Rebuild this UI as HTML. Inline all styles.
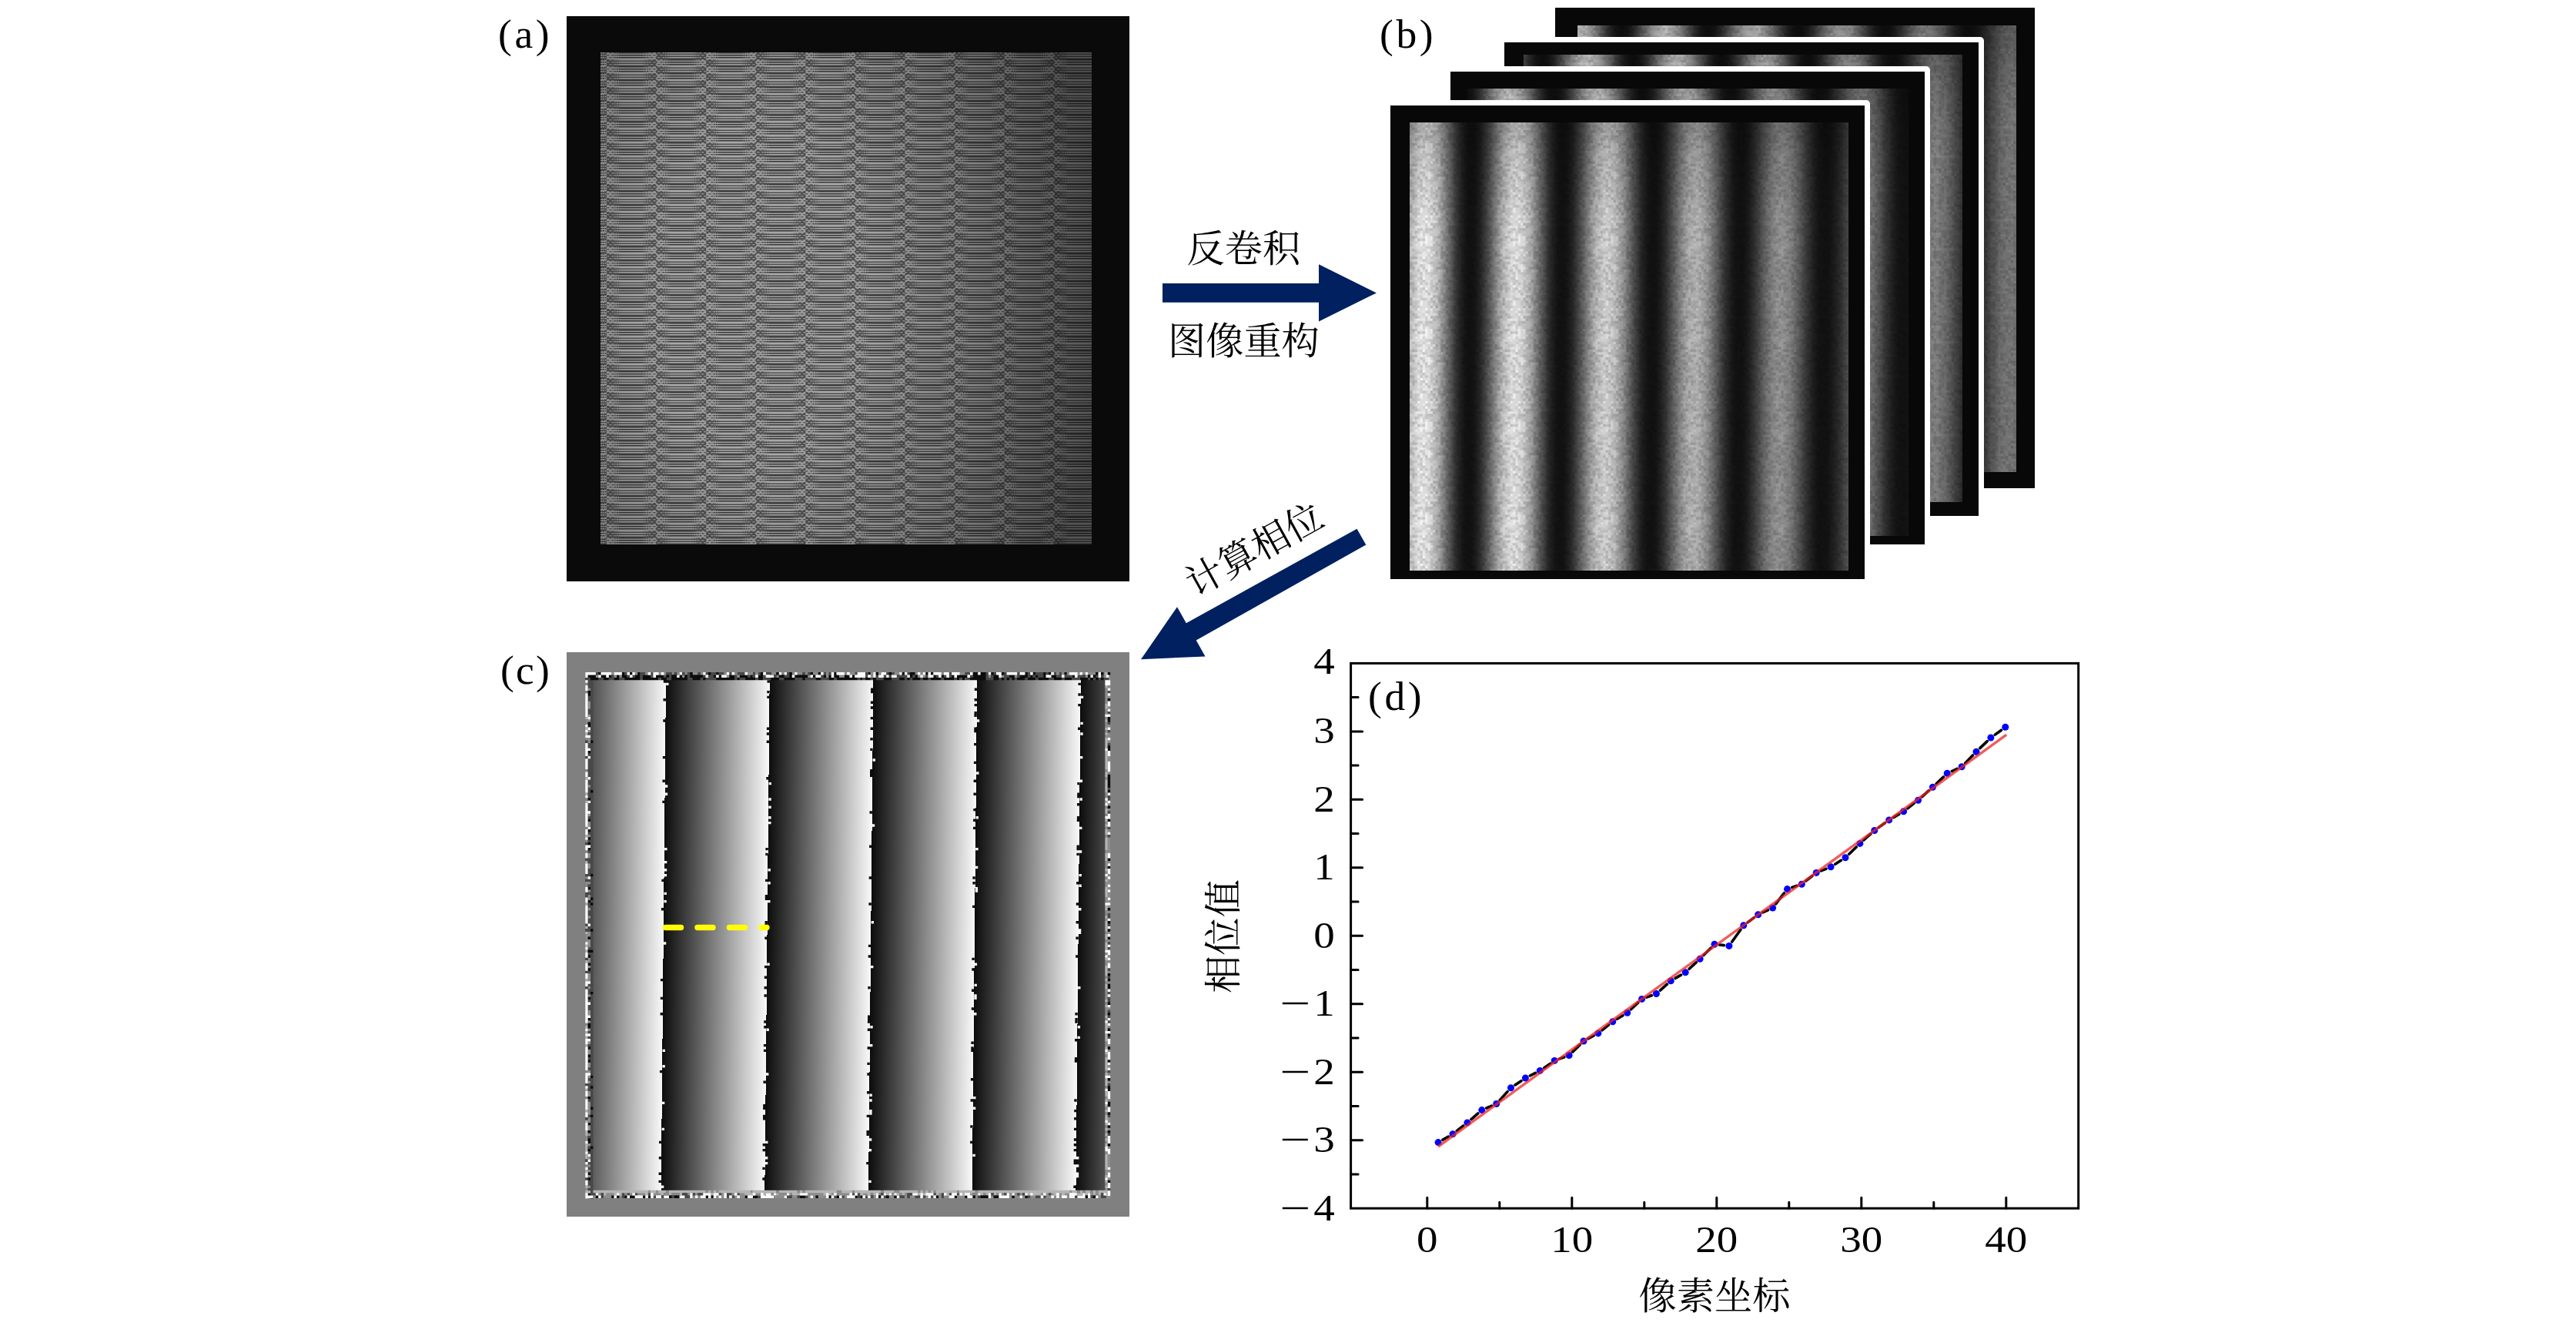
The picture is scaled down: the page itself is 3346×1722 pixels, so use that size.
<!DOCTYPE html>
<html lang="zh"><head><meta charset="utf-8"><title>figure</title>
<style>
html,body{margin:0;padding:0;background:#fff}
body{width:3346px;height:1722px;position:relative;overflow:hidden;font-family:"Liberation Serif","Noto Serif CJK SC",serif;color:#000}
.abs{position:absolute}
.fill{position:absolute;left:0;top:0;width:100%;height:100%}
.lab{position:absolute;font-size:53.5px;letter-spacing:3.6px;line-height:1;white-space:nowrap}
.frame{position:absolute;background:#080808}
.inner{position:absolute;overflow:hidden}
.fr{position:absolute;transform:rotate(.5deg);transform-origin:50% 50%}
.wb{position:absolute;background:#fff;border-top-right-radius:5px}
.nz{position:absolute;left:0;top:0;width:100%;height:100%;mix-blend-mode:multiply}

</style></head><body>
<svg width="0" height="0" style="position:absolute"><defs><pattern id="nz" width="120.60" height="120.60" patternUnits="userSpaceOnUse"><rect width="120.60" height="120.60" fill="#e6e6e6"/><path d="M10.05 0.00h3.35v3.35h-3.35zM20.10 0.00h3.35v3.35h-3.35zM26.80 0.00h3.35v3.35h-3.35zM33.50 0.00h3.35v3.35h-3.35zM36.85 0.00h3.35v3.35h-3.35zM70.35 0.00h3.35v3.35h-3.35zM83.75 0.00h3.35v3.35h-3.35zM110.55 0.00h3.35v3.35h-3.35zM113.90 0.00h3.35v3.35h-3.35zM50.25 3.35h3.35v3.35h-3.35zM67.00 3.35h3.35v3.35h-3.35zM113.90 3.35h3.35v3.35h-3.35zM20.10 6.70h3.35v3.35h-3.35zM30.15 6.70h3.35v3.35h-3.35zM33.50 6.70h3.35v3.35h-3.35zM53.60 6.70h3.35v3.35h-3.35zM113.90 6.70h3.35v3.35h-3.35zM23.45 10.05h3.35v3.35h-3.35zM46.90 10.05h3.35v3.35h-3.35zM53.60 10.05h3.35v3.35h-3.35zM56.95 10.05h3.35v3.35h-3.35zM70.35 10.05h3.35v3.35h-3.35zM73.70 10.05h3.35v3.35h-3.35zM80.40 10.05h3.35v3.35h-3.35zM87.10 10.05h3.35v3.35h-3.35zM6.70 13.40h3.35v3.35h-3.35zM10.05 13.40h3.35v3.35h-3.35zM26.80 13.40h3.35v3.35h-3.35zM43.55 13.40h3.35v3.35h-3.35zM117.25 13.40h3.35v3.35h-3.35zM0.00 16.75h3.35v3.35h-3.35zM67.00 16.75h3.35v3.35h-3.35zM36.85 20.10h3.35v3.35h-3.35zM3.35 23.45h3.35v3.35h-3.35zM13.40 23.45h3.35v3.35h-3.35zM46.90 23.45h3.35v3.35h-3.35zM20.10 26.80h3.35v3.35h-3.35zM26.80 26.80h3.35v3.35h-3.35zM103.85 26.80h3.35v3.35h-3.35zM113.90 26.80h3.35v3.35h-3.35zM6.70 30.15h3.35v3.35h-3.35zM20.10 30.15h3.35v3.35h-3.35zM26.80 30.15h3.35v3.35h-3.35zM67.00 30.15h3.35v3.35h-3.35zM70.35 30.15h3.35v3.35h-3.35zM80.40 30.15h3.35v3.35h-3.35zM93.80 30.15h3.35v3.35h-3.35zM100.50 30.15h3.35v3.35h-3.35zM13.40 33.50h3.35v3.35h-3.35zM20.10 33.50h3.35v3.35h-3.35zM50.25 33.50h3.35v3.35h-3.35zM56.95 33.50h3.35v3.35h-3.35zM77.05 33.50h3.35v3.35h-3.35zM6.70 36.85h3.35v3.35h-3.35zM13.40 36.85h3.35v3.35h-3.35zM26.80 36.85h3.35v3.35h-3.35zM87.10 36.85h3.35v3.35h-3.35zM107.20 36.85h3.35v3.35h-3.35zM113.90 36.85h3.35v3.35h-3.35zM0.00 40.20h3.35v3.35h-3.35zM3.35 40.20h3.35v3.35h-3.35zM53.60 40.20h3.35v3.35h-3.35zM110.55 40.20h3.35v3.35h-3.35zM0.00 43.55h3.35v3.35h-3.35zM23.45 43.55h3.35v3.35h-3.35zM43.55 43.55h3.35v3.35h-3.35zM53.60 43.55h3.35v3.35h-3.35zM97.15 43.55h3.35v3.35h-3.35zM117.25 43.55h3.35v3.35h-3.35zM0.00 46.90h3.35v3.35h-3.35zM30.15 46.90h3.35v3.35h-3.35zM46.90 46.90h3.35v3.35h-3.35zM117.25 46.90h3.35v3.35h-3.35zM0.00 50.25h3.35v3.35h-3.35zM26.80 50.25h3.35v3.35h-3.35zM77.05 50.25h3.35v3.35h-3.35zM80.40 50.25h3.35v3.35h-3.35zM16.75 53.60h3.35v3.35h-3.35zM36.85 53.60h3.35v3.35h-3.35zM117.25 53.60h3.35v3.35h-3.35zM3.35 56.95h3.35v3.35h-3.35zM40.20 56.95h3.35v3.35h-3.35zM90.45 56.95h3.35v3.35h-3.35zM93.80 56.95h3.35v3.35h-3.35zM110.55 56.95h3.35v3.35h-3.35zM13.40 60.30h3.35v3.35h-3.35zM46.90 60.30h3.35v3.35h-3.35zM80.40 60.30h3.35v3.35h-3.35zM83.75 60.30h3.35v3.35h-3.35zM103.85 60.30h3.35v3.35h-3.35zM23.45 63.65h3.35v3.35h-3.35zM50.25 63.65h3.35v3.35h-3.35zM23.45 67.00h3.35v3.35h-3.35zM26.80 67.00h3.35v3.35h-3.35zM63.65 67.00h3.35v3.35h-3.35zM83.75 67.00h3.35v3.35h-3.35zM0.00 70.35h3.35v3.35h-3.35zM23.45 70.35h3.35v3.35h-3.35zM36.85 70.35h3.35v3.35h-3.35zM40.20 70.35h3.35v3.35h-3.35zM43.55 70.35h3.35v3.35h-3.35zM87.10 70.35h3.35v3.35h-3.35zM103.85 70.35h3.35v3.35h-3.35zM50.25 73.70h3.35v3.35h-3.35zM63.65 73.70h3.35v3.35h-3.35zM67.00 73.70h3.35v3.35h-3.35zM90.45 73.70h3.35v3.35h-3.35zM93.80 73.70h3.35v3.35h-3.35zM77.05 77.05h3.35v3.35h-3.35zM93.80 77.05h3.35v3.35h-3.35zM100.50 77.05h3.35v3.35h-3.35zM16.75 80.40h3.35v3.35h-3.35zM53.60 80.40h3.35v3.35h-3.35zM80.40 80.40h3.35v3.35h-3.35zM83.75 80.40h3.35v3.35h-3.35zM97.15 80.40h3.35v3.35h-3.35zM33.50 83.75h3.35v3.35h-3.35zM60.30 83.75h3.35v3.35h-3.35zM73.70 83.75h3.35v3.35h-3.35zM100.50 83.75h3.35v3.35h-3.35zM10.05 87.10h3.35v3.35h-3.35zM80.40 87.10h3.35v3.35h-3.35zM90.45 87.10h3.35v3.35h-3.35zM97.15 87.10h3.35v3.35h-3.35zM13.40 90.45h3.35v3.35h-3.35zM43.55 90.45h3.35v3.35h-3.35zM53.60 90.45h3.35v3.35h-3.35zM63.65 90.45h3.35v3.35h-3.35zM70.35 90.45h3.35v3.35h-3.35zM83.75 90.45h3.35v3.35h-3.35zM20.10 93.80h3.35v3.35h-3.35zM67.00 93.80h3.35v3.35h-3.35zM93.80 93.80h3.35v3.35h-3.35zM0.00 97.15h3.35v3.35h-3.35zM43.55 97.15h3.35v3.35h-3.35zM70.35 97.15h3.35v3.35h-3.35zM73.70 97.15h3.35v3.35h-3.35zM103.85 97.15h3.35v3.35h-3.35zM107.20 97.15h3.35v3.35h-3.35zM113.90 97.15h3.35v3.35h-3.35zM33.50 100.50h3.35v3.35h-3.35zM53.60 100.50h3.35v3.35h-3.35zM87.10 100.50h3.35v3.35h-3.35zM100.50 100.50h3.35v3.35h-3.35zM107.20 100.50h3.35v3.35h-3.35zM26.80 103.85h3.35v3.35h-3.35zM40.20 103.85h3.35v3.35h-3.35zM63.65 103.85h3.35v3.35h-3.35zM70.35 103.85h3.35v3.35h-3.35zM3.35 107.20h3.35v3.35h-3.35zM87.10 107.20h3.35v3.35h-3.35zM97.15 107.20h3.35v3.35h-3.35zM100.50 107.20h3.35v3.35h-3.35zM113.90 107.20h3.35v3.35h-3.35zM117.25 107.20h3.35v3.35h-3.35zM13.40 110.55h3.35v3.35h-3.35zM33.50 110.55h3.35v3.35h-3.35zM46.90 110.55h3.35v3.35h-3.35zM53.60 110.55h3.35v3.35h-3.35zM56.95 110.55h3.35v3.35h-3.35zM80.40 110.55h3.35v3.35h-3.35zM83.75 110.55h3.35v3.35h-3.35zM100.50 110.55h3.35v3.35h-3.35zM13.40 113.90h3.35v3.35h-3.35zM43.55 113.90h3.35v3.35h-3.35zM53.60 113.90h3.35v3.35h-3.35zM67.00 113.90h3.35v3.35h-3.35zM113.90 113.90h3.35v3.35h-3.35zM0.00 117.25h3.35v3.35h-3.35zM30.15 117.25h3.35v3.35h-3.35zM36.85 117.25h3.35v3.35h-3.35z" fill="#ffffff"/><path d="M0.00 0.00h3.35v3.35h-3.35zM3.35 0.00h3.35v3.35h-3.35zM46.90 0.00h3.35v3.35h-3.35zM50.25 0.00h3.35v3.35h-3.35zM77.05 0.00h3.35v3.35h-3.35zM80.40 0.00h3.35v3.35h-3.35zM87.10 0.00h3.35v3.35h-3.35zM93.80 0.00h3.35v3.35h-3.35zM117.25 0.00h3.35v3.35h-3.35zM6.70 3.35h3.35v3.35h-3.35zM16.75 3.35h3.35v3.35h-3.35zM26.80 3.35h3.35v3.35h-3.35zM43.55 3.35h3.35v3.35h-3.35zM60.30 3.35h3.35v3.35h-3.35zM83.75 3.35h3.35v3.35h-3.35zM10.05 6.70h3.35v3.35h-3.35zM26.80 6.70h3.35v3.35h-3.35zM40.20 6.70h3.35v3.35h-3.35zM43.55 6.70h3.35v3.35h-3.35zM73.70 6.70h3.35v3.35h-3.35zM90.45 6.70h3.35v3.35h-3.35zM93.80 6.70h3.35v3.35h-3.35zM97.15 6.70h3.35v3.35h-3.35zM100.50 6.70h3.35v3.35h-3.35zM110.55 6.70h3.35v3.35h-3.35zM60.30 10.05h3.35v3.35h-3.35zM63.65 10.05h3.35v3.35h-3.35zM67.00 10.05h3.35v3.35h-3.35zM77.05 10.05h3.35v3.35h-3.35zM97.15 10.05h3.35v3.35h-3.35zM100.50 10.05h3.35v3.35h-3.35zM103.85 10.05h3.35v3.35h-3.35zM110.55 10.05h3.35v3.35h-3.35zM13.40 13.40h3.35v3.35h-3.35zM16.75 13.40h3.35v3.35h-3.35zM23.45 13.40h3.35v3.35h-3.35zM36.85 13.40h3.35v3.35h-3.35zM60.30 13.40h3.35v3.35h-3.35zM67.00 13.40h3.35v3.35h-3.35zM80.40 13.40h3.35v3.35h-3.35zM83.75 13.40h3.35v3.35h-3.35zM107.20 13.40h3.35v3.35h-3.35zM3.35 16.75h3.35v3.35h-3.35zM6.70 16.75h3.35v3.35h-3.35zM33.50 16.75h3.35v3.35h-3.35zM36.85 16.75h3.35v3.35h-3.35zM40.20 16.75h3.35v3.35h-3.35zM43.55 16.75h3.35v3.35h-3.35zM87.10 16.75h3.35v3.35h-3.35zM93.80 16.75h3.35v3.35h-3.35zM117.25 16.75h3.35v3.35h-3.35zM0.00 20.10h3.35v3.35h-3.35zM3.35 20.10h3.35v3.35h-3.35zM13.40 20.10h3.35v3.35h-3.35zM33.50 20.10h3.35v3.35h-3.35zM63.65 20.10h3.35v3.35h-3.35zM67.00 20.10h3.35v3.35h-3.35zM70.35 20.10h3.35v3.35h-3.35zM73.70 20.10h3.35v3.35h-3.35zM80.40 20.10h3.35v3.35h-3.35zM87.10 20.10h3.35v3.35h-3.35zM10.05 23.45h3.35v3.35h-3.35zM20.10 23.45h3.35v3.35h-3.35zM33.50 23.45h3.35v3.35h-3.35zM53.60 23.45h3.35v3.35h-3.35zM56.95 23.45h3.35v3.35h-3.35zM117.25 23.45h3.35v3.35h-3.35zM10.05 26.80h3.35v3.35h-3.35zM13.40 26.80h3.35v3.35h-3.35zM23.45 26.80h3.35v3.35h-3.35zM40.20 26.80h3.35v3.35h-3.35zM50.25 26.80h3.35v3.35h-3.35zM60.30 26.80h3.35v3.35h-3.35zM80.40 26.80h3.35v3.35h-3.35zM90.45 26.80h3.35v3.35h-3.35zM93.80 26.80h3.35v3.35h-3.35zM97.15 26.80h3.35v3.35h-3.35zM117.25 26.80h3.35v3.35h-3.35zM23.45 30.15h3.35v3.35h-3.35zM33.50 30.15h3.35v3.35h-3.35zM36.85 30.15h3.35v3.35h-3.35zM50.25 30.15h3.35v3.35h-3.35zM53.60 30.15h3.35v3.35h-3.35zM110.55 30.15h3.35v3.35h-3.35zM0.00 33.50h3.35v3.35h-3.35zM3.35 33.50h3.35v3.35h-3.35zM10.05 33.50h3.35v3.35h-3.35zM16.75 33.50h3.35v3.35h-3.35zM23.45 33.50h3.35v3.35h-3.35zM26.80 33.50h3.35v3.35h-3.35zM30.15 33.50h3.35v3.35h-3.35zM36.85 33.50h3.35v3.35h-3.35zM43.55 33.50h3.35v3.35h-3.35zM46.90 33.50h3.35v3.35h-3.35zM53.60 33.50h3.35v3.35h-3.35zM67.00 33.50h3.35v3.35h-3.35zM107.20 33.50h3.35v3.35h-3.35zM3.35 36.85h3.35v3.35h-3.35zM10.05 36.85h3.35v3.35h-3.35zM20.10 36.85h3.35v3.35h-3.35zM23.45 36.85h3.35v3.35h-3.35zM40.20 36.85h3.35v3.35h-3.35zM43.55 36.85h3.35v3.35h-3.35zM46.90 36.85h3.35v3.35h-3.35zM53.60 36.85h3.35v3.35h-3.35zM60.30 36.85h3.35v3.35h-3.35zM73.70 36.85h3.35v3.35h-3.35zM80.40 36.85h3.35v3.35h-3.35zM100.50 36.85h3.35v3.35h-3.35zM110.55 36.85h3.35v3.35h-3.35zM6.70 40.20h3.35v3.35h-3.35zM10.05 40.20h3.35v3.35h-3.35zM36.85 40.20h3.35v3.35h-3.35zM43.55 40.20h3.35v3.35h-3.35zM73.70 40.20h3.35v3.35h-3.35zM107.20 40.20h3.35v3.35h-3.35zM113.90 40.20h3.35v3.35h-3.35zM50.25 43.55h3.35v3.35h-3.35zM56.95 43.55h3.35v3.35h-3.35zM63.65 43.55h3.35v3.35h-3.35zM100.50 43.55h3.35v3.35h-3.35zM103.85 43.55h3.35v3.35h-3.35zM110.55 43.55h3.35v3.35h-3.35zM3.35 46.90h3.35v3.35h-3.35zM16.75 46.90h3.35v3.35h-3.35zM36.85 46.90h3.35v3.35h-3.35zM63.65 46.90h3.35v3.35h-3.35zM67.00 46.90h3.35v3.35h-3.35zM73.70 46.90h3.35v3.35h-3.35zM80.40 46.90h3.35v3.35h-3.35zM90.45 46.90h3.35v3.35h-3.35zM107.20 46.90h3.35v3.35h-3.35zM10.05 50.25h3.35v3.35h-3.35zM13.40 50.25h3.35v3.35h-3.35zM16.75 50.25h3.35v3.35h-3.35zM20.10 50.25h3.35v3.35h-3.35zM36.85 50.25h3.35v3.35h-3.35zM50.25 50.25h3.35v3.35h-3.35zM73.70 50.25h3.35v3.35h-3.35zM87.10 50.25h3.35v3.35h-3.35zM93.80 50.25h3.35v3.35h-3.35zM97.15 50.25h3.35v3.35h-3.35zM103.85 50.25h3.35v3.35h-3.35zM33.50 53.60h3.35v3.35h-3.35zM43.55 53.60h3.35v3.35h-3.35zM50.25 53.60h3.35v3.35h-3.35zM53.60 53.60h3.35v3.35h-3.35zM63.65 53.60h3.35v3.35h-3.35zM70.35 53.60h3.35v3.35h-3.35zM80.40 53.60h3.35v3.35h-3.35zM83.75 53.60h3.35v3.35h-3.35zM87.10 53.60h3.35v3.35h-3.35zM97.15 53.60h3.35v3.35h-3.35zM110.55 53.60h3.35v3.35h-3.35zM113.90 53.60h3.35v3.35h-3.35zM0.00 56.95h3.35v3.35h-3.35zM6.70 56.95h3.35v3.35h-3.35zM10.05 56.95h3.35v3.35h-3.35zM36.85 56.95h3.35v3.35h-3.35zM43.55 56.95h3.35v3.35h-3.35zM50.25 56.95h3.35v3.35h-3.35zM63.65 56.95h3.35v3.35h-3.35zM67.00 56.95h3.35v3.35h-3.35zM70.35 56.95h3.35v3.35h-3.35zM10.05 60.30h3.35v3.35h-3.35zM16.75 60.30h3.35v3.35h-3.35zM53.60 60.30h3.35v3.35h-3.35zM63.65 60.30h3.35v3.35h-3.35zM67.00 60.30h3.35v3.35h-3.35zM70.35 60.30h3.35v3.35h-3.35zM97.15 60.30h3.35v3.35h-3.35zM107.20 60.30h3.35v3.35h-3.35zM6.70 63.65h3.35v3.35h-3.35zM10.05 63.65h3.35v3.35h-3.35zM20.10 63.65h3.35v3.35h-3.35zM36.85 63.65h3.35v3.35h-3.35zM46.90 63.65h3.35v3.35h-3.35zM53.60 63.65h3.35v3.35h-3.35zM63.65 63.65h3.35v3.35h-3.35zM77.05 63.65h3.35v3.35h-3.35zM83.75 63.65h3.35v3.35h-3.35zM90.45 63.65h3.35v3.35h-3.35zM93.80 63.65h3.35v3.35h-3.35zM100.50 63.65h3.35v3.35h-3.35zM110.55 63.65h3.35v3.35h-3.35zM113.90 63.65h3.35v3.35h-3.35zM6.70 67.00h3.35v3.35h-3.35zM13.40 67.00h3.35v3.35h-3.35zM20.10 67.00h3.35v3.35h-3.35zM50.25 67.00h3.35v3.35h-3.35zM53.60 67.00h3.35v3.35h-3.35zM77.05 67.00h3.35v3.35h-3.35zM80.40 67.00h3.35v3.35h-3.35zM87.10 67.00h3.35v3.35h-3.35zM97.15 67.00h3.35v3.35h-3.35zM103.85 67.00h3.35v3.35h-3.35zM13.40 70.35h3.35v3.35h-3.35zM50.25 70.35h3.35v3.35h-3.35zM60.30 70.35h3.35v3.35h-3.35zM63.65 70.35h3.35v3.35h-3.35zM73.70 70.35h3.35v3.35h-3.35zM80.40 70.35h3.35v3.35h-3.35zM83.75 70.35h3.35v3.35h-3.35zM107.20 70.35h3.35v3.35h-3.35zM3.35 73.70h3.35v3.35h-3.35zM16.75 73.70h3.35v3.35h-3.35zM36.85 73.70h3.35v3.35h-3.35zM40.20 73.70h3.35v3.35h-3.35zM53.60 73.70h3.35v3.35h-3.35zM60.30 73.70h3.35v3.35h-3.35zM73.70 73.70h3.35v3.35h-3.35zM87.10 73.70h3.35v3.35h-3.35zM107.20 73.70h3.35v3.35h-3.35zM10.05 77.05h3.35v3.35h-3.35zM16.75 77.05h3.35v3.35h-3.35zM30.15 77.05h3.35v3.35h-3.35zM33.50 77.05h3.35v3.35h-3.35zM36.85 77.05h3.35v3.35h-3.35zM40.20 77.05h3.35v3.35h-3.35zM50.25 77.05h3.35v3.35h-3.35zM63.65 77.05h3.35v3.35h-3.35zM97.15 77.05h3.35v3.35h-3.35zM103.85 77.05h3.35v3.35h-3.35zM6.70 80.40h3.35v3.35h-3.35zM26.80 80.40h3.35v3.35h-3.35zM33.50 80.40h3.35v3.35h-3.35zM36.85 80.40h3.35v3.35h-3.35zM40.20 80.40h3.35v3.35h-3.35zM50.25 80.40h3.35v3.35h-3.35zM56.95 80.40h3.35v3.35h-3.35zM63.65 80.40h3.35v3.35h-3.35zM67.00 80.40h3.35v3.35h-3.35zM70.35 80.40h3.35v3.35h-3.35zM100.50 80.40h3.35v3.35h-3.35zM110.55 80.40h3.35v3.35h-3.35zM113.90 80.40h3.35v3.35h-3.35zM0.00 83.75h3.35v3.35h-3.35zM23.45 83.75h3.35v3.35h-3.35zM30.15 83.75h3.35v3.35h-3.35zM56.95 83.75h3.35v3.35h-3.35zM87.10 83.75h3.35v3.35h-3.35zM90.45 83.75h3.35v3.35h-3.35zM113.90 83.75h3.35v3.35h-3.35zM117.25 83.75h3.35v3.35h-3.35zM30.15 87.10h3.35v3.35h-3.35zM36.85 87.10h3.35v3.35h-3.35zM50.25 87.10h3.35v3.35h-3.35zM53.60 87.10h3.35v3.35h-3.35zM67.00 87.10h3.35v3.35h-3.35zM70.35 87.10h3.35v3.35h-3.35zM110.55 87.10h3.35v3.35h-3.35zM23.45 90.45h3.35v3.35h-3.35zM36.85 90.45h3.35v3.35h-3.35zM46.90 90.45h3.35v3.35h-3.35zM97.15 90.45h3.35v3.35h-3.35zM113.90 90.45h3.35v3.35h-3.35zM10.05 93.80h3.35v3.35h-3.35zM30.15 93.80h3.35v3.35h-3.35zM36.85 93.80h3.35v3.35h-3.35zM43.55 93.80h3.35v3.35h-3.35zM53.60 93.80h3.35v3.35h-3.35zM56.95 93.80h3.35v3.35h-3.35zM63.65 93.80h3.35v3.35h-3.35zM70.35 93.80h3.35v3.35h-3.35zM73.70 93.80h3.35v3.35h-3.35zM87.10 93.80h3.35v3.35h-3.35zM16.75 97.15h3.35v3.35h-3.35zM36.85 97.15h3.35v3.35h-3.35zM50.25 97.15h3.35v3.35h-3.35zM67.00 97.15h3.35v3.35h-3.35zM77.05 97.15h3.35v3.35h-3.35zM93.80 97.15h3.35v3.35h-3.35zM97.15 97.15h3.35v3.35h-3.35zM0.00 100.50h3.35v3.35h-3.35zM10.05 100.50h3.35v3.35h-3.35zM20.10 100.50h3.35v3.35h-3.35zM26.80 100.50h3.35v3.35h-3.35zM30.15 100.50h3.35v3.35h-3.35zM50.25 100.50h3.35v3.35h-3.35zM80.40 100.50h3.35v3.35h-3.35zM97.15 100.50h3.35v3.35h-3.35zM117.25 100.50h3.35v3.35h-3.35zM0.00 103.85h3.35v3.35h-3.35zM16.75 103.85h3.35v3.35h-3.35zM20.10 103.85h3.35v3.35h-3.35zM23.45 103.85h3.35v3.35h-3.35zM60.30 103.85h3.35v3.35h-3.35zM67.00 103.85h3.35v3.35h-3.35zM73.70 103.85h3.35v3.35h-3.35zM90.45 103.85h3.35v3.35h-3.35zM107.20 103.85h3.35v3.35h-3.35zM117.25 103.85h3.35v3.35h-3.35zM6.70 107.20h3.35v3.35h-3.35zM10.05 107.20h3.35v3.35h-3.35zM23.45 107.20h3.35v3.35h-3.35zM30.15 107.20h3.35v3.35h-3.35zM33.50 107.20h3.35v3.35h-3.35zM77.05 107.20h3.35v3.35h-3.35zM80.40 107.20h3.35v3.35h-3.35zM93.80 107.20h3.35v3.35h-3.35zM107.20 107.20h3.35v3.35h-3.35zM110.55 107.20h3.35v3.35h-3.35zM50.25 110.55h3.35v3.35h-3.35zM77.05 110.55h3.35v3.35h-3.35zM90.45 110.55h3.35v3.35h-3.35zM93.80 110.55h3.35v3.35h-3.35zM103.85 110.55h3.35v3.35h-3.35zM107.20 110.55h3.35v3.35h-3.35zM117.25 110.55h3.35v3.35h-3.35zM26.80 113.90h3.35v3.35h-3.35zM36.85 113.90h3.35v3.35h-3.35zM50.25 113.90h3.35v3.35h-3.35zM56.95 113.90h3.35v3.35h-3.35zM80.40 113.90h3.35v3.35h-3.35zM87.10 113.90h3.35v3.35h-3.35zM93.80 113.90h3.35v3.35h-3.35zM100.50 113.90h3.35v3.35h-3.35zM103.85 113.90h3.35v3.35h-3.35zM40.20 117.25h3.35v3.35h-3.35zM43.55 117.25h3.35v3.35h-3.35zM60.30 117.25h3.35v3.35h-3.35zM80.40 117.25h3.35v3.35h-3.35zM83.75 117.25h3.35v3.35h-3.35zM87.10 117.25h3.35v3.35h-3.35zM100.50 117.25h3.35v3.35h-3.35zM113.90 117.25h3.35v3.35h-3.35z" fill="#f2f2f2"/><path d="M6.70 0.00h3.35v3.35h-3.35zM43.55 0.00h3.35v3.35h-3.35zM73.70 0.00h3.35v3.35h-3.35zM90.45 0.00h3.35v3.35h-3.35zM0.00 3.35h3.35v3.35h-3.35zM20.10 3.35h3.35v3.35h-3.35zM23.45 3.35h3.35v3.35h-3.35zM36.85 3.35h3.35v3.35h-3.35zM40.20 3.35h3.35v3.35h-3.35zM56.95 3.35h3.35v3.35h-3.35zM70.35 3.35h3.35v3.35h-3.35zM73.70 3.35h3.35v3.35h-3.35zM80.40 3.35h3.35v3.35h-3.35zM87.10 3.35h3.35v3.35h-3.35zM100.50 3.35h3.35v3.35h-3.35zM110.55 3.35h3.35v3.35h-3.35zM117.25 3.35h3.35v3.35h-3.35zM6.70 6.70h3.35v3.35h-3.35zM16.75 6.70h3.35v3.35h-3.35zM36.85 6.70h3.35v3.35h-3.35zM50.25 6.70h3.35v3.35h-3.35zM67.00 6.70h3.35v3.35h-3.35zM70.35 6.70h3.35v3.35h-3.35zM10.05 10.05h3.35v3.35h-3.35zM20.10 10.05h3.35v3.35h-3.35zM30.15 10.05h3.35v3.35h-3.35zM33.50 10.05h3.35v3.35h-3.35zM36.85 10.05h3.35v3.35h-3.35zM90.45 10.05h3.35v3.35h-3.35zM113.90 10.05h3.35v3.35h-3.35zM20.10 13.40h3.35v3.35h-3.35zM53.60 13.40h3.35v3.35h-3.35zM56.95 13.40h3.35v3.35h-3.35zM70.35 13.40h3.35v3.35h-3.35zM77.05 13.40h3.35v3.35h-3.35zM87.10 13.40h3.35v3.35h-3.35zM93.80 13.40h3.35v3.35h-3.35zM97.15 13.40h3.35v3.35h-3.35zM100.50 13.40h3.35v3.35h-3.35zM103.85 13.40h3.35v3.35h-3.35zM10.05 16.75h3.35v3.35h-3.35zM53.60 16.75h3.35v3.35h-3.35zM60.30 16.75h3.35v3.35h-3.35zM63.65 16.75h3.35v3.35h-3.35zM70.35 16.75h3.35v3.35h-3.35zM77.05 16.75h3.35v3.35h-3.35zM80.40 16.75h3.35v3.35h-3.35zM90.45 16.75h3.35v3.35h-3.35zM97.15 16.75h3.35v3.35h-3.35zM113.90 16.75h3.35v3.35h-3.35zM10.05 20.10h3.35v3.35h-3.35zM16.75 20.10h3.35v3.35h-3.35zM23.45 20.10h3.35v3.35h-3.35zM56.95 20.10h3.35v3.35h-3.35zM60.30 20.10h3.35v3.35h-3.35zM16.75 23.45h3.35v3.35h-3.35zM26.80 23.45h3.35v3.35h-3.35zM43.55 23.45h3.35v3.35h-3.35zM60.30 23.45h3.35v3.35h-3.35zM70.35 23.45h3.35v3.35h-3.35zM90.45 23.45h3.35v3.35h-3.35zM107.20 23.45h3.35v3.35h-3.35zM110.55 23.45h3.35v3.35h-3.35zM6.70 26.80h3.35v3.35h-3.35zM30.15 26.80h3.35v3.35h-3.35zM33.50 26.80h3.35v3.35h-3.35zM43.55 26.80h3.35v3.35h-3.35zM46.90 26.80h3.35v3.35h-3.35zM77.05 26.80h3.35v3.35h-3.35zM100.50 26.80h3.35v3.35h-3.35zM13.40 30.15h3.35v3.35h-3.35zM30.15 30.15h3.35v3.35h-3.35zM46.90 30.15h3.35v3.35h-3.35zM63.65 30.15h3.35v3.35h-3.35zM73.70 30.15h3.35v3.35h-3.35zM90.45 30.15h3.35v3.35h-3.35zM97.15 30.15h3.35v3.35h-3.35zM103.85 30.15h3.35v3.35h-3.35zM33.50 33.50h3.35v3.35h-3.35zM60.30 33.50h3.35v3.35h-3.35zM80.40 33.50h3.35v3.35h-3.35zM90.45 33.50h3.35v3.35h-3.35zM100.50 33.50h3.35v3.35h-3.35zM110.55 33.50h3.35v3.35h-3.35zM113.90 33.50h3.35v3.35h-3.35zM16.75 36.85h3.35v3.35h-3.35zM30.15 36.85h3.35v3.35h-3.35zM33.50 36.85h3.35v3.35h-3.35zM36.85 36.85h3.35v3.35h-3.35zM20.10 40.20h3.35v3.35h-3.35zM23.45 40.20h3.35v3.35h-3.35zM26.80 40.20h3.35v3.35h-3.35zM30.15 40.20h3.35v3.35h-3.35zM46.90 40.20h3.35v3.35h-3.35zM56.95 40.20h3.35v3.35h-3.35zM67.00 40.20h3.35v3.35h-3.35zM70.35 40.20h3.35v3.35h-3.35zM83.75 40.20h3.35v3.35h-3.35zM87.10 40.20h3.35v3.35h-3.35zM90.45 40.20h3.35v3.35h-3.35zM100.50 40.20h3.35v3.35h-3.35zM103.85 40.20h3.35v3.35h-3.35zM3.35 43.55h3.35v3.35h-3.35zM16.75 43.55h3.35v3.35h-3.35zM26.80 43.55h3.35v3.35h-3.35zM30.15 43.55h3.35v3.35h-3.35zM40.20 43.55h3.35v3.35h-3.35zM46.90 43.55h3.35v3.35h-3.35zM60.30 43.55h3.35v3.35h-3.35zM67.00 43.55h3.35v3.35h-3.35zM83.75 43.55h3.35v3.35h-3.35zM87.10 43.55h3.35v3.35h-3.35zM107.20 43.55h3.35v3.35h-3.35zM6.70 46.90h3.35v3.35h-3.35zM10.05 46.90h3.35v3.35h-3.35zM13.40 46.90h3.35v3.35h-3.35zM53.60 46.90h3.35v3.35h-3.35zM93.80 46.90h3.35v3.35h-3.35zM103.85 46.90h3.35v3.35h-3.35zM23.45 50.25h3.35v3.35h-3.35zM30.15 50.25h3.35v3.35h-3.35zM33.50 50.25h3.35v3.35h-3.35zM43.55 50.25h3.35v3.35h-3.35zM83.75 50.25h3.35v3.35h-3.35zM117.25 50.25h3.35v3.35h-3.35zM13.40 53.60h3.35v3.35h-3.35zM20.10 53.60h3.35v3.35h-3.35zM26.80 53.60h3.35v3.35h-3.35zM56.95 53.60h3.35v3.35h-3.35zM67.00 53.60h3.35v3.35h-3.35zM20.10 56.95h3.35v3.35h-3.35zM60.30 56.95h3.35v3.35h-3.35zM83.75 56.95h3.35v3.35h-3.35zM87.10 56.95h3.35v3.35h-3.35zM97.15 56.95h3.35v3.35h-3.35zM0.00 60.30h3.35v3.35h-3.35zM3.35 60.30h3.35v3.35h-3.35zM23.45 60.30h3.35v3.35h-3.35zM30.15 60.30h3.35v3.35h-3.35zM36.85 60.30h3.35v3.35h-3.35zM50.25 60.30h3.35v3.35h-3.35zM77.05 60.30h3.35v3.35h-3.35zM16.75 63.65h3.35v3.35h-3.35zM30.15 63.65h3.35v3.35h-3.35zM40.20 63.65h3.35v3.35h-3.35zM60.30 63.65h3.35v3.35h-3.35zM67.00 63.65h3.35v3.35h-3.35zM70.35 63.65h3.35v3.35h-3.35zM87.10 63.65h3.35v3.35h-3.35zM97.15 63.65h3.35v3.35h-3.35zM0.00 67.00h3.35v3.35h-3.35zM40.20 67.00h3.35v3.35h-3.35zM60.30 67.00h3.35v3.35h-3.35zM67.00 67.00h3.35v3.35h-3.35zM110.55 67.00h3.35v3.35h-3.35zM113.90 67.00h3.35v3.35h-3.35zM30.15 70.35h3.35v3.35h-3.35zM33.50 70.35h3.35v3.35h-3.35zM53.60 70.35h3.35v3.35h-3.35zM77.05 70.35h3.35v3.35h-3.35zM90.45 70.35h3.35v3.35h-3.35zM20.10 73.70h3.35v3.35h-3.35zM23.45 73.70h3.35v3.35h-3.35zM26.80 73.70h3.35v3.35h-3.35zM30.15 73.70h3.35v3.35h-3.35zM46.90 73.70h3.35v3.35h-3.35zM56.95 73.70h3.35v3.35h-3.35zM100.50 73.70h3.35v3.35h-3.35zM117.25 73.70h3.35v3.35h-3.35zM0.00 77.05h3.35v3.35h-3.35zM3.35 77.05h3.35v3.35h-3.35zM6.70 77.05h3.35v3.35h-3.35zM13.40 77.05h3.35v3.35h-3.35zM26.80 77.05h3.35v3.35h-3.35zM67.00 77.05h3.35v3.35h-3.35zM70.35 77.05h3.35v3.35h-3.35zM83.75 77.05h3.35v3.35h-3.35zM87.10 77.05h3.35v3.35h-3.35zM0.00 80.40h3.35v3.35h-3.35zM10.05 80.40h3.35v3.35h-3.35zM46.90 80.40h3.35v3.35h-3.35zM60.30 80.40h3.35v3.35h-3.35zM73.70 80.40h3.35v3.35h-3.35zM103.85 80.40h3.35v3.35h-3.35zM13.40 83.75h3.35v3.35h-3.35zM26.80 83.75h3.35v3.35h-3.35zM43.55 83.75h3.35v3.35h-3.35zM107.20 83.75h3.35v3.35h-3.35zM26.80 87.10h3.35v3.35h-3.35zM33.50 87.10h3.35v3.35h-3.35zM43.55 87.10h3.35v3.35h-3.35zM46.90 87.10h3.35v3.35h-3.35zM73.70 87.10h3.35v3.35h-3.35zM87.10 87.10h3.35v3.35h-3.35zM93.80 87.10h3.35v3.35h-3.35zM3.35 90.45h3.35v3.35h-3.35zM26.80 90.45h3.35v3.35h-3.35zM30.15 90.45h3.35v3.35h-3.35zM73.70 90.45h3.35v3.35h-3.35zM77.05 90.45h3.35v3.35h-3.35zM100.50 90.45h3.35v3.35h-3.35zM107.20 90.45h3.35v3.35h-3.35zM110.55 90.45h3.35v3.35h-3.35zM13.40 93.80h3.35v3.35h-3.35zM26.80 93.80h3.35v3.35h-3.35zM40.20 93.80h3.35v3.35h-3.35zM80.40 93.80h3.35v3.35h-3.35zM90.45 93.80h3.35v3.35h-3.35zM107.20 93.80h3.35v3.35h-3.35zM13.40 97.15h3.35v3.35h-3.35zM30.15 97.15h3.35v3.35h-3.35zM40.20 97.15h3.35v3.35h-3.35zM46.90 97.15h3.35v3.35h-3.35zM63.65 97.15h3.35v3.35h-3.35zM100.50 97.15h3.35v3.35h-3.35zM40.20 100.50h3.35v3.35h-3.35zM43.55 100.50h3.35v3.35h-3.35zM77.05 100.50h3.35v3.35h-3.35zM103.85 100.50h3.35v3.35h-3.35zM13.40 103.85h3.35v3.35h-3.35zM33.50 103.85h3.35v3.35h-3.35zM36.85 103.85h3.35v3.35h-3.35zM43.55 103.85h3.35v3.35h-3.35zM46.90 103.85h3.35v3.35h-3.35zM53.60 103.85h3.35v3.35h-3.35zM77.05 103.85h3.35v3.35h-3.35zM80.40 103.85h3.35v3.35h-3.35zM83.75 103.85h3.35v3.35h-3.35zM87.10 103.85h3.35v3.35h-3.35zM100.50 103.85h3.35v3.35h-3.35zM13.40 107.20h3.35v3.35h-3.35zM20.10 107.20h3.35v3.35h-3.35zM43.55 107.20h3.35v3.35h-3.35zM46.90 107.20h3.35v3.35h-3.35zM56.95 107.20h3.35v3.35h-3.35zM60.30 107.20h3.35v3.35h-3.35zM63.65 107.20h3.35v3.35h-3.35zM70.35 107.20h3.35v3.35h-3.35zM0.00 110.55h3.35v3.35h-3.35zM6.70 110.55h3.35v3.35h-3.35zM10.05 110.55h3.35v3.35h-3.35zM23.45 110.55h3.35v3.35h-3.35zM26.80 110.55h3.35v3.35h-3.35zM36.85 110.55h3.35v3.35h-3.35zM60.30 110.55h3.35v3.35h-3.35zM63.65 110.55h3.35v3.35h-3.35zM70.35 110.55h3.35v3.35h-3.35zM87.10 110.55h3.35v3.35h-3.35zM110.55 110.55h3.35v3.35h-3.35zM6.70 113.90h3.35v3.35h-3.35zM23.45 113.90h3.35v3.35h-3.35zM30.15 113.90h3.35v3.35h-3.35zM40.20 113.90h3.35v3.35h-3.35zM46.90 113.90h3.35v3.35h-3.35zM60.30 113.90h3.35v3.35h-3.35zM77.05 113.90h3.35v3.35h-3.35zM90.45 113.90h3.35v3.35h-3.35zM107.20 113.90h3.35v3.35h-3.35zM3.35 117.25h3.35v3.35h-3.35zM6.70 117.25h3.35v3.35h-3.35zM10.05 117.25h3.35v3.35h-3.35zM70.35 117.25h3.35v3.35h-3.35zM73.70 117.25h3.35v3.35h-3.35zM90.45 117.25h3.35v3.35h-3.35zM93.80 117.25h3.35v3.35h-3.35zM97.15 117.25h3.35v3.35h-3.35zM107.20 117.25h3.35v3.35h-3.35z" fill="#d9d9d9"/><path d="M56.95 0.00h3.35v3.35h-3.35zM67.00 0.00h3.35v3.35h-3.35zM46.90 3.35h3.35v3.35h-3.35zM103.85 3.35h3.35v3.35h-3.35zM3.35 6.70h3.35v3.35h-3.35zM63.65 6.70h3.35v3.35h-3.35zM83.75 6.70h3.35v3.35h-3.35zM87.10 6.70h3.35v3.35h-3.35zM6.70 10.05h3.35v3.35h-3.35zM26.80 10.05h3.35v3.35h-3.35zM117.25 10.05h3.35v3.35h-3.35zM30.15 13.40h3.35v3.35h-3.35zM50.25 13.40h3.35v3.35h-3.35zM90.45 13.40h3.35v3.35h-3.35zM13.40 16.75h3.35v3.35h-3.35zM20.10 16.75h3.35v3.35h-3.35zM23.45 16.75h3.35v3.35h-3.35zM26.80 16.75h3.35v3.35h-3.35zM50.25 16.75h3.35v3.35h-3.35zM73.70 16.75h3.35v3.35h-3.35zM100.50 16.75h3.35v3.35h-3.35zM110.55 16.75h3.35v3.35h-3.35zM6.70 20.10h3.35v3.35h-3.35zM20.10 20.10h3.35v3.35h-3.35zM40.20 20.10h3.35v3.35h-3.35zM50.25 20.10h3.35v3.35h-3.35zM90.45 20.10h3.35v3.35h-3.35zM103.85 20.10h3.35v3.35h-3.35zM110.55 20.10h3.35v3.35h-3.35zM73.70 23.45h3.35v3.35h-3.35zM103.85 23.45h3.35v3.35h-3.35zM113.90 23.45h3.35v3.35h-3.35zM3.35 26.80h3.35v3.35h-3.35zM36.85 26.80h3.35v3.35h-3.35zM53.60 26.80h3.35v3.35h-3.35zM56.95 26.80h3.35v3.35h-3.35zM63.65 26.80h3.35v3.35h-3.35zM73.70 26.80h3.35v3.35h-3.35zM10.05 30.15h3.35v3.35h-3.35zM16.75 30.15h3.35v3.35h-3.35zM43.55 30.15h3.35v3.35h-3.35zM56.95 30.15h3.35v3.35h-3.35zM83.75 30.15h3.35v3.35h-3.35zM117.25 30.15h3.35v3.35h-3.35zM73.70 33.50h3.35v3.35h-3.35zM103.85 33.50h3.35v3.35h-3.35zM63.65 36.85h3.35v3.35h-3.35zM67.00 36.85h3.35v3.35h-3.35zM77.05 36.85h3.35v3.35h-3.35zM40.20 40.20h3.35v3.35h-3.35zM60.30 40.20h3.35v3.35h-3.35zM97.15 40.20h3.35v3.35h-3.35zM70.35 43.55h3.35v3.35h-3.35zM33.50 46.90h3.35v3.35h-3.35zM40.20 46.90h3.35v3.35h-3.35zM43.55 46.90h3.35v3.35h-3.35zM56.95 46.90h3.35v3.35h-3.35zM70.35 46.90h3.35v3.35h-3.35zM87.10 46.90h3.35v3.35h-3.35zM100.50 46.90h3.35v3.35h-3.35zM110.55 46.90h3.35v3.35h-3.35zM40.20 50.25h3.35v3.35h-3.35zM46.90 50.25h3.35v3.35h-3.35zM60.30 50.25h3.35v3.35h-3.35zM90.45 50.25h3.35v3.35h-3.35zM110.55 50.25h3.35v3.35h-3.35zM113.90 50.25h3.35v3.35h-3.35zM3.35 53.60h3.35v3.35h-3.35zM6.70 53.60h3.35v3.35h-3.35zM40.20 53.60h3.35v3.35h-3.35zM60.30 53.60h3.35v3.35h-3.35zM90.45 53.60h3.35v3.35h-3.35zM100.50 53.60h3.35v3.35h-3.35zM103.85 53.60h3.35v3.35h-3.35zM16.75 56.95h3.35v3.35h-3.35zM46.90 56.95h3.35v3.35h-3.35zM80.40 56.95h3.35v3.35h-3.35zM100.50 56.95h3.35v3.35h-3.35zM117.25 56.95h3.35v3.35h-3.35zM6.70 60.30h3.35v3.35h-3.35zM26.80 60.30h3.35v3.35h-3.35zM56.95 60.30h3.35v3.35h-3.35zM113.90 60.30h3.35v3.35h-3.35zM0.00 63.65h3.35v3.35h-3.35zM13.40 63.65h3.35v3.35h-3.35zM43.55 63.65h3.35v3.35h-3.35zM80.40 63.65h3.35v3.35h-3.35zM103.85 63.65h3.35v3.35h-3.35zM3.35 67.00h3.35v3.35h-3.35zM16.75 67.00h3.35v3.35h-3.35zM33.50 67.00h3.35v3.35h-3.35zM36.85 67.00h3.35v3.35h-3.35zM43.55 67.00h3.35v3.35h-3.35zM46.90 67.00h3.35v3.35h-3.35zM56.95 67.00h3.35v3.35h-3.35zM93.80 67.00h3.35v3.35h-3.35zM100.50 67.00h3.35v3.35h-3.35zM10.05 70.35h3.35v3.35h-3.35zM20.10 70.35h3.35v3.35h-3.35zM46.90 70.35h3.35v3.35h-3.35zM56.95 70.35h3.35v3.35h-3.35zM67.00 70.35h3.35v3.35h-3.35zM93.80 70.35h3.35v3.35h-3.35zM100.50 70.35h3.35v3.35h-3.35zM113.90 70.35h3.35v3.35h-3.35zM117.25 70.35h3.35v3.35h-3.35zM13.40 73.70h3.35v3.35h-3.35zM77.05 73.70h3.35v3.35h-3.35zM80.40 73.70h3.35v3.35h-3.35zM83.75 73.70h3.35v3.35h-3.35zM43.55 77.05h3.35v3.35h-3.35zM56.95 77.05h3.35v3.35h-3.35zM73.70 77.05h3.35v3.35h-3.35zM90.45 77.05h3.35v3.35h-3.35zM107.20 77.05h3.35v3.35h-3.35zM113.90 77.05h3.35v3.35h-3.35zM13.40 80.40h3.35v3.35h-3.35zM117.25 80.40h3.35v3.35h-3.35zM16.75 83.75h3.35v3.35h-3.35zM36.85 83.75h3.35v3.35h-3.35zM50.25 83.75h3.35v3.35h-3.35zM70.35 83.75h3.35v3.35h-3.35zM97.15 83.75h3.35v3.35h-3.35zM110.55 83.75h3.35v3.35h-3.35zM0.00 87.10h3.35v3.35h-3.35zM3.35 87.10h3.35v3.35h-3.35zM13.40 87.10h3.35v3.35h-3.35zM20.10 87.10h3.35v3.35h-3.35zM77.05 87.10h3.35v3.35h-3.35zM93.80 90.45h3.35v3.35h-3.35zM103.85 90.45h3.35v3.35h-3.35zM117.25 90.45h3.35v3.35h-3.35zM3.35 93.80h3.35v3.35h-3.35zM6.70 93.80h3.35v3.35h-3.35zM16.75 93.80h3.35v3.35h-3.35zM33.50 93.80h3.35v3.35h-3.35zM50.25 93.80h3.35v3.35h-3.35zM77.05 93.80h3.35v3.35h-3.35zM83.75 93.80h3.35v3.35h-3.35zM117.25 93.80h3.35v3.35h-3.35zM3.35 97.15h3.35v3.35h-3.35zM20.10 97.15h3.35v3.35h-3.35zM56.95 97.15h3.35v3.35h-3.35zM90.45 97.15h3.35v3.35h-3.35zM23.45 100.50h3.35v3.35h-3.35zM73.70 100.50h3.35v3.35h-3.35zM83.75 100.50h3.35v3.35h-3.35zM113.90 100.50h3.35v3.35h-3.35zM30.15 103.85h3.35v3.35h-3.35zM113.90 103.85h3.35v3.35h-3.35zM0.00 107.20h3.35v3.35h-3.35zM16.75 107.20h3.35v3.35h-3.35zM26.80 107.20h3.35v3.35h-3.35zM36.85 107.20h3.35v3.35h-3.35zM50.25 107.20h3.35v3.35h-3.35zM90.45 107.20h3.35v3.35h-3.35zM103.85 107.20h3.35v3.35h-3.35zM30.15 110.55h3.35v3.35h-3.35zM40.20 110.55h3.35v3.35h-3.35zM43.55 110.55h3.35v3.35h-3.35zM0.00 113.90h3.35v3.35h-3.35zM63.65 113.90h3.35v3.35h-3.35zM97.15 113.90h3.35v3.35h-3.35zM26.80 117.25h3.35v3.35h-3.35zM33.50 117.25h3.35v3.35h-3.35zM46.90 117.25h3.35v3.35h-3.35zM56.95 117.25h3.35v3.35h-3.35z" fill="#cccccc"/></pattern></defs></svg>
<div class="frame" style="left:735.8px;top:21.2px;width:731.2px;height:733.6px;background:#0a0a0a"></div>
<div class="inner" style="left:780px;top:67.8px;width:638.2px;height:639.3px;background:#707070">
<div class="fill" style="background:repeating-conic-gradient(#acacac 0 25%,#383838 0 50%) 8px 0/129.2px 18px"></div>
<div class="fill" style="background:repeating-conic-gradient(#9c9c9c 0 25%,#464646 0 50%) 0 0/6px 6px;-webkit-mask:repeating-linear-gradient(90deg,#000 0,#000 5px,transparent 13px,transparent 51.599999999999994px,#000 59.599999999999994px,#000 64.6px) 8px 0;mask:repeating-linear-gradient(90deg,#000 0,#000 5px,transparent 13px,transparent 51.599999999999994px,#000 59.599999999999994px,#000 64.6px) 8px 0"></div>
<div class="fill" style="background:linear-gradient(90deg,transparent 0 1px,rgba(118,118,118,.4) 1px 2px,#767676 2px 3px) 0 0/3px 3px;-webkit-mask:repeating-linear-gradient(90deg,#000 0,#000 13px,transparent 19px,transparent 45.599999999999994px,#000 51.599999999999994px,#000 64.6px) 8px 0;mask:repeating-linear-gradient(90deg,#000 0,#000 13px,transparent 19px,transparent 45.599999999999994px,#000 51.599999999999994px,#000 64.6px) 8px 0"></div>
<div class="fill" style="background:repeating-conic-gradient(#4c4c4c 0 25%,#a4a4a4 0 50%) 8px 0/129.2px 18px;-webkit-mask:linear-gradient(180deg,transparent 0 1px,rgba(0,0,0,.5) 1px 2px,#000 2px 3px) 0 0/3px 3px;mask:linear-gradient(180deg,transparent 0 1px,rgba(0,0,0,.5) 1px 2px,#000 2px 3px) 0 0/3px 3px"></div>
<div class="fill" style="background:radial-gradient(ellipse 70% 115% at 32% 50%,rgba(0,0,0,0) 30%,rgba(0,0,0,.18) 60%,rgba(0,0,0,.5) 100%)"></div>
</div>
<div class="frame" style="left:2020px;top:10px;width:623.2px;height:623.7px"></div>
<div class="inner" style="left:2049px;top:33px;width:570.1px;height:579.8px;background:#333">
<div class="fr" style="left:-40px;top:-20px;width:650.1px;height:619.8px;background:linear-gradient(90deg,#3b3b3b 0px,#4b4b4b 3px,#5d5d5d 6px,#6f6f6f 9px,#838383 12px,#979797 15px,#aaaaaa 18px,#bcbcbc 21px,#cdcdcd 24px,#dbdbdb 27px,#e7e7e7 30px,#f0f0f0 33px,#f5f5f5 36px,#f7f7f7 39px,#f5f5f5 42px,#f0f0f0 45px,#e7e7e7 48px,#dbdbdb 51px,#cdcdcd 54px,#bcbcbc 57px,#aaaaaa 60px,#979797 63px,#838383 66px,#6f6f6f 69px,#5c5c5c 72px,#4b4b4b 75px,#3b3b3b 78px,#2d2d2d 81px,#222222 84px,#1a1a1a 87px,#151515 90px,#121212 93px,#121212 96px,#141414 99px,#181818 102px,#1f1f1f 105px,#292929 108px,#363636 111px,#454545 114px,#565656 117px,#686868 120px,#7b7b7b 123px,#8e8e8e 126px,#a1a1a1 129px,#b4b4b4 132px,#c4c4c4 135px,#d3d3d3 138px,#dfdfdf 141px,#e9e9e9 144px,#efefef 147px,#f1f1f1 150px,#f1f1f1 153px,#ececec 156px,#e5e5e5 159px,#dadada 162px,#cdcdcd 165px,#bebebe 168px,#acacac 171px,#9a9a9a 174px,#868686 177px,#737373 180px,#606060 183px,#4e4e4e 186px,#3e3e3e 189px,#303030 192px,#252525 195px,#1c1c1c 198px,#161616 201px,#131313 204px,#121212 207px,#131313 210px,#161616 213px,#1b1b1b 216px,#232323 219px,#2d2d2d 222px,#393939 225px,#474747 228px,#565656 231px,#676767 234px,#787878 237px,#898989 240px,#9a9a9a 243px,#aaaaaa 246px,#b9b9b9 249px,#c6c6c6 252px,#d1d1d1 255px,#dadada 258px,#dfdfdf 261px,#e2e2e2 264px,#e2e2e2 267px,#dfdfdf 270px,#dadada 273px,#d1d1d1 276px,#c7c7c7 279px,#bababa 282px,#ababab 285px,#9b9b9b 288px,#8b8b8b 291px,#7a7a7a 294px,#696969 297px,#585858 300px,#494949 303px,#3b3b3b 306px,#2e2e2e 309px,#242424 312px,#1c1c1c 315px,#171717 318px,#131313 321px,#121212 324px,#121212 327px,#141414 330px,#191919 333px,#202020 336px,#292929 339px,#343434 342px,#414141 345px,#505050 348px,#5f5f5f 351px,#6f6f6f 354px,#7f7f7f 357px,#8e8e8e 360px,#9c9c9c 363px,#a9a9a9 366px,#b4b4b4 369px,#bdbdbd 372px,#c3c3c3 375px,#c6c6c6 378px,#c7c7c7 381px,#c5c5c5 384px,#c0c0c0 387px,#b8b8b8 390px,#aeaeae 393px,#a2a2a2 396px,#959595 399px,#878787 402px,#777777 405px,#686868 408px,#585858 411px,#4a4a4a 414px,#3c3c3c 417px,#303030 420px,#262626 423px,#1e1e1e 426px,#181818 429px,#141414 432px,#121212 435px,#121212 438px,#131313 441px,#161616 444px,#1c1c1c 447px,#232323 450px,#2d2d2d 453px,#373737 456px,#434343 459px,#505050 462px,#5d5d5d 465px,#6b6b6b 468px,#777777 471px,#838383 474px,#8d8d8d 477px,#969696 480px,#9d9d9d 483px,#a2a2a2 486px,#a4a4a4 489px,#a4a4a4 492px,#a1a1a1 495px,#9c9c9c 498px,#959595 501px,#8c8c8c 504px,#828282 507px,#767676 510px,#6a6a6a 513px,#5d5d5d 516px,#515151 519px,#444444 522px,#393939 525px,#2e2e2e 528px,#252525 531px,#1e1e1e 534px,#181818 537px,#141414 540px,#121212 543px,#121212 549px,#141414 552px,#171717 555px,#1c1c1c 558px,#222222 561px,#292929 564px,#303030 567px,#393939 570px,#424242 573px,#4b4b4b 576px,#555555 579px,#5d5d5d 582px,#656565 585px,#6d6d6d 588px,#737373 591px,#777777 594px,#7b7b7b 597px,#7c7c7c 600px,#7d7d7d 603px,#7b7b7b 606px,#787878 609px,#757575 612px,#707070 615px,#6b6b6b 618px,#646464 621px,#5c5c5c 624px,#545454 627px,#4b4b4b 630px,#434343 633px,#3a3a3a 636px,#323232 639px,#2a2a2a 642px,#232323 645px,#1e1e1e 648px)"></div>
<div class="fill" style="background:linear-gradient(180deg,rgba(0,0,0,.24) 0,rgba(0,0,0,.1) 55px,rgba(0,0,0,0) 130px)"></div>
<svg class="nz" width="570.1" height="579.8"><rect x="0" y="0" width="100%" height="100%" fill="url(#nz)"/></svg>
</div>
<div class="wb" style="left:1946.8px;top:47.8px;width:630.4px;height:629.3px"></div>
<div class="frame" style="left:1954px;top:55px;width:616.0px;height:614.9px"></div>
<div class="inner" style="left:1979px;top:71px;width:570.0px;height:580.9px;background:#333">
<div class="fr" style="left:-40px;top:-20px;width:650.0px;height:620.9px;background:linear-gradient(90deg,#f5f5f5 0px,#f7f7f7 3px,#f5f5f5 6px,#f0f0f0 9px,#e9e9e9 12px,#dedede 15px,#d1d1d1 18px,#c2c2c2 21px,#b1b1b1 24px,#9f9f9f 27px,#8c8c8c 30px,#797979 33px,#676767 36px,#555555 39px,#454545 42px,#373737 45px,#2b2b2b 48px,#212121 51px,#191919 54px,#141414 57px,#121212 60px,#121212 63px,#131313 66px,#171717 69px,#1e1e1e 72px,#272727 75px,#323232 78px,#404040 81px,#505050 84px,#606060 87px,#727272 90px,#858585 93px,#989898 96px,#aaaaaa 99px,#bbbbbb 102px,#cacaca 105px,#d7d7d7 108px,#e3e3e3 111px,#ebebeb 114px,#f1f1f1 117px,#f3f3f3 120px,#f2f2f2 123px,#efefef 126px,#e8e8e8 129px,#dedede 132px,#d2d2d2 135px,#c4c4c4 138px,#b3b3b3 141px,#a2a2a2 144px,#909090 147px,#7d7d7d 150px,#6b6b6b 153px,#595959 156px,#494949 159px,#3a3a3a 162px,#2e2e2e 165px,#232323 168px,#1b1b1b 171px,#161616 174px,#131313 177px,#121212 180px,#131313 183px,#161616 186px,#1c1c1c 189px,#242424 192px,#2f2f2f 195px,#3c3c3c 198px,#4b4b4b 201px,#5b5b5b 204px,#6d6d6d 207px,#7f7f7f 210px,#919191 213px,#a2a2a2 216px,#b3b3b3 219px,#c2c2c2 222px,#cecece 225px,#d9d9d9 228px,#e1e1e1 231px,#e5e5e5 234px,#e7e7e7 237px,#e5e5e5 240px,#e1e1e1 243px,#d9d9d9 246px,#cfcfcf 249px,#c2c2c2 252px,#b4b4b4 255px,#a4a4a4 258px,#929292 261px,#818181 264px,#6f6f6f 267px,#5d5d5d 270px,#4d4d4d 273px,#3e3e3e 276px,#313131 279px,#262626 282px,#1d1d1d 285px,#171717 288px,#131313 291px,#121212 294px,#121212 297px,#141414 300px,#191919 303px,#202020 306px,#2a2a2a 309px,#363636 312px,#434343 315px,#535353 318px,#636363 321px,#737373 324px,#848484 327px,#949494 330px,#a3a3a3 333px,#b0b0b0 336px,#bbbbbb 339px,#c4c4c4 342px,#cbcbcb 345px,#cecece 348px,#cfcfcf 351px,#cdcdcd 354px,#c8c8c8 357px,#c0c0c0 360px,#b5b5b5 363px,#a9a9a9 366px,#9b9b9b 369px,#8c8c8c 372px,#7c7c7c 375px,#6c6c6c 378px,#5c5c5c 381px,#4d4d4d 384px,#3f3f3f 387px,#323232 390px,#272727 393px,#1f1f1f 396px,#181818 399px,#141414 402px,#121212 405px,#121212 408px,#131313 411px,#171717 414px,#1d1d1d 417px,#242424 420px,#2e2e2e 423px,#3a3a3a 426px,#464646 429px,#545454 432px,#626262 435px,#707070 438px,#7e7e7e 441px,#8a8a8a 444px,#969696 447px,#9f9f9f 450px,#a6a6a6 453px,#ababab 456px,#aeaeae 459px,#aeaeae 462px,#ababab 465px,#a6a6a6 468px,#9e9e9e 471px,#959595 474px,#8a8a8a 477px,#7e7e7e 480px,#707070 483px,#636363 486px,#555555 489px,#484848 492px,#3c3c3c 495px,#313131 498px,#272727 501px,#1f1f1f 504px,#191919 507px,#151515 510px,#121212 513px,#121212 519px,#141414 522px,#181818 525px,#1c1c1c 528px,#232323 531px,#2a2a2a 534px,#333333 537px,#3c3c3c 540px,#464646 543px,#505050 546px,#5a5a5a 549px,#636363 552px,#6c6c6c 555px,#747474 558px,#7b7b7b 561px,#808080 564px,#848484 567px,#878787 570px,#878787 573px,#868686 576px,#838383 579px,#7f7f7f 582px,#7a7a7a 585px,#737373 588px,#6b6b6b 591px,#626262 594px,#595959 597px,#4f4f4f 600px,#464646 603px,#3d3d3d 606px,#343434 609px,#2c2c2c 612px,#252525 615px,#1f1f1f 618px,#1a1a1a 621px,#161616 624px,#141414 627px,#121212 630px,#121212 636px,#141414 639px,#161616 642px,#1a1a1a 645px,#1f1f1f 648px)"></div>
<div class="fill" style="background:linear-gradient(180deg,rgba(0,0,0,.24) 0,rgba(0,0,0,.1) 55px,rgba(0,0,0,0) 130px)"></div>
<svg class="nz" width="570.0" height="580.9"><rect x="0" y="0" width="100%" height="100%" fill="url(#nz)"/></svg>
</div>
<div class="wb" style="left:1876.9px;top:85.8px;width:630.3px;height:628.1px"></div>
<div class="frame" style="left:1884.1px;top:93px;width:615.9px;height:613.7px"></div>
<div class="inner" style="left:1906px;top:115px;width:573.0px;height:580.9px;background:#333">
<div class="fr" style="left:-40px;top:-20px;width:653.0px;height:620.9px;background:linear-gradient(90deg,#a4a4a4 0px,#919191 3px,#7e7e7e 6px,#6b6b6b 9px,#595959 12px,#484848 15px,#393939 18px,#2c2c2c 21px,#212121 24px,#1a1a1a 27px,#151515 30px,#121212 33px,#121212 36px,#141414 39px,#181818 42px,#1f1f1f 45px,#282828 48px,#343434 51px,#434343 54px,#535353 57px,#656565 60px,#787878 63px,#8b8b8b 66px,#9e9e9e 69px,#b0b0b0 72px,#c1c1c1 75px,#d1d1d1 78px,#dedede 81px,#e8e8e8 84px,#f0f0f0 87px,#f4f4f4 90px,#f5f5f5 93px,#f2f2f2 96px,#ededed 99px,#e4e4e4 102px,#d8d8d8 105px,#cacaca 108px,#bababa 111px,#a9a9a9 114px,#969696 117px,#838383 120px,#707070 123px,#5e5e5e 126px,#4c4c4c 129px,#3d3d3d 132px,#2f2f2f 135px,#242424 138px,#1c1c1c 141px,#161616 144px,#131313 147px,#121212 150px,#131313 153px,#161616 156px,#1c1c1c 159px,#242424 162px,#2f2f2f 165px,#3d3d3d 168px,#4c4c4c 171px,#5d5d5d 174px,#6f6f6f 177px,#818181 180px,#949494 183px,#a5a5a5 186px,#b6b6b6 189px,#c5c5c5 192px,#d2d2d2 195px,#dddddd 198px,#e5e5e5 201px,#eaeaea 204px,#ececec 207px,#eaeaea 210px,#e5e5e5 213px,#dedede 216px,#d3d3d3 219px,#c6c6c6 222px,#b7b7b7 225px,#a7a7a7 228px,#959595 231px,#838383 234px,#717171 237px,#5f5f5f 240px,#4e4e4e 243px,#3f3f3f 246px,#323232 249px,#262626 252px,#1e1e1e 255px,#171717 258px,#131313 261px,#121212 264px,#121212 267px,#141414 270px,#191919 273px,#202020 276px,#292929 279px,#353535 282px,#434343 285px,#525252 288px,#626262 291px,#737373 294px,#848484 297px,#949494 300px,#a3a3a3 303px,#b2b2b2 306px,#bebebe 309px,#c8c8c8 312px,#d0d0d0 315px,#d5d5d5 318px,#d7d7d7 321px,#d6d6d6 324px,#d2d2d2 327px,#cccccc 330px,#c3c3c3 333px,#b8b8b8 336px,#aaaaaa 339px,#9c9c9c 342px,#8c8c8c 345px,#7c7c7c 348px,#6b6b6b 351px,#5b5b5b 354px,#4c4c4c 357px,#3e3e3e 360px,#323232 363px,#272727 366px,#1e1e1e 369px,#181818 372px,#141414 375px,#121212 378px,#121212 381px,#131313 384px,#161616 387px,#1c1c1c 390px,#232323 393px,#2c2c2c 396px,#373737 399px,#444444 402px,#515151 405px,#5f5f5f 408px,#6d6d6d 411px,#7b7b7b 414px,#888888 417px,#949494 420px,#9f9f9f 423px,#a8a8a8 426px,#afafaf 429px,#b3b3b3 432px,#b6b6b6 435px,#b5b5b5 438px,#b3b3b3 441px,#aeaeae 444px,#a7a7a7 447px,#9e9e9e 450px,#939393 453px,#878787 456px,#7a7a7a 459px,#6d6d6d 462px,#5f5f5f 465px,#525252 468px,#454545 471px,#393939 474px,#2f2f2f 477px,#262626 480px,#1e1e1e 483px,#181818 486px,#141414 489px,#121212 492px,#121212 498px,#151515 501px,#181818 504px,#1e1e1e 507px,#252525 510px,#2e2e2e 513px,#383838 516px,#424242 519px,#4d4d4d 522px,#585858 525px,#636363 528px,#6e6e6e 531px,#777777 534px,#7f7f7f 537px,#868686 540px,#8b8b8b 543px,#8e8e8e 546px,#909090 549px,#8f8f8f 552px,#8c8c8c 555px,#888888 558px,#828282 561px,#7a7a7a 564px,#717171 567px,#676767 570px,#5d5d5d 573px,#525252 576px,#484848 579px,#3d3d3d 582px,#343434 585px,#2b2b2b 588px,#232323 591px,#1d1d1d 594px,#181818 597px,#151515 600px,#131313 603px,#121212 606px,#121212 609px,#131313 612px,#161616 615px,#191919 618px,#1e1e1e 621px,#252525 624px,#2c2c2c 627px,#343434 630px,#3d3d3d 633px,#464646 636px,#4f4f4f 639px,#575757 642px,#606060 645px,#676767 648px,#6e6e6e 651px)"></div>
<div class="fill" style="background:linear-gradient(180deg,rgba(0,0,0,.24) 0,rgba(0,0,0,.1) 55px,rgba(0,0,0,0) 130px)"></div>
<svg class="nz" width="573.0" height="580.9"><rect x="0" y="0" width="100%" height="100%" fill="url(#nz)"/></svg>
</div>
<div class="wb" style="left:1799.0px;top:130.0px;width:630.0px;height:628.9px"></div>
<div class="frame" style="left:1806.2px;top:137.2px;width:615.6px;height:614.5px"></div>
<div class="inner" style="left:1831px;top:158.9px;width:569.9px;height:582.1px;background:#333">
<div class="fr" style="left:-40px;top:-20px;width:649.9px;height:622.1px;background:linear-gradient(90deg,#121212 0px,#131313 3px,#171717 6px,#1e1e1e 9px,#272727 12px,#323232 15px,#3f3f3f 18px,#4f4f4f 21px,#606060 24px,#727272 27px,#848484 30px,#979797 33px,#a9a9a9 36px,#bababa 39px,#cacaca 42px,#d8d8d8 45px,#e4e4e4 48px,#ededed 51px,#f3f3f3 54px,#f6f6f6 57px,#f6f6f6 60px,#f3f3f3 63px,#ededed 66px,#e3e3e3 69px,#d8d8d8 72px,#cacaca 75px,#bababa 78px,#a8a8a8 81px,#969696 84px,#848484 87px,#717171 90px,#5f5f5f 93px,#4e4e4e 96px,#3f3f3f 99px,#323232 102px,#262626 105px,#1e1e1e 108px,#171717 111px,#131313 114px,#121212 117px,#121212 120px,#141414 123px,#191919 126px,#202020 129px,#2a2a2a 132px,#363636 135px,#434343 138px,#535353 141px,#646464 144px,#767676 147px,#888888 150px,#9a9a9a 153px,#ababab 156px,#bcbcbc 159px,#cacaca 162px,#d7d7d7 165px,#e2e2e2 168px,#e9e9e9 171px,#eeeeee 174px,#f0f0f0 177px,#efefef 180px,#eaeaea 183px,#e3e3e3 186px,#d9d9d9 189px,#cccccc 192px,#bebebe 195px,#aeaeae 198px,#9d9d9d 201px,#8b8b8b 204px,#797979 207px,#676767 210px,#565656 213px,#474747 216px,#383838 219px,#2c2c2c 222px,#222222 225px,#1b1b1b 228px,#151515 231px,#131313 234px,#121212 237px,#131313 240px,#151515 243px,#1b1b1b 246px,#222222 249px,#2c2c2c 252px,#383838 255px,#464646 258px,#555555 261px,#656565 264px,#767676 267px,#878787 270px,#979797 273px,#a7a7a7 276px,#b6b6b6 279px,#c2c2c2 282px,#cdcdcd 285px,#d5d5d5 288px,#dbdbdb 291px,#dedede 294px,#dedede 297px,#dadada 300px,#d4d4d4 303px,#cccccc 306px,#c1c1c1 309px,#b4b4b4 312px,#a6a6a6 315px,#969696 318px,#868686 321px,#767676 324px,#656565 327px,#555555 330px,#464646 333px,#393939 336px,#2d2d2d 339px,#242424 342px,#1c1c1c 345px,#161616 348px,#131313 351px,#121212 354px,#121212 357px,#141414 360px,#181818 363px,#1f1f1f 366px,#282828 369px,#323232 372px,#3f3f3f 375px,#4c4c4c 378px,#5b5b5b 381px,#6a6a6a 384px,#797979 387px,#878787 390px,#959595 393px,#a1a1a1 396px,#acacac 399px,#b4b4b4 402px,#bababa 405px,#bebebe 408px,#bebebe 411px,#bdbdbd 414px,#b8b8b8 417px,#b1b1b1 420px,#a8a8a8 423px,#9d9d9d 426px,#919191 429px,#838383 432px,#757575 435px,#666666 438px,#585858 441px,#4a4a4a 444px,#3d3d3d 447px,#323232 450px,#282828 453px,#1f1f1f 456px,#191919 459px,#151515 462px,#121212 465px,#121212 471px,#151515 474px,#191919 477px,#1f1f1f 480px,#272727 483px,#313131 486px,#3b3b3b 489px,#474747 492px,#535353 495px,#5f5f5f 498px,#6b6b6b 501px,#777777 504px,#818181 507px,#8a8a8a 510px,#919191 513px,#969696 516px,#999999 519px,#9a9a9a 522px,#989898 525px,#959595 528px,#8f8f8f 531px,#888888 534px,#7f7f7f 537px,#757575 540px,#6a6a6a 543px,#5e5e5e 546px,#525252 549px,#474747 552px,#3c3c3c 555px,#323232 558px,#292929 561px,#212121 564px,#1b1b1b 567px,#161616 570px,#131313 573px,#121212 576px,#121212 579px,#131313 582px,#151515 585px,#191919 588px,#1e1e1e 591px,#242424 594px,#2b2b2b 597px,#333333 600px,#3c3c3c 603px,#454545 606px,#4d4d4d 609px,#565656 612px,#5f5f5f 615px,#676767 618px,#6d6d6d 621px,#737373 624px,#777777 627px,#797979 630px,#7a7a7a 633px,#797979 636px,#777777 639px,#737373 642px,#6d6d6d 645px,#676767 648px)"></div>
<div class="fill" style="background:linear-gradient(180deg,rgba(0,0,0,.24) 0,rgba(0,0,0,.1) 55px,rgba(0,0,0,0) 130px)"></div>
<svg class="nz" width="569.9" height="582.1"><rect x="0" y="0" width="100%" height="100%" fill="url(#nz)"/></svg>
</div>
<div class="frame" style="left:735.9px;top:847.2px;width:731px;height:732.6px;background:#808080"></div>
<div class="inner" style="left:760.2px;top:873.1px;width:682.0px;height:682.9px;background:#777">
<div class="fr" style="transform:rotate(.55deg);left:-40px;top:-20px;width:762.0px;height:722.9px;background:linear-gradient(90deg,#0c0c0c -127.6px,#f8f8f8 7.1px,#0c0c0c 7.1px,#f8f8f8 141.8px,#0c0c0c 141.8px,#f8f8f8 276.5px,#0c0c0c 276.5px,#f8f8f8 411.2px,#0c0c0c 411.2px,#f8f8f8 545.9px,#0c0c0c 545.9px,#f8f8f8 680.6px,#0c0c0c 680.6px,#f8f8f8 815.3px,#0c0c0c 815.3px,#f8f8f8 950.0px)"></div>
</div>
<svg class="abs" style="left:0;top:0" width="3346" height="1722" viewBox="0 0 3346 1722">
<path d="M794.2 873.1h3.4v3.4h-3.4zM824.8 873.1h3.4v3.4h-3.4zM838.4 873.1h3.4v3.4h-3.4zM855.4 873.1h3.4v3.4h-3.4zM862.2 873.1h3.4v3.4h-3.4zM872.4 873.1h3.4v3.4h-3.4zM879.2 873.1h3.4v3.4h-3.4zM889.4 873.1h3.4v3.4h-3.4zM899.6 873.1h3.4v3.4h-3.4zM903.0 873.1h3.4v3.4h-3.4zM909.8 873.1h3.4v3.4h-3.4zM940.4 873.1h3.4v3.4h-3.4zM954.0 873.1h3.4v3.4h-3.4zM971.0 873.1h3.4v3.4h-3.4zM974.4 873.1h3.4v3.4h-3.4zM981.2 873.1h3.4v3.4h-3.4zM1001.6 873.1h3.4v3.4h-3.4zM1005.0 873.1h3.4v3.4h-3.4zM1015.2 873.1h3.4v3.4h-3.4zM1028.8 873.1h3.4v3.4h-3.4zM1035.6 873.1h3.4v3.4h-3.4zM1039.0 873.1h3.4v3.4h-3.4zM1045.8 873.1h3.4v3.4h-3.4zM1056.0 873.1h3.4v3.4h-3.4zM1059.4 873.1h3.4v3.4h-3.4zM1073.0 873.1h3.4v3.4h-3.4zM1096.8 873.1h3.4v3.4h-3.4zM1103.6 873.1h3.4v3.4h-3.4zM1107.0 873.1h3.4v3.4h-3.4zM1130.8 873.1h3.4v3.4h-3.4zM1141.0 873.1h3.4v3.4h-3.4zM1161.4 873.1h3.4v3.4h-3.4zM1164.8 873.1h3.4v3.4h-3.4zM1188.6 873.1h3.4v3.4h-3.4zM1195.4 873.1h3.4v3.4h-3.4zM1222.6 873.1h3.4v3.4h-3.4zM1246.4 873.1h3.4v3.4h-3.4zM1249.8 873.1h3.4v3.4h-3.4zM1372.2 873.1h3.4v3.4h-3.4zM1379.0 873.1h3.4v3.4h-3.4zM1385.8 873.1h3.4v3.4h-3.4zM1399.4 873.1h3.4v3.4h-3.4zM1406.2 873.1h3.4v3.4h-3.4zM1413.0 873.1h3.4v3.4h-3.4zM1416.4 873.1h3.4v3.4h-3.4zM1419.8 873.1h3.4v3.4h-3.4zM1433.4 873.1h3.4v3.4h-3.4zM1436.8 873.1h3.4v3.4h-3.4zM773.8 876.5h3.4v3.4h-3.4zM797.6 876.5h3.4v3.4h-3.4zM804.4 876.5h3.4v3.4h-3.4zM886.0 876.5h3.4v3.4h-3.4zM943.8 876.5h3.4v3.4h-3.4zM957.4 876.5h3.4v3.4h-3.4zM1008.4 876.5h3.4v3.4h-3.4zM1049.2 876.5h3.4v3.4h-3.4zM1073.0 876.5h3.4v3.4h-3.4zM1090.0 876.5h3.4v3.4h-3.4zM1093.4 876.5h3.4v3.4h-3.4zM1130.8 876.5h3.4v3.4h-3.4zM1192.0 876.5h3.4v3.4h-3.4zM1198.8 876.5h3.4v3.4h-3.4zM1283.8 876.5h3.4v3.4h-3.4zM1300.8 876.5h3.4v3.4h-3.4zM1317.8 876.5h3.4v3.4h-3.4zM1409.6 876.5h3.4v3.4h-3.4zM1433.4 876.5h3.4v3.4h-3.4zM760.2 886.7h3.4v3.4h-3.4zM760.2 896.9h3.4v3.4h-3.4zM760.2 934.3h3.4v3.4h-3.4zM760.2 937.7h3.4v3.4h-3.4zM760.2 958.1h3.4v3.4h-3.4zM760.2 998.9h3.4v3.4h-3.4zM760.2 1036.3h3.4v3.4h-3.4zM760.2 1073.7h3.4v3.4h-3.4zM760.2 1090.7h3.4v3.4h-3.4zM760.2 1104.3h3.4v3.4h-3.4zM760.2 1138.3h3.4v3.4h-3.4zM760.2 1145.1h3.4v3.4h-3.4zM760.2 1148.5h3.4v3.4h-3.4zM760.2 1213.1h3.4v3.4h-3.4zM760.2 1216.5h3.4v3.4h-3.4zM760.2 1219.9h3.4v3.4h-3.4zM760.2 1328.7h3.4v3.4h-3.4zM760.2 1389.9h3.4v3.4h-3.4zM760.2 1423.9h3.4v3.4h-3.4zM760.2 1474.9h3.4v3.4h-3.4zM760.2 1478.3h3.4v3.4h-3.4zM760.2 1512.3h3.4v3.4h-3.4zM760.2 1542.9h3.4v3.4h-3.4zM763.6 879.9h3.4v3.4h-3.4zM763.6 893.5h3.4v3.4h-3.4zM763.6 910.5h3.4v3.4h-3.4zM763.6 913.9h3.4v3.4h-3.4zM763.6 917.3h3.4v3.4h-3.4zM763.6 927.5h3.4v3.4h-3.4zM763.6 934.3h3.4v3.4h-3.4zM763.6 947.9h3.4v3.4h-3.4zM763.6 958.1h3.4v3.4h-3.4zM763.6 961.5h3.4v3.4h-3.4zM763.6 1019.3h3.4v3.4h-3.4zM763.6 1056.7h3.4v3.4h-3.4zM763.6 1066.9h3.4v3.4h-3.4zM763.6 1070.3h3.4v3.4h-3.4zM763.6 1083.9h3.4v3.4h-3.4zM763.6 1107.7h3.4v3.4h-3.4zM763.6 1111.1h3.4v3.4h-3.4zM763.6 1121.3h3.4v3.4h-3.4zM763.6 1124.7h3.4v3.4h-3.4zM763.6 1145.1h3.4v3.4h-3.4zM763.6 1155.3h3.4v3.4h-3.4zM763.6 1162.1h3.4v3.4h-3.4zM763.6 1165.5h3.4v3.4h-3.4zM763.6 1179.1h3.4v3.4h-3.4zM763.6 1189.3h3.4v3.4h-3.4zM763.6 1209.7h3.4v3.4h-3.4zM763.6 1213.1h3.4v3.4h-3.4zM763.6 1219.9h3.4v3.4h-3.4zM763.6 1223.3h3.4v3.4h-3.4zM763.6 1226.7h3.4v3.4h-3.4zM763.6 1243.7h3.4v3.4h-3.4zM763.6 1247.1h3.4v3.4h-3.4zM763.6 1253.9h3.4v3.4h-3.4zM763.6 1264.1h3.4v3.4h-3.4zM763.6 1267.5h3.4v3.4h-3.4zM763.6 1270.9h3.4v3.4h-3.4zM763.6 1281.1h3.4v3.4h-3.4zM763.6 1291.3h3.4v3.4h-3.4zM763.6 1311.7h3.4v3.4h-3.4zM763.6 1315.1h3.4v3.4h-3.4zM763.6 1325.3h3.4v3.4h-3.4zM763.6 1335.5h3.4v3.4h-3.4zM763.6 1352.5h3.4v3.4h-3.4zM763.6 1362.7h3.4v3.4h-3.4zM763.6 1366.1h3.4v3.4h-3.4zM763.6 1379.7h3.4v3.4h-3.4zM763.6 1383.1h3.4v3.4h-3.4zM763.6 1389.9h3.4v3.4h-3.4zM763.6 1396.7h3.4v3.4h-3.4zM763.6 1403.5h3.4v3.4h-3.4zM763.6 1417.1h3.4v3.4h-3.4zM763.6 1420.5h3.4v3.4h-3.4zM763.6 1430.7h3.4v3.4h-3.4zM763.6 1434.1h3.4v3.4h-3.4zM763.6 1437.5h3.4v3.4h-3.4zM763.6 1440.9h3.4v3.4h-3.4zM763.6 1444.3h3.4v3.4h-3.4zM763.6 1451.1h3.4v3.4h-3.4zM763.6 1454.5h3.4v3.4h-3.4zM763.6 1461.3h3.4v3.4h-3.4zM763.6 1464.7h3.4v3.4h-3.4zM763.6 1471.5h3.4v3.4h-3.4zM763.6 1485.1h3.4v3.4h-3.4zM763.6 1502.1h3.4v3.4h-3.4zM763.6 1512.3h3.4v3.4h-3.4zM763.6 1519.1h3.4v3.4h-3.4zM763.6 1525.9h3.4v3.4h-3.4zM763.6 1539.5h3.4v3.4h-3.4zM763.6 1546.3h3.4v3.4h-3.4zM763.6 1553.1h3.4v3.4h-3.4zM1438.8 876.5h3.4v3.4h-3.4zM1438.8 879.9h3.4v3.4h-3.4zM1438.8 890.1h3.4v3.4h-3.4zM1438.8 903.7h3.4v3.4h-3.4zM1438.8 917.3h3.4v3.4h-3.4zM1438.8 941.1h3.4v3.4h-3.4zM1438.8 951.3h3.4v3.4h-3.4zM1438.8 954.7h3.4v3.4h-3.4zM1438.8 961.5h3.4v3.4h-3.4zM1438.8 981.9h3.4v3.4h-3.4zM1438.8 985.3h3.4v3.4h-3.4zM1438.8 1002.3h3.4v3.4h-3.4zM1438.8 1043.1h3.4v3.4h-3.4zM1438.8 1049.9h3.4v3.4h-3.4zM1438.8 1077.1h3.4v3.4h-3.4zM1438.8 1087.3h3.4v3.4h-3.4zM1438.8 1090.7h3.4v3.4h-3.4zM1438.8 1094.1h3.4v3.4h-3.4zM1438.8 1097.5h3.4v3.4h-3.4zM1438.8 1100.9h3.4v3.4h-3.4zM1438.8 1104.3h3.4v3.4h-3.4zM1438.8 1117.9h3.4v3.4h-3.4zM1438.8 1134.9h3.4v3.4h-3.4zM1438.8 1141.7h3.4v3.4h-3.4zM1438.8 1145.1h3.4v3.4h-3.4zM1438.8 1151.9h3.4v3.4h-3.4zM1438.8 1158.7h3.4v3.4h-3.4zM1438.8 1162.1h3.4v3.4h-3.4zM1438.8 1168.9h3.4v3.4h-3.4zM1438.8 1175.7h3.4v3.4h-3.4zM1438.8 1182.5h3.4v3.4h-3.4zM1438.8 1209.7h3.4v3.4h-3.4zM1438.8 1219.9h3.4v3.4h-3.4zM1438.8 1240.3h3.4v3.4h-3.4zM1438.8 1247.1h3.4v3.4h-3.4zM1438.8 1260.7h3.4v3.4h-3.4zM1438.8 1274.3h3.4v3.4h-3.4zM1438.8 1308.3h3.4v3.4h-3.4zM1438.8 1332.1h3.4v3.4h-3.4zM1438.8 1355.9h3.4v3.4h-3.4zM1438.8 1362.7h3.4v3.4h-3.4zM1438.8 1383.1h3.4v3.4h-3.4zM1438.8 1393.3h3.4v3.4h-3.4zM1438.8 1403.5h3.4v3.4h-3.4zM1438.8 1427.3h3.4v3.4h-3.4zM1438.8 1451.1h3.4v3.4h-3.4zM1438.8 1454.5h3.4v3.4h-3.4zM1438.8 1464.7h3.4v3.4h-3.4zM1438.8 1488.5h3.4v3.4h-3.4zM1438.8 1498.7h3.4v3.4h-3.4zM1438.8 1502.1h3.4v3.4h-3.4zM1438.8 1505.5h3.4v3.4h-3.4zM1438.8 1508.9h3.4v3.4h-3.4zM1438.8 1512.3h3.4v3.4h-3.4zM1438.8 1519.1h3.4v3.4h-3.4zM1438.8 1529.3h3.4v3.4h-3.4zM1438.8 1553.1h3.4v3.4h-3.4zM1435.4 876.5h3.4v3.4h-3.4zM1435.4 893.5h3.4v3.4h-3.4zM1435.4 896.9h3.4v3.4h-3.4zM1435.4 900.3h3.4v3.4h-3.4zM1435.4 903.7h3.4v3.4h-3.4zM1435.4 907.1h3.4v3.4h-3.4zM1435.4 910.5h3.4v3.4h-3.4zM1435.4 920.7h3.4v3.4h-3.4zM1435.4 924.1h3.4v3.4h-3.4zM1435.4 930.9h3.4v3.4h-3.4zM1435.4 937.7h3.4v3.4h-3.4zM1435.4 941.1h3.4v3.4h-3.4zM1435.4 947.9h3.4v3.4h-3.4zM1435.4 954.7h3.4v3.4h-3.4zM1435.4 998.9h3.4v3.4h-3.4zM1435.4 1009.1h3.4v3.4h-3.4zM1435.4 1029.5h3.4v3.4h-3.4zM1435.4 1032.9h3.4v3.4h-3.4zM1435.4 1046.5h3.4v3.4h-3.4zM1435.4 1056.7h3.4v3.4h-3.4zM1435.4 1066.9h3.4v3.4h-3.4zM1435.4 1073.7h3.4v3.4h-3.4zM1435.4 1083.9h3.4v3.4h-3.4zM1435.4 1104.3h3.4v3.4h-3.4zM1435.4 1117.9h3.4v3.4h-3.4zM1435.4 1121.3h3.4v3.4h-3.4zM1435.4 1124.7h3.4v3.4h-3.4zM1435.4 1131.5h3.4v3.4h-3.4zM1435.4 1138.3h3.4v3.4h-3.4zM1435.4 1145.1h3.4v3.4h-3.4zM1435.4 1148.5h3.4v3.4h-3.4zM1435.4 1165.5h3.4v3.4h-3.4zM1435.4 1168.9h3.4v3.4h-3.4zM1435.4 1182.5h3.4v3.4h-3.4zM1435.4 1185.9h3.4v3.4h-3.4zM1435.4 1192.7h3.4v3.4h-3.4zM1435.4 1209.7h3.4v3.4h-3.4zM1435.4 1219.9h3.4v3.4h-3.4zM1435.4 1236.9h3.4v3.4h-3.4zM1435.4 1247.1h3.4v3.4h-3.4zM1435.4 1250.5h3.4v3.4h-3.4zM1435.4 1267.5h3.4v3.4h-3.4zM1435.4 1274.3h3.4v3.4h-3.4zM1435.4 1284.5h3.4v3.4h-3.4zM1435.4 1287.9h3.4v3.4h-3.4zM1435.4 1291.3h3.4v3.4h-3.4zM1435.4 1294.7h3.4v3.4h-3.4zM1435.4 1301.5h3.4v3.4h-3.4zM1435.4 1308.3h3.4v3.4h-3.4zM1435.4 1311.7h3.4v3.4h-3.4zM1435.4 1315.1h3.4v3.4h-3.4zM1435.4 1321.9h3.4v3.4h-3.4zM1435.4 1352.5h3.4v3.4h-3.4zM1435.4 1355.9h3.4v3.4h-3.4zM1435.4 1369.5h3.4v3.4h-3.4zM1435.4 1389.9h3.4v3.4h-3.4zM1435.4 1410.3h3.4v3.4h-3.4zM1435.4 1423.9h3.4v3.4h-3.4zM1435.4 1437.5h3.4v3.4h-3.4zM1435.4 1444.3h3.4v3.4h-3.4zM1435.4 1461.3h3.4v3.4h-3.4zM1435.4 1468.1h3.4v3.4h-3.4zM1435.4 1474.9h3.4v3.4h-3.4zM1435.4 1481.7h3.4v3.4h-3.4zM1435.4 1495.3h3.4v3.4h-3.4zM1435.4 1519.1h3.4v3.4h-3.4zM1435.4 1522.5h3.4v3.4h-3.4zM1435.4 1536.1h3.4v3.4h-3.4zM1435.4 1542.9h3.4v3.4h-3.4zM1435.4 1546.3h3.4v3.4h-3.4zM1435.4 1553.1h3.4v3.4h-3.4zM770.4 1552.6h3.4v3.4h-3.4zM784.0 1552.6h3.4v3.4h-3.4zM787.4 1552.6h3.4v3.4h-3.4zM790.8 1552.6h3.4v3.4h-3.4zM804.4 1552.6h3.4v3.4h-3.4zM899.6 1552.6h3.4v3.4h-3.4zM906.4 1552.6h3.4v3.4h-3.4zM930.2 1552.6h3.4v3.4h-3.4zM937.0 1552.6h3.4v3.4h-3.4zM954.0 1552.6h3.4v3.4h-3.4zM960.8 1552.6h3.4v3.4h-3.4zM964.2 1552.6h3.4v3.4h-3.4zM1005.0 1552.6h3.4v3.4h-3.4zM1008.4 1552.6h3.4v3.4h-3.4zM1011.8 1552.6h3.4v3.4h-3.4zM1015.2 1552.6h3.4v3.4h-3.4zM1028.8 1552.6h3.4v3.4h-3.4zM1032.2 1552.6h3.4v3.4h-3.4zM1049.2 1552.6h3.4v3.4h-3.4zM1056.0 1552.6h3.4v3.4h-3.4zM1062.8 1552.6h3.4v3.4h-3.4zM1066.2 1552.6h3.4v3.4h-3.4zM1069.6 1552.6h3.4v3.4h-3.4zM1096.8 1552.6h3.4v3.4h-3.4zM1134.2 1552.6h3.4v3.4h-3.4zM1154.6 1552.6h3.4v3.4h-3.4zM1158.0 1552.6h3.4v3.4h-3.4zM1175.0 1552.6h3.4v3.4h-3.4zM1181.8 1552.6h3.4v3.4h-3.4zM1185.2 1552.6h3.4v3.4h-3.4zM1202.2 1552.6h3.4v3.4h-3.4zM1219.2 1552.6h3.4v3.4h-3.4zM1226.0 1552.6h3.4v3.4h-3.4zM1229.4 1552.6h3.4v3.4h-3.4zM1243.0 1552.6h3.4v3.4h-3.4zM1246.4 1552.6h3.4v3.4h-3.4zM1249.8 1552.6h3.4v3.4h-3.4zM1266.8 1552.6h3.4v3.4h-3.4zM1287.2 1552.6h3.4v3.4h-3.4zM1311.0 1552.6h3.4v3.4h-3.4zM1317.8 1552.6h3.4v3.4h-3.4zM1321.2 1552.6h3.4v3.4h-3.4zM1328.0 1552.6h3.4v3.4h-3.4zM1338.2 1552.6h3.4v3.4h-3.4zM1341.6 1552.6h3.4v3.4h-3.4zM1358.6 1552.6h3.4v3.4h-3.4zM1362.0 1552.6h3.4v3.4h-3.4zM1368.8 1552.6h3.4v3.4h-3.4zM1375.6 1552.6h3.4v3.4h-3.4zM1385.8 1552.6h3.4v3.4h-3.4zM1426.6 1552.6h3.4v3.4h-3.4zM1436.8 1552.6h3.4v3.4h-3.4zM763.6 1549.2h3.4v3.4h-3.4zM767.0 1549.2h3.4v3.4h-3.4zM777.2 1549.2h3.4v3.4h-3.4zM787.4 1549.2h3.4v3.4h-3.4zM790.8 1549.2h3.4v3.4h-3.4zM794.2 1549.2h3.4v3.4h-3.4zM811.2 1549.2h3.4v3.4h-3.4zM818.0 1549.2h3.4v3.4h-3.4zM828.2 1549.2h3.4v3.4h-3.4zM831.6 1549.2h3.4v3.4h-3.4zM835.0 1549.2h3.4v3.4h-3.4zM848.6 1549.2h3.4v3.4h-3.4zM852.0 1549.2h3.4v3.4h-3.4zM855.4 1549.2h3.4v3.4h-3.4zM862.2 1549.2h3.4v3.4h-3.4zM865.6 1549.2h3.4v3.4h-3.4zM872.4 1549.2h3.4v3.4h-3.4zM875.8 1549.2h3.4v3.4h-3.4zM879.2 1549.2h3.4v3.4h-3.4zM892.8 1549.2h3.4v3.4h-3.4zM903.0 1549.2h3.4v3.4h-3.4zM937.0 1549.2h3.4v3.4h-3.4zM950.6 1549.2h3.4v3.4h-3.4zM960.8 1549.2h3.4v3.4h-3.4zM964.2 1549.2h3.4v3.4h-3.4zM981.2 1549.2h3.4v3.4h-3.4zM984.6 1549.2h3.4v3.4h-3.4zM1001.6 1549.2h3.4v3.4h-3.4zM1011.8 1549.2h3.4v3.4h-3.4zM1015.2 1549.2h3.4v3.4h-3.4zM1018.6 1549.2h3.4v3.4h-3.4zM1025.4 1549.2h3.4v3.4h-3.4zM1049.2 1549.2h3.4v3.4h-3.4zM1052.6 1549.2h3.4v3.4h-3.4zM1056.0 1549.2h3.4v3.4h-3.4zM1059.4 1549.2h3.4v3.4h-3.4zM1062.8 1549.2h3.4v3.4h-3.4zM1066.2 1549.2h3.4v3.4h-3.4zM1079.8 1549.2h3.4v3.4h-3.4zM1086.6 1549.2h3.4v3.4h-3.4zM1090.0 1549.2h3.4v3.4h-3.4zM1093.4 1549.2h3.4v3.4h-3.4zM1096.8 1549.2h3.4v3.4h-3.4zM1100.2 1549.2h3.4v3.4h-3.4zM1120.6 1549.2h3.4v3.4h-3.4zM1124.0 1549.2h3.4v3.4h-3.4zM1130.8 1549.2h3.4v3.4h-3.4zM1141.0 1549.2h3.4v3.4h-3.4zM1158.0 1549.2h3.4v3.4h-3.4zM1168.2 1549.2h3.4v3.4h-3.4zM1175.0 1549.2h3.4v3.4h-3.4zM1219.2 1549.2h3.4v3.4h-3.4zM1260.0 1549.2h3.4v3.4h-3.4zM1263.4 1549.2h3.4v3.4h-3.4zM1266.8 1549.2h3.4v3.4h-3.4zM1277.0 1549.2h3.4v3.4h-3.4zM1294.0 1549.2h3.4v3.4h-3.4zM1300.8 1549.2h3.4v3.4h-3.4zM1311.0 1549.2h3.4v3.4h-3.4zM1317.8 1549.2h3.4v3.4h-3.4zM1324.6 1549.2h3.4v3.4h-3.4zM1351.8 1549.2h3.4v3.4h-3.4zM1358.6 1549.2h3.4v3.4h-3.4zM1365.4 1549.2h3.4v3.4h-3.4zM1375.6 1549.2h3.4v3.4h-3.4zM1382.4 1549.2h3.4v3.4h-3.4zM1385.8 1549.2h3.4v3.4h-3.4zM1416.4 1549.2h3.4v3.4h-3.4zM1423.2 1549.2h3.4v3.4h-3.4zM1436.8 1549.2h3.4v3.4h-3.4zM841.8 1545.8h3.4v3.4h-3.4zM852.0 1545.8h3.4v3.4h-3.4zM865.6 1545.8h3.4v3.4h-3.4zM916.6 1545.8h3.4v3.4h-3.4zM923.4 1545.8h3.4v3.4h-3.4zM930.2 1545.8h3.4v3.4h-3.4zM974.4 1545.8h3.4v3.4h-3.4zM1008.4 1545.8h3.4v3.4h-3.4zM1035.6 1545.8h3.4v3.4h-3.4zM1042.4 1545.8h3.4v3.4h-3.4zM1086.6 1545.8h3.4v3.4h-3.4zM1090.0 1545.8h3.4v3.4h-3.4zM1107.0 1545.8h3.4v3.4h-3.4zM1144.4 1545.8h3.4v3.4h-3.4zM1161.4 1545.8h3.4v3.4h-3.4zM1164.8 1545.8h3.4v3.4h-3.4zM1192.0 1545.8h3.4v3.4h-3.4zM1198.8 1545.8h3.4v3.4h-3.4zM1205.6 1545.8h3.4v3.4h-3.4zM1212.4 1545.8h3.4v3.4h-3.4zM1243.0 1545.8h3.4v3.4h-3.4zM1266.8 1545.8h3.4v3.4h-3.4zM1389.2 1545.8h3.4v3.4h-3.4zM1399.4 1545.8h3.4v3.4h-3.4zM1406.2 1545.8h3.4v3.4h-3.4zM1416.4 1545.8h3.4v3.4h-3.4zM1423.2 1545.8h3.4v3.4h-3.4z" fill="#8c8c8c"/>
<path d="M760.2 930.9h3.4v3.4h-3.4zM760.2 944.5h3.4v3.4h-3.4zM760.2 951.3h3.4v3.4h-3.4zM760.2 1009.1h3.4v3.4h-3.4zM760.2 1029.5h3.4v3.4h-3.4zM760.2 1039.7h3.4v3.4h-3.4zM760.2 1083.9h3.4v3.4h-3.4zM760.2 1117.9h3.4v3.4h-3.4zM760.2 1172.3h3.4v3.4h-3.4zM760.2 1202.9h3.4v3.4h-3.4zM760.2 1209.7h3.4v3.4h-3.4zM760.2 1226.7h3.4v3.4h-3.4zM760.2 1233.5h3.4v3.4h-3.4zM760.2 1247.1h3.4v3.4h-3.4zM760.2 1270.9h3.4v3.4h-3.4zM760.2 1332.1h3.4v3.4h-3.4zM760.2 1338.9h3.4v3.4h-3.4zM760.2 1345.7h3.4v3.4h-3.4zM760.2 1355.9h3.4v3.4h-3.4zM760.2 1413.7h3.4v3.4h-3.4zM760.2 1440.9h3.4v3.4h-3.4zM760.2 1454.5h3.4v3.4h-3.4zM760.2 1468.1h3.4v3.4h-3.4zM760.2 1471.5h3.4v3.4h-3.4zM760.2 1485.1h3.4v3.4h-3.4zM760.2 1488.5h3.4v3.4h-3.4zM760.2 1491.9h3.4v3.4h-3.4zM760.2 1498.7h3.4v3.4h-3.4zM760.2 1502.1h3.4v3.4h-3.4zM760.2 1519.1h3.4v3.4h-3.4zM760.2 1539.5h3.4v3.4h-3.4zM760.2 1546.3h3.4v3.4h-3.4zM1435.4 873.1h3.4v3.4h-3.4zM1435.4 879.9h3.4v3.4h-3.4zM1435.4 890.1h3.4v3.4h-3.4zM1435.4 913.9h3.4v3.4h-3.4zM1435.4 917.3h3.4v3.4h-3.4zM1435.4 934.3h3.4v3.4h-3.4zM1435.4 944.5h3.4v3.4h-3.4zM1435.4 951.3h3.4v3.4h-3.4zM1435.4 958.1h3.4v3.4h-3.4zM1435.4 961.5h3.4v3.4h-3.4zM1435.4 964.9h3.4v3.4h-3.4zM1435.4 968.3h3.4v3.4h-3.4zM1435.4 975.1h3.4v3.4h-3.4zM1435.4 978.5h3.4v3.4h-3.4zM1435.4 981.9h3.4v3.4h-3.4zM1435.4 985.3h3.4v3.4h-3.4zM1435.4 988.7h3.4v3.4h-3.4zM1435.4 992.1h3.4v3.4h-3.4zM1435.4 995.5h3.4v3.4h-3.4zM1435.4 1002.3h3.4v3.4h-3.4zM1435.4 1005.7h3.4v3.4h-3.4zM1435.4 1012.5h3.4v3.4h-3.4zM1435.4 1015.9h3.4v3.4h-3.4zM1435.4 1019.3h3.4v3.4h-3.4zM1435.4 1022.7h3.4v3.4h-3.4zM1435.4 1026.1h3.4v3.4h-3.4zM1435.4 1039.7h3.4v3.4h-3.4zM1435.4 1049.9h3.4v3.4h-3.4zM1435.4 1053.3h3.4v3.4h-3.4zM1435.4 1063.5h3.4v3.4h-3.4zM1435.4 1070.3h3.4v3.4h-3.4zM1435.4 1077.1h3.4v3.4h-3.4zM1435.4 1080.5h3.4v3.4h-3.4zM1435.4 1087.3h3.4v3.4h-3.4zM1435.4 1090.7h3.4v3.4h-3.4zM1435.4 1094.1h3.4v3.4h-3.4zM1435.4 1097.5h3.4v3.4h-3.4zM1435.4 1100.9h3.4v3.4h-3.4zM1435.4 1107.7h3.4v3.4h-3.4zM1435.4 1111.1h3.4v3.4h-3.4zM1435.4 1114.5h3.4v3.4h-3.4zM1435.4 1128.1h3.4v3.4h-3.4zM1435.4 1141.7h3.4v3.4h-3.4zM1435.4 1151.9h3.4v3.4h-3.4zM1435.4 1155.3h3.4v3.4h-3.4zM1435.4 1158.7h3.4v3.4h-3.4zM1435.4 1162.1h3.4v3.4h-3.4zM1435.4 1175.7h3.4v3.4h-3.4zM1435.4 1179.1h3.4v3.4h-3.4zM1435.4 1189.3h3.4v3.4h-3.4zM1435.4 1196.1h3.4v3.4h-3.4zM1435.4 1199.5h3.4v3.4h-3.4zM1435.4 1202.9h3.4v3.4h-3.4zM1435.4 1206.3h3.4v3.4h-3.4zM1435.4 1213.1h3.4v3.4h-3.4zM1435.4 1216.5h3.4v3.4h-3.4zM1435.4 1223.3h3.4v3.4h-3.4zM1435.4 1226.7h3.4v3.4h-3.4zM1435.4 1230.1h3.4v3.4h-3.4zM1435.4 1243.7h3.4v3.4h-3.4zM1435.4 1253.9h3.4v3.4h-3.4zM1435.4 1257.3h3.4v3.4h-3.4zM1435.4 1260.7h3.4v3.4h-3.4zM1435.4 1264.1h3.4v3.4h-3.4zM1435.4 1270.9h3.4v3.4h-3.4zM1435.4 1277.7h3.4v3.4h-3.4zM1435.4 1281.1h3.4v3.4h-3.4zM1435.4 1298.1h3.4v3.4h-3.4zM1435.4 1304.9h3.4v3.4h-3.4zM1435.4 1318.5h3.4v3.4h-3.4zM1435.4 1328.7h3.4v3.4h-3.4zM1435.4 1332.1h3.4v3.4h-3.4zM1435.4 1335.5h3.4v3.4h-3.4zM1435.4 1342.3h3.4v3.4h-3.4zM1435.4 1345.7h3.4v3.4h-3.4zM1435.4 1349.1h3.4v3.4h-3.4zM1435.4 1359.3h3.4v3.4h-3.4zM1435.4 1366.1h3.4v3.4h-3.4zM1435.4 1372.9h3.4v3.4h-3.4zM1435.4 1376.3h3.4v3.4h-3.4zM1435.4 1379.7h3.4v3.4h-3.4zM1435.4 1383.1h3.4v3.4h-3.4zM1435.4 1386.5h3.4v3.4h-3.4zM1435.4 1393.3h3.4v3.4h-3.4zM1435.4 1400.1h3.4v3.4h-3.4zM1435.4 1403.5h3.4v3.4h-3.4zM1435.4 1406.9h3.4v3.4h-3.4zM1435.4 1417.1h3.4v3.4h-3.4zM1435.4 1420.5h3.4v3.4h-3.4zM1435.4 1427.3h3.4v3.4h-3.4zM1435.4 1434.1h3.4v3.4h-3.4zM1435.4 1440.9h3.4v3.4h-3.4zM1435.4 1447.7h3.4v3.4h-3.4zM1435.4 1451.1h3.4v3.4h-3.4zM1435.4 1457.9h3.4v3.4h-3.4zM1435.4 1464.7h3.4v3.4h-3.4zM1435.4 1471.5h3.4v3.4h-3.4zM1435.4 1478.3h3.4v3.4h-3.4zM1435.4 1485.1h3.4v3.4h-3.4zM1435.4 1498.7h3.4v3.4h-3.4zM1435.4 1502.1h3.4v3.4h-3.4zM1435.4 1505.5h3.4v3.4h-3.4zM1435.4 1508.9h3.4v3.4h-3.4zM1435.4 1512.3h3.4v3.4h-3.4zM1435.4 1515.7h3.4v3.4h-3.4zM1435.4 1525.9h3.4v3.4h-3.4zM1435.4 1532.7h3.4v3.4h-3.4zM1435.4 1539.5h3.4v3.4h-3.4zM1435.4 1549.7h3.4v3.4h-3.4zM784.0 1549.2h3.4v3.4h-3.4zM797.6 1549.2h3.4v3.4h-3.4zM804.4 1549.2h3.4v3.4h-3.4zM838.4 1549.2h3.4v3.4h-3.4zM858.8 1549.2h3.4v3.4h-3.4zM869.0 1549.2h3.4v3.4h-3.4zM882.6 1549.2h3.4v3.4h-3.4zM923.4 1549.2h3.4v3.4h-3.4zM967.6 1549.2h3.4v3.4h-3.4zM971.0 1549.2h3.4v3.4h-3.4zM974.4 1549.2h3.4v3.4h-3.4zM991.4 1549.2h3.4v3.4h-3.4zM1008.4 1549.2h3.4v3.4h-3.4zM1028.8 1549.2h3.4v3.4h-3.4zM1032.2 1549.2h3.4v3.4h-3.4zM1035.6 1549.2h3.4v3.4h-3.4zM1069.6 1549.2h3.4v3.4h-3.4zM1076.4 1549.2h3.4v3.4h-3.4zM1117.2 1549.2h3.4v3.4h-3.4zM1127.4 1549.2h3.4v3.4h-3.4zM1134.2 1549.2h3.4v3.4h-3.4zM1151.2 1549.2h3.4v3.4h-3.4zM1164.8 1549.2h3.4v3.4h-3.4zM1171.6 1549.2h3.4v3.4h-3.4zM1192.0 1549.2h3.4v3.4h-3.4zM1198.8 1549.2h3.4v3.4h-3.4zM1215.8 1549.2h3.4v3.4h-3.4zM1229.4 1549.2h3.4v3.4h-3.4zM1249.8 1549.2h3.4v3.4h-3.4zM1273.6 1549.2h3.4v3.4h-3.4zM1280.4 1549.2h3.4v3.4h-3.4zM1290.6 1549.2h3.4v3.4h-3.4zM1334.8 1549.2h3.4v3.4h-3.4zM1341.6 1549.2h3.4v3.4h-3.4zM1345.0 1549.2h3.4v3.4h-3.4zM1348.4 1549.2h3.4v3.4h-3.4zM1368.8 1549.2h3.4v3.4h-3.4zM1379.0 1549.2h3.4v3.4h-3.4zM1399.4 1549.2h3.4v3.4h-3.4zM1402.8 1549.2h3.4v3.4h-3.4zM1409.6 1549.2h3.4v3.4h-3.4zM1419.8 1549.2h3.4v3.4h-3.4zM1426.6 1549.2h3.4v3.4h-3.4zM760.2 1545.8h3.4v3.4h-3.4zM763.6 1545.8h3.4v3.4h-3.4zM767.0 1545.8h3.4v3.4h-3.4zM770.4 1545.8h3.4v3.4h-3.4zM773.8 1545.8h3.4v3.4h-3.4zM777.2 1545.8h3.4v3.4h-3.4zM780.6 1545.8h3.4v3.4h-3.4zM784.0 1545.8h3.4v3.4h-3.4zM787.4 1545.8h3.4v3.4h-3.4zM790.8 1545.8h3.4v3.4h-3.4zM794.2 1545.8h3.4v3.4h-3.4zM797.6 1545.8h3.4v3.4h-3.4zM801.0 1545.8h3.4v3.4h-3.4zM804.4 1545.8h3.4v3.4h-3.4zM807.8 1545.8h3.4v3.4h-3.4zM811.2 1545.8h3.4v3.4h-3.4zM814.6 1545.8h3.4v3.4h-3.4zM818.0 1545.8h3.4v3.4h-3.4zM821.4 1545.8h3.4v3.4h-3.4zM824.8 1545.8h3.4v3.4h-3.4zM828.2 1545.8h3.4v3.4h-3.4zM831.6 1545.8h3.4v3.4h-3.4zM835.0 1545.8h3.4v3.4h-3.4zM838.4 1545.8h3.4v3.4h-3.4zM845.2 1545.8h3.4v3.4h-3.4zM848.6 1545.8h3.4v3.4h-3.4zM855.4 1545.8h3.4v3.4h-3.4zM858.8 1545.8h3.4v3.4h-3.4zM862.2 1545.8h3.4v3.4h-3.4zM869.0 1545.8h3.4v3.4h-3.4zM872.4 1545.8h3.4v3.4h-3.4zM875.8 1545.8h3.4v3.4h-3.4zM879.2 1545.8h3.4v3.4h-3.4zM882.6 1545.8h3.4v3.4h-3.4zM886.0 1545.8h3.4v3.4h-3.4zM889.4 1545.8h3.4v3.4h-3.4zM892.8 1545.8h3.4v3.4h-3.4zM896.2 1545.8h3.4v3.4h-3.4zM899.6 1545.8h3.4v3.4h-3.4zM903.0 1545.8h3.4v3.4h-3.4zM906.4 1545.8h3.4v3.4h-3.4zM909.8 1545.8h3.4v3.4h-3.4zM913.2 1545.8h3.4v3.4h-3.4zM920.0 1545.8h3.4v3.4h-3.4zM926.8 1545.8h3.4v3.4h-3.4zM933.6 1545.8h3.4v3.4h-3.4zM937.0 1545.8h3.4v3.4h-3.4zM940.4 1545.8h3.4v3.4h-3.4zM943.8 1545.8h3.4v3.4h-3.4zM947.2 1545.8h3.4v3.4h-3.4zM950.6 1545.8h3.4v3.4h-3.4zM954.0 1545.8h3.4v3.4h-3.4zM957.4 1545.8h3.4v3.4h-3.4zM960.8 1545.8h3.4v3.4h-3.4zM964.2 1545.8h3.4v3.4h-3.4zM967.6 1545.8h3.4v3.4h-3.4zM971.0 1545.8h3.4v3.4h-3.4zM977.8 1545.8h3.4v3.4h-3.4zM981.2 1545.8h3.4v3.4h-3.4zM984.6 1545.8h3.4v3.4h-3.4zM988.0 1545.8h3.4v3.4h-3.4zM991.4 1545.8h3.4v3.4h-3.4zM994.8 1545.8h3.4v3.4h-3.4zM998.2 1545.8h3.4v3.4h-3.4zM1001.6 1545.8h3.4v3.4h-3.4zM1005.0 1545.8h3.4v3.4h-3.4zM1011.8 1545.8h3.4v3.4h-3.4zM1015.2 1545.8h3.4v3.4h-3.4zM1018.6 1545.8h3.4v3.4h-3.4zM1022.0 1545.8h3.4v3.4h-3.4zM1025.4 1545.8h3.4v3.4h-3.4zM1028.8 1545.8h3.4v3.4h-3.4zM1032.2 1545.8h3.4v3.4h-3.4zM1039.0 1545.8h3.4v3.4h-3.4zM1045.8 1545.8h3.4v3.4h-3.4zM1049.2 1545.8h3.4v3.4h-3.4zM1052.6 1545.8h3.4v3.4h-3.4zM1056.0 1545.8h3.4v3.4h-3.4zM1059.4 1545.8h3.4v3.4h-3.4zM1062.8 1545.8h3.4v3.4h-3.4zM1066.2 1545.8h3.4v3.4h-3.4zM1069.6 1545.8h3.4v3.4h-3.4zM1073.0 1545.8h3.4v3.4h-3.4zM1076.4 1545.8h3.4v3.4h-3.4zM1079.8 1545.8h3.4v3.4h-3.4zM1083.2 1545.8h3.4v3.4h-3.4zM1093.4 1545.8h3.4v3.4h-3.4zM1096.8 1545.8h3.4v3.4h-3.4zM1100.2 1545.8h3.4v3.4h-3.4zM1103.6 1545.8h3.4v3.4h-3.4zM1110.4 1545.8h3.4v3.4h-3.4zM1113.8 1545.8h3.4v3.4h-3.4zM1117.2 1545.8h3.4v3.4h-3.4zM1120.6 1545.8h3.4v3.4h-3.4zM1124.0 1545.8h3.4v3.4h-3.4zM1127.4 1545.8h3.4v3.4h-3.4zM1130.8 1545.8h3.4v3.4h-3.4zM1134.2 1545.8h3.4v3.4h-3.4zM1137.6 1545.8h3.4v3.4h-3.4zM1141.0 1545.8h3.4v3.4h-3.4zM1147.8 1545.8h3.4v3.4h-3.4zM1151.2 1545.8h3.4v3.4h-3.4zM1154.6 1545.8h3.4v3.4h-3.4zM1158.0 1545.8h3.4v3.4h-3.4zM1168.2 1545.8h3.4v3.4h-3.4zM1171.6 1545.8h3.4v3.4h-3.4zM1175.0 1545.8h3.4v3.4h-3.4zM1178.4 1545.8h3.4v3.4h-3.4zM1181.8 1545.8h3.4v3.4h-3.4zM1185.2 1545.8h3.4v3.4h-3.4zM1188.6 1545.8h3.4v3.4h-3.4zM1195.4 1545.8h3.4v3.4h-3.4zM1202.2 1545.8h3.4v3.4h-3.4zM1209.0 1545.8h3.4v3.4h-3.4zM1215.8 1545.8h3.4v3.4h-3.4zM1219.2 1545.8h3.4v3.4h-3.4zM1222.6 1545.8h3.4v3.4h-3.4zM1226.0 1545.8h3.4v3.4h-3.4zM1229.4 1545.8h3.4v3.4h-3.4zM1232.8 1545.8h3.4v3.4h-3.4zM1236.2 1545.8h3.4v3.4h-3.4zM1239.6 1545.8h3.4v3.4h-3.4zM1246.4 1545.8h3.4v3.4h-3.4zM1249.8 1545.8h3.4v3.4h-3.4zM1253.2 1545.8h3.4v3.4h-3.4zM1256.6 1545.8h3.4v3.4h-3.4zM1260.0 1545.8h3.4v3.4h-3.4zM1263.4 1545.8h3.4v3.4h-3.4zM1270.2 1545.8h3.4v3.4h-3.4zM1273.6 1545.8h3.4v3.4h-3.4zM1277.0 1545.8h3.4v3.4h-3.4zM1280.4 1545.8h3.4v3.4h-3.4zM1283.8 1545.8h3.4v3.4h-3.4zM1287.2 1545.8h3.4v3.4h-3.4zM1290.6 1545.8h3.4v3.4h-3.4zM1294.0 1545.8h3.4v3.4h-3.4zM1297.4 1545.8h3.4v3.4h-3.4zM1300.8 1545.8h3.4v3.4h-3.4zM1304.2 1545.8h3.4v3.4h-3.4zM1307.6 1545.8h3.4v3.4h-3.4zM1311.0 1545.8h3.4v3.4h-3.4zM1314.4 1545.8h3.4v3.4h-3.4zM1317.8 1545.8h3.4v3.4h-3.4zM1321.2 1545.8h3.4v3.4h-3.4zM1324.6 1545.8h3.4v3.4h-3.4zM1328.0 1545.8h3.4v3.4h-3.4zM1331.4 1545.8h3.4v3.4h-3.4zM1334.8 1545.8h3.4v3.4h-3.4zM1338.2 1545.8h3.4v3.4h-3.4zM1341.6 1545.8h3.4v3.4h-3.4zM1345.0 1545.8h3.4v3.4h-3.4zM1348.4 1545.8h3.4v3.4h-3.4zM1351.8 1545.8h3.4v3.4h-3.4zM1355.2 1545.8h3.4v3.4h-3.4zM1358.6 1545.8h3.4v3.4h-3.4zM1362.0 1545.8h3.4v3.4h-3.4zM1365.4 1545.8h3.4v3.4h-3.4zM1368.8 1545.8h3.4v3.4h-3.4zM1372.2 1545.8h3.4v3.4h-3.4zM1375.6 1545.8h3.4v3.4h-3.4zM1379.0 1545.8h3.4v3.4h-3.4zM1382.4 1545.8h3.4v3.4h-3.4zM1385.8 1545.8h3.4v3.4h-3.4zM1392.6 1545.8h3.4v3.4h-3.4zM1396.0 1545.8h3.4v3.4h-3.4zM1402.8 1545.8h3.4v3.4h-3.4zM1409.6 1545.8h3.4v3.4h-3.4zM1413.0 1545.8h3.4v3.4h-3.4zM1419.8 1545.8h3.4v3.4h-3.4zM1426.6 1545.8h3.4v3.4h-3.4zM1430.0 1545.8h3.4v3.4h-3.4zM1433.4 1545.8h3.4v3.4h-3.4zM1436.8 1545.8h3.4v3.4h-3.4z" fill="#b4b4b4"/>
<path d="M773.8 873.1h3.4v3.4h-3.4zM811.2 873.1h3.4v3.4h-3.4zM831.6 873.1h3.4v3.4h-3.4zM835.0 873.1h3.4v3.4h-3.4zM845.2 873.1h3.4v3.4h-3.4zM865.6 873.1h3.4v3.4h-3.4zM869.0 873.1h3.4v3.4h-3.4zM875.8 873.1h3.4v3.4h-3.4zM886.0 873.1h3.4v3.4h-3.4zM892.8 873.1h3.4v3.4h-3.4zM906.4 873.1h3.4v3.4h-3.4zM916.6 873.1h3.4v3.4h-3.4zM923.4 873.1h3.4v3.4h-3.4zM926.8 873.1h3.4v3.4h-3.4zM933.6 873.1h3.4v3.4h-3.4zM937.0 873.1h3.4v3.4h-3.4zM947.2 873.1h3.4v3.4h-3.4zM957.4 873.1h3.4v3.4h-3.4zM960.8 873.1h3.4v3.4h-3.4zM964.2 873.1h3.4v3.4h-3.4zM977.8 873.1h3.4v3.4h-3.4zM984.6 873.1h3.4v3.4h-3.4zM994.8 873.1h3.4v3.4h-3.4zM998.2 873.1h3.4v3.4h-3.4zM1022.0 873.1h3.4v3.4h-3.4zM1042.4 873.1h3.4v3.4h-3.4zM1049.2 873.1h3.4v3.4h-3.4zM1069.6 873.1h3.4v3.4h-3.4zM1076.4 873.1h3.4v3.4h-3.4zM1110.4 873.1h3.4v3.4h-3.4zM1124.0 873.1h3.4v3.4h-3.4zM1151.2 873.1h3.4v3.4h-3.4zM1158.0 873.1h3.4v3.4h-3.4zM1178.4 873.1h3.4v3.4h-3.4zM1232.8 873.1h3.4v3.4h-3.4zM1253.2 873.1h3.4v3.4h-3.4zM1256.6 873.1h3.4v3.4h-3.4zM1280.4 873.1h3.4v3.4h-3.4zM1290.6 873.1h3.4v3.4h-3.4zM1304.2 873.1h3.4v3.4h-3.4zM1321.2 873.1h3.4v3.4h-3.4zM1334.8 873.1h3.4v3.4h-3.4zM1345.0 873.1h3.4v3.4h-3.4zM1348.4 873.1h3.4v3.4h-3.4zM1351.8 873.1h3.4v3.4h-3.4zM1358.6 873.1h3.4v3.4h-3.4zM1368.8 873.1h3.4v3.4h-3.4zM1375.6 873.1h3.4v3.4h-3.4zM763.6 876.5h3.4v3.4h-3.4zM794.2 876.5h3.4v3.4h-3.4zM814.6 876.5h3.4v3.4h-3.4zM821.4 876.5h3.4v3.4h-3.4zM831.6 876.5h3.4v3.4h-3.4zM845.2 876.5h3.4v3.4h-3.4zM862.2 876.5h3.4v3.4h-3.4zM869.0 876.5h3.4v3.4h-3.4zM892.8 876.5h3.4v3.4h-3.4zM913.2 876.5h3.4v3.4h-3.4zM920.0 876.5h3.4v3.4h-3.4zM923.4 876.5h3.4v3.4h-3.4zM954.0 876.5h3.4v3.4h-3.4zM971.0 876.5h3.4v3.4h-3.4zM977.8 876.5h3.4v3.4h-3.4zM991.4 876.5h3.4v3.4h-3.4zM1005.0 876.5h3.4v3.4h-3.4zM1018.6 876.5h3.4v3.4h-3.4zM1022.0 876.5h3.4v3.4h-3.4zM1066.2 876.5h3.4v3.4h-3.4zM1124.0 876.5h3.4v3.4h-3.4zM1137.6 876.5h3.4v3.4h-3.4zM1147.8 876.5h3.4v3.4h-3.4zM1154.6 876.5h3.4v3.4h-3.4zM1164.8 876.5h3.4v3.4h-3.4zM1168.2 876.5h3.4v3.4h-3.4zM1171.6 876.5h3.4v3.4h-3.4zM1175.0 876.5h3.4v3.4h-3.4zM1185.2 876.5h3.4v3.4h-3.4zM1202.2 876.5h3.4v3.4h-3.4zM1215.8 876.5h3.4v3.4h-3.4zM1226.0 876.5h3.4v3.4h-3.4zM1232.8 876.5h3.4v3.4h-3.4zM1260.0 876.5h3.4v3.4h-3.4zM1280.4 876.5h3.4v3.4h-3.4zM1287.2 876.5h3.4v3.4h-3.4zM1304.2 876.5h3.4v3.4h-3.4zM1307.6 876.5h3.4v3.4h-3.4zM1321.2 876.5h3.4v3.4h-3.4zM1334.8 876.5h3.4v3.4h-3.4zM1341.6 876.5h3.4v3.4h-3.4zM1348.4 876.5h3.4v3.4h-3.4zM1351.8 876.5h3.4v3.4h-3.4zM1372.2 876.5h3.4v3.4h-3.4zM1375.6 876.5h3.4v3.4h-3.4zM1382.4 876.5h3.4v3.4h-3.4zM1385.8 876.5h3.4v3.4h-3.4zM1389.2 876.5h3.4v3.4h-3.4zM1399.4 876.5h3.4v3.4h-3.4zM1402.8 876.5h3.4v3.4h-3.4zM1406.2 876.5h3.4v3.4h-3.4zM1423.2 876.5h3.4v3.4h-3.4zM1430.0 876.5h3.4v3.4h-3.4zM760.2 879.9h3.4v3.4h-3.4zM763.6 879.9h3.4v3.4h-3.4zM777.2 879.9h3.4v3.4h-3.4zM780.6 879.9h3.4v3.4h-3.4zM790.8 879.9h3.4v3.4h-3.4zM794.2 879.9h3.4v3.4h-3.4zM804.4 879.9h3.4v3.4h-3.4zM807.8 879.9h3.4v3.4h-3.4zM831.6 879.9h3.4v3.4h-3.4zM855.4 879.9h3.4v3.4h-3.4zM865.6 879.9h3.4v3.4h-3.4zM869.0 879.9h3.4v3.4h-3.4zM892.8 879.9h3.4v3.4h-3.4zM896.2 879.9h3.4v3.4h-3.4zM909.8 879.9h3.4v3.4h-3.4zM916.6 879.9h3.4v3.4h-3.4zM920.0 879.9h3.4v3.4h-3.4zM923.4 879.9h3.4v3.4h-3.4zM926.8 879.9h3.4v3.4h-3.4zM954.0 879.9h3.4v3.4h-3.4zM960.8 879.9h3.4v3.4h-3.4zM964.2 879.9h3.4v3.4h-3.4zM981.2 879.9h3.4v3.4h-3.4zM991.4 879.9h3.4v3.4h-3.4zM994.8 879.9h3.4v3.4h-3.4zM998.2 879.9h3.4v3.4h-3.4zM1011.8 879.9h3.4v3.4h-3.4zM1015.2 879.9h3.4v3.4h-3.4zM1032.2 879.9h3.4v3.4h-3.4zM1035.6 879.9h3.4v3.4h-3.4zM1039.0 879.9h3.4v3.4h-3.4zM1045.8 879.9h3.4v3.4h-3.4zM1049.2 879.9h3.4v3.4h-3.4zM1052.6 879.9h3.4v3.4h-3.4zM1056.0 879.9h3.4v3.4h-3.4zM1066.2 879.9h3.4v3.4h-3.4zM1069.6 879.9h3.4v3.4h-3.4zM1073.0 879.9h3.4v3.4h-3.4zM1083.2 879.9h3.4v3.4h-3.4zM1113.8 879.9h3.4v3.4h-3.4zM1120.6 879.9h3.4v3.4h-3.4zM1130.8 879.9h3.4v3.4h-3.4zM1137.6 879.9h3.4v3.4h-3.4zM1141.0 879.9h3.4v3.4h-3.4zM1144.4 879.9h3.4v3.4h-3.4zM1158.0 879.9h3.4v3.4h-3.4zM1161.4 879.9h3.4v3.4h-3.4zM1164.8 879.9h3.4v3.4h-3.4zM1175.0 879.9h3.4v3.4h-3.4zM1181.8 879.9h3.4v3.4h-3.4zM1195.4 879.9h3.4v3.4h-3.4zM1205.6 879.9h3.4v3.4h-3.4zM1222.6 879.9h3.4v3.4h-3.4zM1239.6 879.9h3.4v3.4h-3.4zM1246.4 879.9h3.4v3.4h-3.4zM1253.2 879.9h3.4v3.4h-3.4zM1256.6 879.9h3.4v3.4h-3.4zM1280.4 879.9h3.4v3.4h-3.4zM1283.8 879.9h3.4v3.4h-3.4zM1287.2 879.9h3.4v3.4h-3.4zM1297.4 879.9h3.4v3.4h-3.4zM1304.2 879.9h3.4v3.4h-3.4zM1311.0 879.9h3.4v3.4h-3.4zM1317.8 879.9h3.4v3.4h-3.4zM1331.4 879.9h3.4v3.4h-3.4zM1345.0 879.9h3.4v3.4h-3.4zM1362.0 879.9h3.4v3.4h-3.4zM1365.4 879.9h3.4v3.4h-3.4zM1379.0 879.9h3.4v3.4h-3.4zM1392.6 879.9h3.4v3.4h-3.4zM1396.0 879.9h3.4v3.4h-3.4zM1399.4 879.9h3.4v3.4h-3.4zM1413.0 879.9h3.4v3.4h-3.4zM1419.8 879.9h3.4v3.4h-3.4zM1426.6 879.9h3.4v3.4h-3.4zM1433.4 879.9h3.4v3.4h-3.4zM1436.8 879.9h3.4v3.4h-3.4zM760.2 879.9h3.4v3.4h-3.4zM760.2 961.5h3.4v3.4h-3.4zM760.2 981.9h3.4v3.4h-3.4zM760.2 1094.1h3.4v3.4h-3.4zM760.2 1114.5h3.4v3.4h-3.4zM760.2 1134.9h3.4v3.4h-3.4zM760.2 1141.7h3.4v3.4h-3.4zM760.2 1158.7h3.4v3.4h-3.4zM760.2 1162.1h3.4v3.4h-3.4zM760.2 1199.5h3.4v3.4h-3.4zM760.2 1206.3h3.4v3.4h-3.4zM760.2 1243.7h3.4v3.4h-3.4zM760.2 1260.7h3.4v3.4h-3.4zM760.2 1281.1h3.4v3.4h-3.4zM760.2 1406.9h3.4v3.4h-3.4zM760.2 1451.1h3.4v3.4h-3.4zM760.2 1505.5h3.4v3.4h-3.4zM760.2 1529.3h3.4v3.4h-3.4zM763.6 873.1h3.4v3.4h-3.4zM763.6 883.3h3.4v3.4h-3.4zM763.6 886.7h3.4v3.4h-3.4zM763.6 890.1h3.4v3.4h-3.4zM763.6 903.7h3.4v3.4h-3.4zM763.6 907.1h3.4v3.4h-3.4zM763.6 920.7h3.4v3.4h-3.4zM763.6 924.1h3.4v3.4h-3.4zM763.6 951.3h3.4v3.4h-3.4zM763.6 964.9h3.4v3.4h-3.4zM763.6 968.3h3.4v3.4h-3.4zM763.6 978.5h3.4v3.4h-3.4zM763.6 985.3h3.4v3.4h-3.4zM763.6 988.7h3.4v3.4h-3.4zM763.6 992.1h3.4v3.4h-3.4zM763.6 995.5h3.4v3.4h-3.4zM763.6 998.9h3.4v3.4h-3.4zM763.6 1002.3h3.4v3.4h-3.4zM763.6 1005.7h3.4v3.4h-3.4zM763.6 1012.5h3.4v3.4h-3.4zM763.6 1015.9h3.4v3.4h-3.4zM763.6 1022.7h3.4v3.4h-3.4zM763.6 1026.1h3.4v3.4h-3.4zM763.6 1029.5h3.4v3.4h-3.4zM763.6 1032.9h3.4v3.4h-3.4zM763.6 1043.1h3.4v3.4h-3.4zM763.6 1046.5h3.4v3.4h-3.4zM763.6 1049.9h3.4v3.4h-3.4zM763.6 1060.1h3.4v3.4h-3.4zM763.6 1080.5h3.4v3.4h-3.4zM763.6 1090.7h3.4v3.4h-3.4zM763.6 1104.3h3.4v3.4h-3.4zM763.6 1114.5h3.4v3.4h-3.4zM763.6 1117.9h3.4v3.4h-3.4zM763.6 1128.1h3.4v3.4h-3.4zM763.6 1131.5h3.4v3.4h-3.4zM763.6 1134.9h3.4v3.4h-3.4zM763.6 1141.7h3.4v3.4h-3.4zM763.6 1148.5h3.4v3.4h-3.4zM763.6 1158.7h3.4v3.4h-3.4zM763.6 1172.3h3.4v3.4h-3.4zM763.6 1175.7h3.4v3.4h-3.4zM763.6 1182.5h3.4v3.4h-3.4zM763.6 1185.9h3.4v3.4h-3.4zM763.6 1192.7h3.4v3.4h-3.4zM763.6 1196.1h3.4v3.4h-3.4zM763.6 1202.9h3.4v3.4h-3.4zM763.6 1206.3h3.4v3.4h-3.4zM763.6 1230.1h3.4v3.4h-3.4zM763.6 1236.9h3.4v3.4h-3.4zM763.6 1260.7h3.4v3.4h-3.4zM763.6 1277.7h3.4v3.4h-3.4zM763.6 1284.5h3.4v3.4h-3.4zM763.6 1287.9h3.4v3.4h-3.4zM763.6 1298.1h3.4v3.4h-3.4zM763.6 1304.9h3.4v3.4h-3.4zM763.6 1308.3h3.4v3.4h-3.4zM763.6 1338.9h3.4v3.4h-3.4zM763.6 1345.7h3.4v3.4h-3.4zM763.6 1355.9h3.4v3.4h-3.4zM763.6 1372.9h3.4v3.4h-3.4zM763.6 1386.5h3.4v3.4h-3.4zM763.6 1400.1h3.4v3.4h-3.4zM763.6 1406.9h3.4v3.4h-3.4zM763.6 1410.3h3.4v3.4h-3.4zM763.6 1413.7h3.4v3.4h-3.4zM763.6 1427.3h3.4v3.4h-3.4zM763.6 1447.7h3.4v3.4h-3.4zM763.6 1474.9h3.4v3.4h-3.4zM763.6 1488.5h3.4v3.4h-3.4zM763.6 1495.3h3.4v3.4h-3.4zM763.6 1508.9h3.4v3.4h-3.4zM763.6 1515.7h3.4v3.4h-3.4zM763.6 1532.7h3.4v3.4h-3.4zM763.6 1536.1h3.4v3.4h-3.4zM763.6 1542.9h3.4v3.4h-3.4zM767.0 873.1h3.4v3.4h-3.4zM767.0 876.5h3.4v3.4h-3.4zM767.0 879.9h3.4v3.4h-3.4zM767.0 883.3h3.4v3.4h-3.4zM767.0 886.7h3.4v3.4h-3.4zM767.0 890.1h3.4v3.4h-3.4zM767.0 893.5h3.4v3.4h-3.4zM767.0 896.9h3.4v3.4h-3.4zM767.0 900.3h3.4v3.4h-3.4zM767.0 903.7h3.4v3.4h-3.4zM767.0 907.1h3.4v3.4h-3.4zM767.0 910.5h3.4v3.4h-3.4zM767.0 913.9h3.4v3.4h-3.4zM767.0 917.3h3.4v3.4h-3.4zM767.0 920.7h3.4v3.4h-3.4zM767.0 924.1h3.4v3.4h-3.4zM767.0 927.5h3.4v3.4h-3.4zM767.0 930.9h3.4v3.4h-3.4zM767.0 934.3h3.4v3.4h-3.4zM767.0 937.7h3.4v3.4h-3.4zM767.0 941.1h3.4v3.4h-3.4zM767.0 944.5h3.4v3.4h-3.4zM767.0 947.9h3.4v3.4h-3.4zM767.0 951.3h3.4v3.4h-3.4zM767.0 954.7h3.4v3.4h-3.4zM767.0 958.1h3.4v3.4h-3.4zM767.0 964.9h3.4v3.4h-3.4zM767.0 968.3h3.4v3.4h-3.4zM767.0 971.7h3.4v3.4h-3.4zM767.0 975.1h3.4v3.4h-3.4zM767.0 978.5h3.4v3.4h-3.4zM767.0 981.9h3.4v3.4h-3.4zM767.0 985.3h3.4v3.4h-3.4zM767.0 988.7h3.4v3.4h-3.4zM767.0 992.1h3.4v3.4h-3.4zM767.0 995.5h3.4v3.4h-3.4zM767.0 998.9h3.4v3.4h-3.4zM767.0 1002.3h3.4v3.4h-3.4zM767.0 1005.7h3.4v3.4h-3.4zM767.0 1009.1h3.4v3.4h-3.4zM767.0 1012.5h3.4v3.4h-3.4zM767.0 1015.9h3.4v3.4h-3.4zM767.0 1019.3h3.4v3.4h-3.4zM767.0 1022.7h3.4v3.4h-3.4zM767.0 1029.5h3.4v3.4h-3.4zM767.0 1032.9h3.4v3.4h-3.4zM767.0 1036.3h3.4v3.4h-3.4zM767.0 1039.7h3.4v3.4h-3.4zM767.0 1043.1h3.4v3.4h-3.4zM767.0 1046.5h3.4v3.4h-3.4zM767.0 1049.9h3.4v3.4h-3.4zM767.0 1053.3h3.4v3.4h-3.4zM767.0 1056.7h3.4v3.4h-3.4zM767.0 1060.1h3.4v3.4h-3.4zM767.0 1063.5h3.4v3.4h-3.4zM767.0 1066.9h3.4v3.4h-3.4zM767.0 1070.3h3.4v3.4h-3.4zM767.0 1073.7h3.4v3.4h-3.4zM767.0 1077.1h3.4v3.4h-3.4zM767.0 1080.5h3.4v3.4h-3.4zM767.0 1083.9h3.4v3.4h-3.4zM767.0 1087.3h3.4v3.4h-3.4zM767.0 1090.7h3.4v3.4h-3.4zM767.0 1094.1h3.4v3.4h-3.4zM767.0 1097.5h3.4v3.4h-3.4zM767.0 1100.9h3.4v3.4h-3.4zM767.0 1104.3h3.4v3.4h-3.4zM767.0 1107.7h3.4v3.4h-3.4zM767.0 1111.1h3.4v3.4h-3.4zM767.0 1114.5h3.4v3.4h-3.4zM767.0 1117.9h3.4v3.4h-3.4zM767.0 1121.3h3.4v3.4h-3.4zM767.0 1124.7h3.4v3.4h-3.4zM767.0 1128.1h3.4v3.4h-3.4zM767.0 1131.5h3.4v3.4h-3.4zM767.0 1138.3h3.4v3.4h-3.4zM767.0 1141.7h3.4v3.4h-3.4zM767.0 1145.1h3.4v3.4h-3.4zM767.0 1148.5h3.4v3.4h-3.4zM767.0 1151.9h3.4v3.4h-3.4zM767.0 1155.3h3.4v3.4h-3.4zM767.0 1158.7h3.4v3.4h-3.4zM767.0 1162.1h3.4v3.4h-3.4zM767.0 1168.9h3.4v3.4h-3.4zM767.0 1175.7h3.4v3.4h-3.4zM767.0 1179.1h3.4v3.4h-3.4zM767.0 1182.5h3.4v3.4h-3.4zM767.0 1185.9h3.4v3.4h-3.4zM767.0 1189.3h3.4v3.4h-3.4zM767.0 1192.7h3.4v3.4h-3.4zM767.0 1196.1h3.4v3.4h-3.4zM767.0 1199.5h3.4v3.4h-3.4zM767.0 1202.9h3.4v3.4h-3.4zM767.0 1209.7h3.4v3.4h-3.4zM767.0 1213.1h3.4v3.4h-3.4zM767.0 1216.5h3.4v3.4h-3.4zM767.0 1219.9h3.4v3.4h-3.4zM767.0 1223.3h3.4v3.4h-3.4zM767.0 1226.7h3.4v3.4h-3.4zM767.0 1230.1h3.4v3.4h-3.4zM767.0 1236.9h3.4v3.4h-3.4zM767.0 1240.3h3.4v3.4h-3.4zM767.0 1243.7h3.4v3.4h-3.4zM767.0 1247.1h3.4v3.4h-3.4zM767.0 1250.5h3.4v3.4h-3.4zM767.0 1253.9h3.4v3.4h-3.4zM767.0 1257.3h3.4v3.4h-3.4zM767.0 1260.7h3.4v3.4h-3.4zM767.0 1264.1h3.4v3.4h-3.4zM767.0 1267.5h3.4v3.4h-3.4zM767.0 1270.9h3.4v3.4h-3.4zM767.0 1274.3h3.4v3.4h-3.4zM767.0 1277.7h3.4v3.4h-3.4zM767.0 1281.1h3.4v3.4h-3.4zM767.0 1284.5h3.4v3.4h-3.4zM767.0 1291.3h3.4v3.4h-3.4zM767.0 1294.7h3.4v3.4h-3.4zM767.0 1298.1h3.4v3.4h-3.4zM767.0 1301.5h3.4v3.4h-3.4zM767.0 1304.9h3.4v3.4h-3.4zM767.0 1308.3h3.4v3.4h-3.4zM767.0 1311.7h3.4v3.4h-3.4zM767.0 1315.1h3.4v3.4h-3.4zM767.0 1318.5h3.4v3.4h-3.4zM767.0 1321.9h3.4v3.4h-3.4zM767.0 1325.3h3.4v3.4h-3.4zM767.0 1328.7h3.4v3.4h-3.4zM767.0 1332.1h3.4v3.4h-3.4zM767.0 1335.5h3.4v3.4h-3.4zM767.0 1338.9h3.4v3.4h-3.4zM767.0 1342.3h3.4v3.4h-3.4zM767.0 1345.7h3.4v3.4h-3.4zM767.0 1349.1h3.4v3.4h-3.4zM767.0 1352.5h3.4v3.4h-3.4zM767.0 1355.9h3.4v3.4h-3.4zM767.0 1359.3h3.4v3.4h-3.4zM767.0 1362.7h3.4v3.4h-3.4zM767.0 1366.1h3.4v3.4h-3.4zM767.0 1369.5h3.4v3.4h-3.4zM767.0 1372.9h3.4v3.4h-3.4zM767.0 1376.3h3.4v3.4h-3.4zM767.0 1379.7h3.4v3.4h-3.4zM767.0 1383.1h3.4v3.4h-3.4zM767.0 1386.5h3.4v3.4h-3.4zM767.0 1389.9h3.4v3.4h-3.4zM767.0 1393.3h3.4v3.4h-3.4zM767.0 1400.1h3.4v3.4h-3.4zM767.0 1403.5h3.4v3.4h-3.4zM767.0 1406.9h3.4v3.4h-3.4zM767.0 1413.7h3.4v3.4h-3.4zM767.0 1417.1h3.4v3.4h-3.4zM767.0 1420.5h3.4v3.4h-3.4zM767.0 1423.9h3.4v3.4h-3.4zM767.0 1427.3h3.4v3.4h-3.4zM767.0 1430.7h3.4v3.4h-3.4zM767.0 1434.1h3.4v3.4h-3.4zM767.0 1440.9h3.4v3.4h-3.4zM767.0 1444.3h3.4v3.4h-3.4zM767.0 1451.1h3.4v3.4h-3.4zM767.0 1454.5h3.4v3.4h-3.4zM767.0 1457.9h3.4v3.4h-3.4zM767.0 1461.3h3.4v3.4h-3.4zM767.0 1464.7h3.4v3.4h-3.4zM767.0 1468.1h3.4v3.4h-3.4zM767.0 1471.5h3.4v3.4h-3.4zM767.0 1474.9h3.4v3.4h-3.4zM767.0 1478.3h3.4v3.4h-3.4zM767.0 1481.7h3.4v3.4h-3.4zM767.0 1485.1h3.4v3.4h-3.4zM767.0 1491.9h3.4v3.4h-3.4zM767.0 1495.3h3.4v3.4h-3.4zM767.0 1498.7h3.4v3.4h-3.4zM767.0 1502.1h3.4v3.4h-3.4zM767.0 1505.5h3.4v3.4h-3.4zM767.0 1508.9h3.4v3.4h-3.4zM767.0 1512.3h3.4v3.4h-3.4zM767.0 1515.7h3.4v3.4h-3.4zM767.0 1519.1h3.4v3.4h-3.4zM767.0 1522.5h3.4v3.4h-3.4zM767.0 1525.9h3.4v3.4h-3.4zM767.0 1529.3h3.4v3.4h-3.4zM767.0 1532.7h3.4v3.4h-3.4zM767.0 1536.1h3.4v3.4h-3.4zM767.0 1539.5h3.4v3.4h-3.4zM767.0 1542.9h3.4v3.4h-3.4zM767.0 1546.3h3.4v3.4h-3.4zM767.0 1549.7h3.4v3.4h-3.4zM1438.8 896.9h3.4v3.4h-3.4zM1438.8 924.1h3.4v3.4h-3.4zM1438.8 937.7h3.4v3.4h-3.4zM1438.8 947.9h3.4v3.4h-3.4zM1438.8 964.9h3.4v3.4h-3.4zM1438.8 1022.7h3.4v3.4h-3.4zM1438.8 1032.9h3.4v3.4h-3.4zM1438.8 1036.3h3.4v3.4h-3.4zM1438.8 1053.3h3.4v3.4h-3.4zM1438.8 1073.7h3.4v3.4h-3.4zM1438.8 1083.9h3.4v3.4h-3.4zM1438.8 1185.9h3.4v3.4h-3.4zM1438.8 1189.3h3.4v3.4h-3.4zM1438.8 1199.5h3.4v3.4h-3.4zM1438.8 1223.3h3.4v3.4h-3.4zM1438.8 1230.1h3.4v3.4h-3.4zM1438.8 1257.3h3.4v3.4h-3.4zM1438.8 1267.5h3.4v3.4h-3.4zM1438.8 1287.9h3.4v3.4h-3.4zM1438.8 1294.7h3.4v3.4h-3.4zM1438.8 1298.1h3.4v3.4h-3.4zM1438.8 1311.7h3.4v3.4h-3.4zM1438.8 1318.5h3.4v3.4h-3.4zM1438.8 1325.3h3.4v3.4h-3.4zM1438.8 1345.7h3.4v3.4h-3.4zM1438.8 1389.9h3.4v3.4h-3.4zM1438.8 1406.9h3.4v3.4h-3.4zM1438.8 1447.7h3.4v3.4h-3.4zM1438.8 1471.5h3.4v3.4h-3.4zM1438.8 1542.9h3.4v3.4h-3.4zM780.6 1552.6h3.4v3.4h-3.4zM807.8 1552.6h3.4v3.4h-3.4zM848.6 1552.6h3.4v3.4h-3.4zM858.8 1552.6h3.4v3.4h-3.4zM872.4 1552.6h3.4v3.4h-3.4zM889.4 1552.6h3.4v3.4h-3.4zM892.8 1552.6h3.4v3.4h-3.4zM943.8 1552.6h3.4v3.4h-3.4zM950.6 1552.6h3.4v3.4h-3.4zM984.6 1552.6h3.4v3.4h-3.4zM1022.0 1552.6h3.4v3.4h-3.4zM1025.4 1552.6h3.4v3.4h-3.4zM1035.6 1552.6h3.4v3.4h-3.4zM1045.8 1552.6h3.4v3.4h-3.4zM1083.2 1552.6h3.4v3.4h-3.4zM1093.4 1552.6h3.4v3.4h-3.4zM1113.8 1552.6h3.4v3.4h-3.4zM1124.0 1552.6h3.4v3.4h-3.4zM1130.8 1552.6h3.4v3.4h-3.4zM1147.8 1552.6h3.4v3.4h-3.4zM1168.2 1552.6h3.4v3.4h-3.4zM1171.6 1552.6h3.4v3.4h-3.4zM1178.4 1552.6h3.4v3.4h-3.4zM1188.6 1552.6h3.4v3.4h-3.4zM1192.0 1552.6h3.4v3.4h-3.4zM1198.8 1552.6h3.4v3.4h-3.4zM1209.0 1552.6h3.4v3.4h-3.4zM1222.6 1552.6h3.4v3.4h-3.4zM1270.2 1552.6h3.4v3.4h-3.4zM1334.8 1552.6h3.4v3.4h-3.4zM1345.0 1552.6h3.4v3.4h-3.4zM1348.4 1552.6h3.4v3.4h-3.4zM1355.2 1552.6h3.4v3.4h-3.4zM1396.0 1552.6h3.4v3.4h-3.4zM1416.4 1552.6h3.4v3.4h-3.4zM1430.0 1552.6h3.4v3.4h-3.4zM1433.4 1552.6h3.4v3.4h-3.4zM770.4 1549.2h3.4v3.4h-3.4zM780.6 1549.2h3.4v3.4h-3.4zM807.8 1549.2h3.4v3.4h-3.4zM814.6 1549.2h3.4v3.4h-3.4zM824.8 1549.2h3.4v3.4h-3.4zM841.8 1549.2h3.4v3.4h-3.4zM886.0 1549.2h3.4v3.4h-3.4zM889.4 1549.2h3.4v3.4h-3.4zM899.6 1549.2h3.4v3.4h-3.4zM906.4 1549.2h3.4v3.4h-3.4zM909.8 1549.2h3.4v3.4h-3.4zM933.6 1549.2h3.4v3.4h-3.4zM943.8 1549.2h3.4v3.4h-3.4zM947.2 1549.2h3.4v3.4h-3.4zM957.4 1549.2h3.4v3.4h-3.4zM1107.0 1549.2h3.4v3.4h-3.4zM1113.8 1549.2h3.4v3.4h-3.4zM1144.4 1549.2h3.4v3.4h-3.4zM1178.4 1549.2h3.4v3.4h-3.4zM1181.8 1549.2h3.4v3.4h-3.4zM1212.4 1549.2h3.4v3.4h-3.4zM1222.6 1549.2h3.4v3.4h-3.4zM1232.8 1549.2h3.4v3.4h-3.4zM1243.0 1549.2h3.4v3.4h-3.4zM1287.2 1549.2h3.4v3.4h-3.4zM1304.2 1549.2h3.4v3.4h-3.4zM1321.2 1549.2h3.4v3.4h-3.4zM1328.0 1549.2h3.4v3.4h-3.4zM1362.0 1549.2h3.4v3.4h-3.4zM1430.0 1549.2h3.4v3.4h-3.4z" fill="#484848"/>
<path d="M760.2 873.1h3.4v3.4h-3.4zM777.2 873.1h3.4v3.4h-3.4zM807.8 873.1h3.4v3.4h-3.4zM818.0 873.1h3.4v3.4h-3.4zM828.2 873.1h3.4v3.4h-3.4zM896.2 873.1h3.4v3.4h-3.4zM920.0 873.1h3.4v3.4h-3.4zM930.2 873.1h3.4v3.4h-3.4zM988.0 873.1h3.4v3.4h-3.4zM1008.4 873.1h3.4v3.4h-3.4zM1025.4 873.1h3.4v3.4h-3.4zM1052.6 873.1h3.4v3.4h-3.4zM1062.8 873.1h3.4v3.4h-3.4zM1083.2 873.1h3.4v3.4h-3.4zM1127.4 873.1h3.4v3.4h-3.4zM1137.6 873.1h3.4v3.4h-3.4zM1154.6 873.1h3.4v3.4h-3.4zM1171.6 873.1h3.4v3.4h-3.4zM1181.8 873.1h3.4v3.4h-3.4zM1185.2 873.1h3.4v3.4h-3.4zM1202.2 873.1h3.4v3.4h-3.4zM1209.0 873.1h3.4v3.4h-3.4zM1263.4 873.1h3.4v3.4h-3.4zM1266.8 873.1h3.4v3.4h-3.4zM1273.6 873.1h3.4v3.4h-3.4zM1277.0 873.1h3.4v3.4h-3.4zM1287.2 873.1h3.4v3.4h-3.4zM1300.8 873.1h3.4v3.4h-3.4zM1331.4 873.1h3.4v3.4h-3.4zM1341.6 873.1h3.4v3.4h-3.4zM1355.2 873.1h3.4v3.4h-3.4zM1362.0 873.1h3.4v3.4h-3.4zM1382.4 873.1h3.4v3.4h-3.4zM1423.2 873.1h3.4v3.4h-3.4zM1430.0 873.1h3.4v3.4h-3.4zM760.2 876.5h3.4v3.4h-3.4zM767.0 876.5h3.4v3.4h-3.4zM770.4 876.5h3.4v3.4h-3.4zM780.6 876.5h3.4v3.4h-3.4zM784.0 876.5h3.4v3.4h-3.4zM790.8 876.5h3.4v3.4h-3.4zM801.0 876.5h3.4v3.4h-3.4zM807.8 876.5h3.4v3.4h-3.4zM811.2 876.5h3.4v3.4h-3.4zM824.8 876.5h3.4v3.4h-3.4zM828.2 876.5h3.4v3.4h-3.4zM835.0 876.5h3.4v3.4h-3.4zM838.4 876.5h3.4v3.4h-3.4zM841.8 876.5h3.4v3.4h-3.4zM852.0 876.5h3.4v3.4h-3.4zM855.4 876.5h3.4v3.4h-3.4zM858.8 876.5h3.4v3.4h-3.4zM865.6 876.5h3.4v3.4h-3.4zM872.4 876.5h3.4v3.4h-3.4zM875.8 876.5h3.4v3.4h-3.4zM882.6 876.5h3.4v3.4h-3.4zM889.4 876.5h3.4v3.4h-3.4zM896.2 876.5h3.4v3.4h-3.4zM899.6 876.5h3.4v3.4h-3.4zM903.0 876.5h3.4v3.4h-3.4zM906.4 876.5h3.4v3.4h-3.4zM909.8 876.5h3.4v3.4h-3.4zM926.8 876.5h3.4v3.4h-3.4zM933.6 876.5h3.4v3.4h-3.4zM947.2 876.5h3.4v3.4h-3.4zM950.6 876.5h3.4v3.4h-3.4zM960.8 876.5h3.4v3.4h-3.4zM964.2 876.5h3.4v3.4h-3.4zM967.6 876.5h3.4v3.4h-3.4zM974.4 876.5h3.4v3.4h-3.4zM984.6 876.5h3.4v3.4h-3.4zM988.0 876.5h3.4v3.4h-3.4zM1011.8 876.5h3.4v3.4h-3.4zM1015.2 876.5h3.4v3.4h-3.4zM1025.4 876.5h3.4v3.4h-3.4zM1032.2 876.5h3.4v3.4h-3.4zM1035.6 876.5h3.4v3.4h-3.4zM1039.0 876.5h3.4v3.4h-3.4zM1042.4 876.5h3.4v3.4h-3.4zM1045.8 876.5h3.4v3.4h-3.4zM1056.0 876.5h3.4v3.4h-3.4zM1069.6 876.5h3.4v3.4h-3.4zM1076.4 876.5h3.4v3.4h-3.4zM1083.2 876.5h3.4v3.4h-3.4zM1086.6 876.5h3.4v3.4h-3.4zM1096.8 876.5h3.4v3.4h-3.4zM1100.2 876.5h3.4v3.4h-3.4zM1107.0 876.5h3.4v3.4h-3.4zM1181.8 876.5h3.4v3.4h-3.4zM1188.6 876.5h3.4v3.4h-3.4zM1212.4 876.5h3.4v3.4h-3.4zM1222.6 876.5h3.4v3.4h-3.4zM1236.2 876.5h3.4v3.4h-3.4zM1243.0 876.5h3.4v3.4h-3.4zM1246.4 876.5h3.4v3.4h-3.4zM1249.8 876.5h3.4v3.4h-3.4zM1253.2 876.5h3.4v3.4h-3.4zM1263.4 876.5h3.4v3.4h-3.4zM1266.8 876.5h3.4v3.4h-3.4zM1270.2 876.5h3.4v3.4h-3.4zM1273.6 876.5h3.4v3.4h-3.4zM1277.0 876.5h3.4v3.4h-3.4zM1290.6 876.5h3.4v3.4h-3.4zM1294.0 876.5h3.4v3.4h-3.4zM1311.0 876.5h3.4v3.4h-3.4zM1314.4 876.5h3.4v3.4h-3.4zM1324.6 876.5h3.4v3.4h-3.4zM1328.0 876.5h3.4v3.4h-3.4zM1331.4 876.5h3.4v3.4h-3.4zM1338.2 876.5h3.4v3.4h-3.4zM1345.0 876.5h3.4v3.4h-3.4zM1355.2 876.5h3.4v3.4h-3.4zM1365.4 876.5h3.4v3.4h-3.4zM1368.8 876.5h3.4v3.4h-3.4zM1392.6 876.5h3.4v3.4h-3.4zM1413.0 876.5h3.4v3.4h-3.4zM1419.8 876.5h3.4v3.4h-3.4zM767.0 879.9h3.4v3.4h-3.4zM770.4 879.9h3.4v3.4h-3.4zM773.8 879.9h3.4v3.4h-3.4zM784.0 879.9h3.4v3.4h-3.4zM787.4 879.9h3.4v3.4h-3.4zM797.6 879.9h3.4v3.4h-3.4zM801.0 879.9h3.4v3.4h-3.4zM811.2 879.9h3.4v3.4h-3.4zM814.6 879.9h3.4v3.4h-3.4zM818.0 879.9h3.4v3.4h-3.4zM821.4 879.9h3.4v3.4h-3.4zM824.8 879.9h3.4v3.4h-3.4zM828.2 879.9h3.4v3.4h-3.4zM835.0 879.9h3.4v3.4h-3.4zM838.4 879.9h3.4v3.4h-3.4zM841.8 879.9h3.4v3.4h-3.4zM845.2 879.9h3.4v3.4h-3.4zM848.6 879.9h3.4v3.4h-3.4zM852.0 879.9h3.4v3.4h-3.4zM858.8 879.9h3.4v3.4h-3.4zM862.2 879.9h3.4v3.4h-3.4zM872.4 879.9h3.4v3.4h-3.4zM875.8 879.9h3.4v3.4h-3.4zM879.2 879.9h3.4v3.4h-3.4zM882.6 879.9h3.4v3.4h-3.4zM886.0 879.9h3.4v3.4h-3.4zM889.4 879.9h3.4v3.4h-3.4zM899.6 879.9h3.4v3.4h-3.4zM903.0 879.9h3.4v3.4h-3.4zM906.4 879.9h3.4v3.4h-3.4zM913.2 879.9h3.4v3.4h-3.4zM930.2 879.9h3.4v3.4h-3.4zM933.6 879.9h3.4v3.4h-3.4zM937.0 879.9h3.4v3.4h-3.4zM940.4 879.9h3.4v3.4h-3.4zM943.8 879.9h3.4v3.4h-3.4zM947.2 879.9h3.4v3.4h-3.4zM950.6 879.9h3.4v3.4h-3.4zM957.4 879.9h3.4v3.4h-3.4zM967.6 879.9h3.4v3.4h-3.4zM971.0 879.9h3.4v3.4h-3.4zM974.4 879.9h3.4v3.4h-3.4zM977.8 879.9h3.4v3.4h-3.4zM984.6 879.9h3.4v3.4h-3.4zM988.0 879.9h3.4v3.4h-3.4zM1001.6 879.9h3.4v3.4h-3.4zM1005.0 879.9h3.4v3.4h-3.4zM1008.4 879.9h3.4v3.4h-3.4zM1018.6 879.9h3.4v3.4h-3.4zM1022.0 879.9h3.4v3.4h-3.4zM1025.4 879.9h3.4v3.4h-3.4zM1028.8 879.9h3.4v3.4h-3.4zM1042.4 879.9h3.4v3.4h-3.4zM1059.4 879.9h3.4v3.4h-3.4zM1062.8 879.9h3.4v3.4h-3.4zM1076.4 879.9h3.4v3.4h-3.4zM1079.8 879.9h3.4v3.4h-3.4zM1086.6 879.9h3.4v3.4h-3.4zM1090.0 879.9h3.4v3.4h-3.4zM1093.4 879.9h3.4v3.4h-3.4zM1096.8 879.9h3.4v3.4h-3.4zM1100.2 879.9h3.4v3.4h-3.4zM1103.6 879.9h3.4v3.4h-3.4zM1107.0 879.9h3.4v3.4h-3.4zM1110.4 879.9h3.4v3.4h-3.4zM1117.2 879.9h3.4v3.4h-3.4zM1124.0 879.9h3.4v3.4h-3.4zM1127.4 879.9h3.4v3.4h-3.4zM1134.2 879.9h3.4v3.4h-3.4zM1147.8 879.9h3.4v3.4h-3.4zM1151.2 879.9h3.4v3.4h-3.4zM1154.6 879.9h3.4v3.4h-3.4zM1168.2 879.9h3.4v3.4h-3.4zM1171.6 879.9h3.4v3.4h-3.4zM1178.4 879.9h3.4v3.4h-3.4zM1185.2 879.9h3.4v3.4h-3.4zM1188.6 879.9h3.4v3.4h-3.4zM1192.0 879.9h3.4v3.4h-3.4zM1198.8 879.9h3.4v3.4h-3.4zM1202.2 879.9h3.4v3.4h-3.4zM1209.0 879.9h3.4v3.4h-3.4zM1212.4 879.9h3.4v3.4h-3.4zM1215.8 879.9h3.4v3.4h-3.4zM1219.2 879.9h3.4v3.4h-3.4zM1226.0 879.9h3.4v3.4h-3.4zM1229.4 879.9h3.4v3.4h-3.4zM1232.8 879.9h3.4v3.4h-3.4zM1236.2 879.9h3.4v3.4h-3.4zM1243.0 879.9h3.4v3.4h-3.4zM1249.8 879.9h3.4v3.4h-3.4zM1260.0 879.9h3.4v3.4h-3.4zM1263.4 879.9h3.4v3.4h-3.4zM1266.8 879.9h3.4v3.4h-3.4zM1270.2 879.9h3.4v3.4h-3.4zM1273.6 879.9h3.4v3.4h-3.4zM1277.0 879.9h3.4v3.4h-3.4zM1290.6 879.9h3.4v3.4h-3.4zM1294.0 879.9h3.4v3.4h-3.4zM1300.8 879.9h3.4v3.4h-3.4zM1307.6 879.9h3.4v3.4h-3.4zM1314.4 879.9h3.4v3.4h-3.4zM1321.2 879.9h3.4v3.4h-3.4zM1324.6 879.9h3.4v3.4h-3.4zM1328.0 879.9h3.4v3.4h-3.4zM1334.8 879.9h3.4v3.4h-3.4zM1338.2 879.9h3.4v3.4h-3.4zM1341.6 879.9h3.4v3.4h-3.4zM1348.4 879.9h3.4v3.4h-3.4zM1351.8 879.9h3.4v3.4h-3.4zM1355.2 879.9h3.4v3.4h-3.4zM1358.6 879.9h3.4v3.4h-3.4zM1368.8 879.9h3.4v3.4h-3.4zM1372.2 879.9h3.4v3.4h-3.4zM1375.6 879.9h3.4v3.4h-3.4zM1382.4 879.9h3.4v3.4h-3.4zM1385.8 879.9h3.4v3.4h-3.4zM1389.2 879.9h3.4v3.4h-3.4zM1402.8 879.9h3.4v3.4h-3.4zM1406.2 879.9h3.4v3.4h-3.4zM1409.6 879.9h3.4v3.4h-3.4zM1416.4 879.9h3.4v3.4h-3.4zM1423.2 879.9h3.4v3.4h-3.4zM1430.0 879.9h3.4v3.4h-3.4zM763.6 876.5h3.4v3.4h-3.4zM763.6 896.9h3.4v3.4h-3.4zM763.6 900.3h3.4v3.4h-3.4zM763.6 937.7h3.4v3.4h-3.4zM763.6 941.1h3.4v3.4h-3.4zM763.6 975.1h3.4v3.4h-3.4zM763.6 1036.3h3.4v3.4h-3.4zM763.6 1063.5h3.4v3.4h-3.4zM763.6 1077.1h3.4v3.4h-3.4zM763.6 1087.3h3.4v3.4h-3.4zM763.6 1094.1h3.4v3.4h-3.4zM763.6 1100.9h3.4v3.4h-3.4zM763.6 1151.9h3.4v3.4h-3.4zM763.6 1168.9h3.4v3.4h-3.4zM763.6 1216.5h3.4v3.4h-3.4zM763.6 1233.5h3.4v3.4h-3.4zM763.6 1240.3h3.4v3.4h-3.4zM763.6 1250.5h3.4v3.4h-3.4zM763.6 1257.3h3.4v3.4h-3.4zM763.6 1294.7h3.4v3.4h-3.4zM763.6 1321.9h3.4v3.4h-3.4zM763.6 1328.7h3.4v3.4h-3.4zM763.6 1332.1h3.4v3.4h-3.4zM763.6 1359.3h3.4v3.4h-3.4zM763.6 1369.5h3.4v3.4h-3.4zM763.6 1376.3h3.4v3.4h-3.4zM763.6 1423.9h3.4v3.4h-3.4zM763.6 1457.9h3.4v3.4h-3.4zM763.6 1468.1h3.4v3.4h-3.4zM763.6 1478.3h3.4v3.4h-3.4zM763.6 1481.7h3.4v3.4h-3.4zM763.6 1491.9h3.4v3.4h-3.4zM763.6 1522.5h3.4v3.4h-3.4zM763.6 1529.3h3.4v3.4h-3.4zM763.6 1549.7h3.4v3.4h-3.4zM767.0 961.5h3.4v3.4h-3.4zM767.0 1026.1h3.4v3.4h-3.4zM767.0 1134.9h3.4v3.4h-3.4zM767.0 1165.5h3.4v3.4h-3.4zM767.0 1172.3h3.4v3.4h-3.4zM767.0 1206.3h3.4v3.4h-3.4zM767.0 1233.5h3.4v3.4h-3.4zM767.0 1287.9h3.4v3.4h-3.4zM767.0 1396.7h3.4v3.4h-3.4zM767.0 1410.3h3.4v3.4h-3.4zM767.0 1437.5h3.4v3.4h-3.4zM767.0 1447.7h3.4v3.4h-3.4zM767.0 1488.5h3.4v3.4h-3.4zM767.0 1553.1h3.4v3.4h-3.4zM1438.8 873.1h3.4v3.4h-3.4zM1438.8 907.1h3.4v3.4h-3.4zM1438.8 930.9h3.4v3.4h-3.4zM1438.8 934.3h3.4v3.4h-3.4zM1438.8 968.3h3.4v3.4h-3.4zM1438.8 971.7h3.4v3.4h-3.4zM1438.8 1005.7h3.4v3.4h-3.4zM1438.8 1009.1h3.4v3.4h-3.4zM1438.8 1012.5h3.4v3.4h-3.4zM1438.8 1015.9h3.4v3.4h-3.4zM1438.8 1019.3h3.4v3.4h-3.4zM1438.8 1026.1h3.4v3.4h-3.4zM1438.8 1046.5h3.4v3.4h-3.4zM1438.8 1063.5h3.4v3.4h-3.4zM1438.8 1114.5h3.4v3.4h-3.4zM1438.8 1124.7h3.4v3.4h-3.4zM1438.8 1179.1h3.4v3.4h-3.4zM1438.8 1196.1h3.4v3.4h-3.4zM1438.8 1206.3h3.4v3.4h-3.4zM1438.8 1216.5h3.4v3.4h-3.4zM1438.8 1264.1h3.4v3.4h-3.4zM1438.8 1270.9h3.4v3.4h-3.4zM1438.8 1277.7h3.4v3.4h-3.4zM1438.8 1281.1h3.4v3.4h-3.4zM1438.8 1301.5h3.4v3.4h-3.4zM1438.8 1315.1h3.4v3.4h-3.4zM1438.8 1335.5h3.4v3.4h-3.4zM1438.8 1342.3h3.4v3.4h-3.4zM1438.8 1359.3h3.4v3.4h-3.4zM1438.8 1376.3h3.4v3.4h-3.4zM1438.8 1400.1h3.4v3.4h-3.4zM1438.8 1410.3h3.4v3.4h-3.4zM1438.8 1413.7h3.4v3.4h-3.4zM1438.8 1430.7h3.4v3.4h-3.4zM1438.8 1434.1h3.4v3.4h-3.4zM1438.8 1444.3h3.4v3.4h-3.4zM1438.8 1461.3h3.4v3.4h-3.4zM1438.8 1468.1h3.4v3.4h-3.4zM1438.8 1485.1h3.4v3.4h-3.4zM1438.8 1532.7h3.4v3.4h-3.4zM760.2 1552.6h3.4v3.4h-3.4zM773.8 1552.6h3.4v3.4h-3.4zM794.2 1552.6h3.4v3.4h-3.4zM801.0 1552.6h3.4v3.4h-3.4zM811.2 1552.6h3.4v3.4h-3.4zM818.0 1552.6h3.4v3.4h-3.4zM821.4 1552.6h3.4v3.4h-3.4zM835.0 1552.6h3.4v3.4h-3.4zM841.8 1552.6h3.4v3.4h-3.4zM869.0 1552.6h3.4v3.4h-3.4zM875.8 1552.6h3.4v3.4h-3.4zM879.2 1552.6h3.4v3.4h-3.4zM916.6 1552.6h3.4v3.4h-3.4zM923.4 1552.6h3.4v3.4h-3.4zM967.6 1552.6h3.4v3.4h-3.4zM977.8 1552.6h3.4v3.4h-3.4zM981.2 1552.6h3.4v3.4h-3.4zM1039.0 1552.6h3.4v3.4h-3.4zM1042.4 1552.6h3.4v3.4h-3.4zM1059.4 1552.6h3.4v3.4h-3.4zM1076.4 1552.6h3.4v3.4h-3.4zM1086.6 1552.6h3.4v3.4h-3.4zM1110.4 1552.6h3.4v3.4h-3.4zM1117.2 1552.6h3.4v3.4h-3.4zM1141.0 1552.6h3.4v3.4h-3.4zM1151.2 1552.6h3.4v3.4h-3.4zM1161.4 1552.6h3.4v3.4h-3.4zM1215.8 1552.6h3.4v3.4h-3.4zM1239.6 1552.6h3.4v3.4h-3.4zM1253.2 1552.6h3.4v3.4h-3.4zM1263.4 1552.6h3.4v3.4h-3.4zM1273.6 1552.6h3.4v3.4h-3.4zM1277.0 1552.6h3.4v3.4h-3.4zM1280.4 1552.6h3.4v3.4h-3.4zM1290.6 1552.6h3.4v3.4h-3.4zM1294.0 1552.6h3.4v3.4h-3.4zM1314.4 1552.6h3.4v3.4h-3.4zM1331.4 1552.6h3.4v3.4h-3.4zM1409.6 1552.6h3.4v3.4h-3.4zM1419.8 1552.6h3.4v3.4h-3.4zM861.8 883.3h3.4v3.4h-3.4zM861.5 907.1h3.4v3.4h-3.4zM861.3 934.3h3.4v3.4h-3.4zM860.8 981.9h3.4v3.4h-3.4zM860.5 1012.5h3.4v3.4h-3.4zM860.3 1039.7h3.4v3.4h-3.4zM859.3 1141.7h3.4v3.4h-3.4zM858.9 1179.1h3.4v3.4h-3.4zM858.0 1270.9h3.4v3.4h-3.4zM857.8 1294.7h3.4v3.4h-3.4zM857.6 1315.1h3.4v3.4h-3.4zM856.9 1389.9h3.4v3.4h-3.4zM856.0 1481.7h3.4v3.4h-3.4zM855.8 1502.1h3.4v3.4h-3.4zM855.6 1522.5h3.4v3.4h-3.4zM855.5 1532.7h3.4v3.4h-3.4zM996.5 883.3h3.4v3.4h-3.4zM996.3 896.9h3.4v3.4h-3.4zM996.3 903.7h3.4v3.4h-3.4zM995.9 944.5h3.4v3.4h-3.4zM995.8 951.3h3.4v3.4h-3.4zM995.7 961.5h3.4v3.4h-3.4zM995.3 1009.1h3.4v3.4h-3.4zM994.4 1100.9h3.4v3.4h-3.4zM994.3 1107.7h3.4v3.4h-3.4zM994.0 1141.7h3.4v3.4h-3.4zM993.8 1162.1h3.4v3.4h-3.4zM993.8 1165.5h3.4v3.4h-3.4zM993.5 1196.1h3.4v3.4h-3.4zM993.4 1199.5h3.4v3.4h-3.4zM993.3 1216.5h3.4v3.4h-3.4zM992.9 1253.9h3.4v3.4h-3.4zM992.8 1267.5h3.4v3.4h-3.4zM992.6 1281.1h3.4v3.4h-3.4zM992.5 1291.3h3.4v3.4h-3.4zM992.2 1325.3h3.4v3.4h-3.4zM992.2 1332.1h3.4v3.4h-3.4zM991.9 1355.9h3.4v3.4h-3.4zM991.9 1362.7h3.4v3.4h-3.4zM991.5 1403.5h3.4v3.4h-3.4zM991.2 1434.1h3.4v3.4h-3.4zM991.1 1437.5h3.4v3.4h-3.4zM991.0 1447.7h3.4v3.4h-3.4zM991.0 1451.1h3.4v3.4h-3.4zM990.7 1485.1h3.4v3.4h-3.4zM990.6 1491.9h3.4v3.4h-3.4zM990.4 1515.7h3.4v3.4h-3.4zM990.3 1529.3h3.4v3.4h-3.4zM1131.1 893.5h3.4v3.4h-3.4zM1131.0 896.9h3.4v3.4h-3.4zM1130.9 910.5h3.4v3.4h-3.4zM1130.8 917.3h3.4v3.4h-3.4zM1130.7 930.9h3.4v3.4h-3.4zM1130.6 944.5h3.4v3.4h-3.4zM1130.4 958.1h3.4v3.4h-3.4zM1130.3 971.7h3.4v3.4h-3.4zM1130.1 998.9h3.4v3.4h-3.4zM1130.0 1002.3h3.4v3.4h-3.4zM1130.0 1005.7h3.4v3.4h-3.4zM1129.5 1053.3h3.4v3.4h-3.4zM1129.1 1097.5h3.4v3.4h-3.4zM1128.7 1138.3h3.4v3.4h-3.4zM1128.4 1172.3h3.4v3.4h-3.4zM1127.9 1226.7h3.4v3.4h-3.4zM1127.7 1240.3h3.4v3.4h-3.4zM1127.3 1281.1h3.4v3.4h-3.4zM1127.0 1318.5h3.4v3.4h-3.4zM1127.0 1321.9h3.4v3.4h-3.4zM1126.9 1325.3h3.4v3.4h-3.4zM1126.8 1335.5h3.4v3.4h-3.4zM1126.6 1359.3h3.4v3.4h-3.4zM1126.4 1379.7h3.4v3.4h-3.4zM1126.3 1393.3h3.4v3.4h-3.4zM1126.0 1417.1h3.4v3.4h-3.4zM1125.7 1447.7h3.4v3.4h-3.4zM1125.5 1468.1h3.4v3.4h-3.4zM1125.5 1471.5h3.4v3.4h-3.4zM1125.2 1508.9h3.4v3.4h-3.4zM1265.8 893.5h3.4v3.4h-3.4zM1265.6 907.1h3.4v3.4h-3.4zM1265.6 913.9h3.4v3.4h-3.4zM1265.5 924.1h3.4v3.4h-3.4zM1265.4 927.5h3.4v3.4h-3.4zM1265.3 944.5h3.4v3.4h-3.4zM1265.2 947.9h3.4v3.4h-3.4zM1265.1 964.9h3.4v3.4h-3.4zM1264.9 988.7h3.4v3.4h-3.4zM1264.6 1012.5h3.4v3.4h-3.4zM1264.5 1029.5h3.4v3.4h-3.4zM1264.3 1049.9h3.4v3.4h-3.4zM1264.1 1063.5h3.4v3.4h-3.4zM1264.0 1073.7h3.4v3.4h-3.4zM1263.4 1138.3h3.4v3.4h-3.4zM1263.4 1145.1h3.4v3.4h-3.4zM1263.1 1175.7h3.4v3.4h-3.4zM1262.4 1243.7h3.4v3.4h-3.4zM1262.3 1257.3h3.4v3.4h-3.4zM1262.0 1284.5h3.4v3.4h-3.4zM1261.8 1308.3h3.4v3.4h-3.4zM1261.4 1352.5h3.4v3.4h-3.4zM1261.3 1359.3h3.4v3.4h-3.4zM1261.3 1362.7h3.4v3.4h-3.4zM1260.9 1400.1h3.4v3.4h-3.4zM1260.6 1427.3h3.4v3.4h-3.4zM1260.3 1461.3h3.4v3.4h-3.4zM1260.1 1481.7h3.4v3.4h-3.4zM1400.5 886.7h3.4v3.4h-3.4zM1400.4 900.3h3.4v3.4h-3.4zM1400.3 913.9h3.4v3.4h-3.4zM1400.0 944.5h3.4v3.4h-3.4zM1399.3 1015.9h3.4v3.4h-3.4zM1399.2 1029.5h3.4v3.4h-3.4zM1399.1 1032.9h3.4v3.4h-3.4zM1399.0 1043.1h3.4v3.4h-3.4zM1398.9 1060.1h3.4v3.4h-3.4zM1398.8 1063.5h3.4v3.4h-3.4zM1398.5 1097.5h3.4v3.4h-3.4zM1398.5 1100.9h3.4v3.4h-3.4zM1398.4 1107.7h3.4v3.4h-3.4zM1398.1 1145.1h3.4v3.4h-3.4zM1397.8 1172.3h3.4v3.4h-3.4zM1397.6 1196.1h3.4v3.4h-3.4zM1397.4 1216.5h3.4v3.4h-3.4zM1397.1 1240.3h3.4v3.4h-3.4zM1396.4 1315.1h3.4v3.4h-3.4zM1396.4 1321.9h3.4v3.4h-3.4zM1396.3 1325.3h3.4v3.4h-3.4zM1396.1 1349.1h3.4v3.4h-3.4zM1395.9 1372.9h3.4v3.4h-3.4zM1395.8 1376.3h3.4v3.4h-3.4zM1395.3 1427.3h3.4v3.4h-3.4zM1395.2 1440.9h3.4v3.4h-3.4zM1395.1 1451.1h3.4v3.4h-3.4zM1395.0 1464.7h3.4v3.4h-3.4zM1394.9 1478.3h3.4v3.4h-3.4zM1394.8 1485.1h3.4v3.4h-3.4zM1394.7 1491.9h3.4v3.4h-3.4zM1394.6 1505.5h3.4v3.4h-3.4zM1394.6 1508.9h3.4v3.4h-3.4zM1394.3 1539.5h3.4v3.4h-3.4z" fill="#0c0c0c"/>
<path d="M763.6 873.1h3.4v3.4h-3.4zM767.0 873.1h3.4v3.4h-3.4zM770.4 873.1h3.4v3.4h-3.4zM780.6 873.1h3.4v3.4h-3.4zM784.0 873.1h3.4v3.4h-3.4zM787.4 873.1h3.4v3.4h-3.4zM790.8 873.1h3.4v3.4h-3.4zM797.6 873.1h3.4v3.4h-3.4zM801.0 873.1h3.4v3.4h-3.4zM804.4 873.1h3.4v3.4h-3.4zM814.6 873.1h3.4v3.4h-3.4zM821.4 873.1h3.4v3.4h-3.4zM841.8 873.1h3.4v3.4h-3.4zM848.6 873.1h3.4v3.4h-3.4zM852.0 873.1h3.4v3.4h-3.4zM858.8 873.1h3.4v3.4h-3.4zM882.6 873.1h3.4v3.4h-3.4zM913.2 873.1h3.4v3.4h-3.4zM943.8 873.1h3.4v3.4h-3.4zM950.6 873.1h3.4v3.4h-3.4zM967.6 873.1h3.4v3.4h-3.4zM991.4 873.1h3.4v3.4h-3.4zM1011.8 873.1h3.4v3.4h-3.4zM1018.6 873.1h3.4v3.4h-3.4zM1032.2 873.1h3.4v3.4h-3.4zM1066.2 873.1h3.4v3.4h-3.4zM1079.8 873.1h3.4v3.4h-3.4zM1086.6 873.1h3.4v3.4h-3.4zM1090.0 873.1h3.4v3.4h-3.4zM1093.4 873.1h3.4v3.4h-3.4zM1100.2 873.1h3.4v3.4h-3.4zM1113.8 873.1h3.4v3.4h-3.4zM1117.2 873.1h3.4v3.4h-3.4zM1120.6 873.1h3.4v3.4h-3.4zM1134.2 873.1h3.4v3.4h-3.4zM1144.4 873.1h3.4v3.4h-3.4zM1147.8 873.1h3.4v3.4h-3.4zM1168.2 873.1h3.4v3.4h-3.4zM1175.0 873.1h3.4v3.4h-3.4zM1192.0 873.1h3.4v3.4h-3.4zM1198.8 873.1h3.4v3.4h-3.4zM1205.6 873.1h3.4v3.4h-3.4zM1212.4 873.1h3.4v3.4h-3.4zM1215.8 873.1h3.4v3.4h-3.4zM1219.2 873.1h3.4v3.4h-3.4zM1226.0 873.1h3.4v3.4h-3.4zM1229.4 873.1h3.4v3.4h-3.4zM1236.2 873.1h3.4v3.4h-3.4zM1239.6 873.1h3.4v3.4h-3.4zM1243.0 873.1h3.4v3.4h-3.4zM1260.0 873.1h3.4v3.4h-3.4zM1270.2 873.1h3.4v3.4h-3.4zM1283.8 873.1h3.4v3.4h-3.4zM1294.0 873.1h3.4v3.4h-3.4zM1297.4 873.1h3.4v3.4h-3.4zM1307.6 873.1h3.4v3.4h-3.4zM1311.0 873.1h3.4v3.4h-3.4zM1314.4 873.1h3.4v3.4h-3.4zM1317.8 873.1h3.4v3.4h-3.4zM1324.6 873.1h3.4v3.4h-3.4zM1328.0 873.1h3.4v3.4h-3.4zM1338.2 873.1h3.4v3.4h-3.4zM1365.4 873.1h3.4v3.4h-3.4zM1389.2 873.1h3.4v3.4h-3.4zM1392.6 873.1h3.4v3.4h-3.4zM1396.0 873.1h3.4v3.4h-3.4zM1402.8 873.1h3.4v3.4h-3.4zM1409.6 873.1h3.4v3.4h-3.4zM1426.6 873.1h3.4v3.4h-3.4zM777.2 876.5h3.4v3.4h-3.4zM787.4 876.5h3.4v3.4h-3.4zM818.0 876.5h3.4v3.4h-3.4zM848.6 876.5h3.4v3.4h-3.4zM879.2 876.5h3.4v3.4h-3.4zM916.6 876.5h3.4v3.4h-3.4zM930.2 876.5h3.4v3.4h-3.4zM937.0 876.5h3.4v3.4h-3.4zM940.4 876.5h3.4v3.4h-3.4zM981.2 876.5h3.4v3.4h-3.4zM994.8 876.5h3.4v3.4h-3.4zM998.2 876.5h3.4v3.4h-3.4zM1001.6 876.5h3.4v3.4h-3.4zM1028.8 876.5h3.4v3.4h-3.4zM1052.6 876.5h3.4v3.4h-3.4zM1059.4 876.5h3.4v3.4h-3.4zM1062.8 876.5h3.4v3.4h-3.4zM1079.8 876.5h3.4v3.4h-3.4zM1103.6 876.5h3.4v3.4h-3.4zM1110.4 876.5h3.4v3.4h-3.4zM1113.8 876.5h3.4v3.4h-3.4zM1117.2 876.5h3.4v3.4h-3.4zM1120.6 876.5h3.4v3.4h-3.4zM1127.4 876.5h3.4v3.4h-3.4zM1134.2 876.5h3.4v3.4h-3.4zM1141.0 876.5h3.4v3.4h-3.4zM1144.4 876.5h3.4v3.4h-3.4zM1151.2 876.5h3.4v3.4h-3.4zM1158.0 876.5h3.4v3.4h-3.4zM1161.4 876.5h3.4v3.4h-3.4zM1178.4 876.5h3.4v3.4h-3.4zM1195.4 876.5h3.4v3.4h-3.4zM1205.6 876.5h3.4v3.4h-3.4zM1209.0 876.5h3.4v3.4h-3.4zM1219.2 876.5h3.4v3.4h-3.4zM1229.4 876.5h3.4v3.4h-3.4zM1239.6 876.5h3.4v3.4h-3.4zM1256.6 876.5h3.4v3.4h-3.4zM1297.4 876.5h3.4v3.4h-3.4zM1358.6 876.5h3.4v3.4h-3.4zM1362.0 876.5h3.4v3.4h-3.4zM1379.0 876.5h3.4v3.4h-3.4zM1396.0 876.5h3.4v3.4h-3.4zM1416.4 876.5h3.4v3.4h-3.4zM1426.6 876.5h3.4v3.4h-3.4zM1436.8 876.5h3.4v3.4h-3.4zM760.2 873.1h3.4v3.4h-3.4zM760.2 876.5h3.4v3.4h-3.4zM760.2 883.3h3.4v3.4h-3.4zM760.2 890.1h3.4v3.4h-3.4zM760.2 893.5h3.4v3.4h-3.4zM760.2 900.3h3.4v3.4h-3.4zM760.2 903.7h3.4v3.4h-3.4zM760.2 907.1h3.4v3.4h-3.4zM760.2 910.5h3.4v3.4h-3.4zM760.2 913.9h3.4v3.4h-3.4zM760.2 917.3h3.4v3.4h-3.4zM760.2 920.7h3.4v3.4h-3.4zM760.2 924.1h3.4v3.4h-3.4zM760.2 927.5h3.4v3.4h-3.4zM760.2 941.1h3.4v3.4h-3.4zM760.2 947.9h3.4v3.4h-3.4zM760.2 954.7h3.4v3.4h-3.4zM760.2 964.9h3.4v3.4h-3.4zM760.2 968.3h3.4v3.4h-3.4zM760.2 971.7h3.4v3.4h-3.4zM760.2 975.1h3.4v3.4h-3.4zM760.2 978.5h3.4v3.4h-3.4zM760.2 985.3h3.4v3.4h-3.4zM760.2 988.7h3.4v3.4h-3.4zM760.2 992.1h3.4v3.4h-3.4zM760.2 995.5h3.4v3.4h-3.4zM760.2 1002.3h3.4v3.4h-3.4zM760.2 1005.7h3.4v3.4h-3.4zM760.2 1012.5h3.4v3.4h-3.4zM760.2 1015.9h3.4v3.4h-3.4zM760.2 1019.3h3.4v3.4h-3.4zM760.2 1022.7h3.4v3.4h-3.4zM760.2 1026.1h3.4v3.4h-3.4zM760.2 1032.9h3.4v3.4h-3.4zM760.2 1043.1h3.4v3.4h-3.4zM760.2 1046.5h3.4v3.4h-3.4zM760.2 1049.9h3.4v3.4h-3.4zM760.2 1053.3h3.4v3.4h-3.4zM760.2 1056.7h3.4v3.4h-3.4zM760.2 1060.1h3.4v3.4h-3.4zM760.2 1063.5h3.4v3.4h-3.4zM760.2 1066.9h3.4v3.4h-3.4zM760.2 1070.3h3.4v3.4h-3.4zM760.2 1077.1h3.4v3.4h-3.4zM760.2 1080.5h3.4v3.4h-3.4zM760.2 1087.3h3.4v3.4h-3.4zM760.2 1097.5h3.4v3.4h-3.4zM760.2 1100.9h3.4v3.4h-3.4zM760.2 1107.7h3.4v3.4h-3.4zM760.2 1111.1h3.4v3.4h-3.4zM760.2 1121.3h3.4v3.4h-3.4zM760.2 1124.7h3.4v3.4h-3.4zM760.2 1128.1h3.4v3.4h-3.4zM760.2 1131.5h3.4v3.4h-3.4zM760.2 1151.9h3.4v3.4h-3.4zM760.2 1155.3h3.4v3.4h-3.4zM760.2 1165.5h3.4v3.4h-3.4zM760.2 1168.9h3.4v3.4h-3.4zM760.2 1175.7h3.4v3.4h-3.4zM760.2 1179.1h3.4v3.4h-3.4zM760.2 1182.5h3.4v3.4h-3.4zM760.2 1185.9h3.4v3.4h-3.4zM760.2 1189.3h3.4v3.4h-3.4zM760.2 1192.7h3.4v3.4h-3.4zM760.2 1196.1h3.4v3.4h-3.4zM760.2 1223.3h3.4v3.4h-3.4zM760.2 1230.1h3.4v3.4h-3.4zM760.2 1236.9h3.4v3.4h-3.4zM760.2 1240.3h3.4v3.4h-3.4zM760.2 1250.5h3.4v3.4h-3.4zM760.2 1253.9h3.4v3.4h-3.4zM760.2 1257.3h3.4v3.4h-3.4zM760.2 1264.1h3.4v3.4h-3.4zM760.2 1267.5h3.4v3.4h-3.4zM760.2 1274.3h3.4v3.4h-3.4zM760.2 1277.7h3.4v3.4h-3.4zM760.2 1284.5h3.4v3.4h-3.4zM760.2 1287.9h3.4v3.4h-3.4zM760.2 1291.3h3.4v3.4h-3.4zM760.2 1294.7h3.4v3.4h-3.4zM760.2 1298.1h3.4v3.4h-3.4zM760.2 1301.5h3.4v3.4h-3.4zM760.2 1304.9h3.4v3.4h-3.4zM760.2 1308.3h3.4v3.4h-3.4zM760.2 1311.7h3.4v3.4h-3.4zM760.2 1315.1h3.4v3.4h-3.4zM760.2 1318.5h3.4v3.4h-3.4zM760.2 1321.9h3.4v3.4h-3.4zM760.2 1325.3h3.4v3.4h-3.4zM760.2 1335.5h3.4v3.4h-3.4zM760.2 1342.3h3.4v3.4h-3.4zM760.2 1349.1h3.4v3.4h-3.4zM760.2 1352.5h3.4v3.4h-3.4zM760.2 1359.3h3.4v3.4h-3.4zM760.2 1362.7h3.4v3.4h-3.4zM760.2 1366.1h3.4v3.4h-3.4zM760.2 1369.5h3.4v3.4h-3.4zM760.2 1372.9h3.4v3.4h-3.4zM760.2 1376.3h3.4v3.4h-3.4zM760.2 1379.7h3.4v3.4h-3.4zM760.2 1383.1h3.4v3.4h-3.4zM760.2 1386.5h3.4v3.4h-3.4zM760.2 1393.3h3.4v3.4h-3.4zM760.2 1396.7h3.4v3.4h-3.4zM760.2 1400.1h3.4v3.4h-3.4zM760.2 1403.5h3.4v3.4h-3.4zM760.2 1410.3h3.4v3.4h-3.4zM760.2 1417.1h3.4v3.4h-3.4zM760.2 1420.5h3.4v3.4h-3.4zM760.2 1427.3h3.4v3.4h-3.4zM760.2 1430.7h3.4v3.4h-3.4zM760.2 1434.1h3.4v3.4h-3.4zM760.2 1437.5h3.4v3.4h-3.4zM760.2 1444.3h3.4v3.4h-3.4zM760.2 1447.7h3.4v3.4h-3.4zM760.2 1457.9h3.4v3.4h-3.4zM760.2 1461.3h3.4v3.4h-3.4zM760.2 1464.7h3.4v3.4h-3.4zM760.2 1481.7h3.4v3.4h-3.4zM760.2 1495.3h3.4v3.4h-3.4zM760.2 1508.9h3.4v3.4h-3.4zM760.2 1515.7h3.4v3.4h-3.4zM760.2 1522.5h3.4v3.4h-3.4zM760.2 1525.9h3.4v3.4h-3.4zM760.2 1532.7h3.4v3.4h-3.4zM760.2 1536.1h3.4v3.4h-3.4zM760.2 1549.7h3.4v3.4h-3.4zM760.2 1553.1h3.4v3.4h-3.4zM763.6 930.9h3.4v3.4h-3.4zM763.6 944.5h3.4v3.4h-3.4zM763.6 954.7h3.4v3.4h-3.4zM763.6 971.7h3.4v3.4h-3.4zM763.6 981.9h3.4v3.4h-3.4zM763.6 1009.1h3.4v3.4h-3.4zM763.6 1039.7h3.4v3.4h-3.4zM763.6 1053.3h3.4v3.4h-3.4zM763.6 1073.7h3.4v3.4h-3.4zM763.6 1097.5h3.4v3.4h-3.4zM763.6 1138.3h3.4v3.4h-3.4zM763.6 1199.5h3.4v3.4h-3.4zM763.6 1274.3h3.4v3.4h-3.4zM763.6 1301.5h3.4v3.4h-3.4zM763.6 1318.5h3.4v3.4h-3.4zM763.6 1342.3h3.4v3.4h-3.4zM763.6 1349.1h3.4v3.4h-3.4zM763.6 1393.3h3.4v3.4h-3.4zM763.6 1498.7h3.4v3.4h-3.4zM763.6 1505.5h3.4v3.4h-3.4zM1438.8 883.3h3.4v3.4h-3.4zM1438.8 886.7h3.4v3.4h-3.4zM1438.8 893.5h3.4v3.4h-3.4zM1438.8 900.3h3.4v3.4h-3.4zM1438.8 910.5h3.4v3.4h-3.4zM1438.8 913.9h3.4v3.4h-3.4zM1438.8 920.7h3.4v3.4h-3.4zM1438.8 927.5h3.4v3.4h-3.4zM1438.8 944.5h3.4v3.4h-3.4zM1438.8 958.1h3.4v3.4h-3.4zM1438.8 975.1h3.4v3.4h-3.4zM1438.8 978.5h3.4v3.4h-3.4zM1438.8 988.7h3.4v3.4h-3.4zM1438.8 992.1h3.4v3.4h-3.4zM1438.8 995.5h3.4v3.4h-3.4zM1438.8 998.9h3.4v3.4h-3.4zM1438.8 1029.5h3.4v3.4h-3.4zM1438.8 1039.7h3.4v3.4h-3.4zM1438.8 1056.7h3.4v3.4h-3.4zM1438.8 1060.1h3.4v3.4h-3.4zM1438.8 1066.9h3.4v3.4h-3.4zM1438.8 1070.3h3.4v3.4h-3.4zM1438.8 1080.5h3.4v3.4h-3.4zM1438.8 1107.7h3.4v3.4h-3.4zM1438.8 1111.1h3.4v3.4h-3.4zM1438.8 1121.3h3.4v3.4h-3.4zM1438.8 1128.1h3.4v3.4h-3.4zM1438.8 1131.5h3.4v3.4h-3.4zM1438.8 1138.3h3.4v3.4h-3.4zM1438.8 1148.5h3.4v3.4h-3.4zM1438.8 1155.3h3.4v3.4h-3.4zM1438.8 1165.5h3.4v3.4h-3.4zM1438.8 1172.3h3.4v3.4h-3.4zM1438.8 1192.7h3.4v3.4h-3.4zM1438.8 1202.9h3.4v3.4h-3.4zM1438.8 1213.1h3.4v3.4h-3.4zM1438.8 1226.7h3.4v3.4h-3.4zM1438.8 1233.5h3.4v3.4h-3.4zM1438.8 1236.9h3.4v3.4h-3.4zM1438.8 1243.7h3.4v3.4h-3.4zM1438.8 1250.5h3.4v3.4h-3.4zM1438.8 1253.9h3.4v3.4h-3.4zM1438.8 1284.5h3.4v3.4h-3.4zM1438.8 1291.3h3.4v3.4h-3.4zM1438.8 1304.9h3.4v3.4h-3.4zM1438.8 1321.9h3.4v3.4h-3.4zM1438.8 1328.7h3.4v3.4h-3.4zM1438.8 1338.9h3.4v3.4h-3.4zM1438.8 1349.1h3.4v3.4h-3.4zM1438.8 1352.5h3.4v3.4h-3.4zM1438.8 1366.1h3.4v3.4h-3.4zM1438.8 1369.5h3.4v3.4h-3.4zM1438.8 1372.9h3.4v3.4h-3.4zM1438.8 1379.7h3.4v3.4h-3.4zM1438.8 1386.5h3.4v3.4h-3.4zM1438.8 1396.7h3.4v3.4h-3.4zM1438.8 1417.1h3.4v3.4h-3.4zM1438.8 1420.5h3.4v3.4h-3.4zM1438.8 1423.9h3.4v3.4h-3.4zM1438.8 1437.5h3.4v3.4h-3.4zM1438.8 1440.9h3.4v3.4h-3.4zM1438.8 1457.9h3.4v3.4h-3.4zM1438.8 1474.9h3.4v3.4h-3.4zM1438.8 1478.3h3.4v3.4h-3.4zM1438.8 1481.7h3.4v3.4h-3.4zM1438.8 1491.9h3.4v3.4h-3.4zM1438.8 1495.3h3.4v3.4h-3.4zM1438.8 1515.7h3.4v3.4h-3.4zM1438.8 1522.5h3.4v3.4h-3.4zM1438.8 1525.9h3.4v3.4h-3.4zM1438.8 1536.1h3.4v3.4h-3.4zM1438.8 1539.5h3.4v3.4h-3.4zM1438.8 1546.3h3.4v3.4h-3.4zM1438.8 1549.7h3.4v3.4h-3.4zM1435.4 883.3h3.4v3.4h-3.4zM1435.4 886.7h3.4v3.4h-3.4zM1435.4 927.5h3.4v3.4h-3.4zM1435.4 971.7h3.4v3.4h-3.4zM1435.4 1036.3h3.4v3.4h-3.4zM1435.4 1043.1h3.4v3.4h-3.4zM1435.4 1060.1h3.4v3.4h-3.4zM1435.4 1134.9h3.4v3.4h-3.4zM1435.4 1172.3h3.4v3.4h-3.4zM1435.4 1233.5h3.4v3.4h-3.4zM1435.4 1240.3h3.4v3.4h-3.4zM1435.4 1325.3h3.4v3.4h-3.4zM1435.4 1338.9h3.4v3.4h-3.4zM1435.4 1362.7h3.4v3.4h-3.4zM1435.4 1396.7h3.4v3.4h-3.4zM1435.4 1413.7h3.4v3.4h-3.4zM1435.4 1430.7h3.4v3.4h-3.4zM1435.4 1454.5h3.4v3.4h-3.4zM1435.4 1488.5h3.4v3.4h-3.4zM1435.4 1491.9h3.4v3.4h-3.4zM1435.4 1529.3h3.4v3.4h-3.4zM763.6 1552.6h3.4v3.4h-3.4zM767.0 1552.6h3.4v3.4h-3.4zM777.2 1552.6h3.4v3.4h-3.4zM797.6 1552.6h3.4v3.4h-3.4zM814.6 1552.6h3.4v3.4h-3.4zM824.8 1552.6h3.4v3.4h-3.4zM828.2 1552.6h3.4v3.4h-3.4zM831.6 1552.6h3.4v3.4h-3.4zM838.4 1552.6h3.4v3.4h-3.4zM845.2 1552.6h3.4v3.4h-3.4zM852.0 1552.6h3.4v3.4h-3.4zM855.4 1552.6h3.4v3.4h-3.4zM862.2 1552.6h3.4v3.4h-3.4zM865.6 1552.6h3.4v3.4h-3.4zM882.6 1552.6h3.4v3.4h-3.4zM886.0 1552.6h3.4v3.4h-3.4zM896.2 1552.6h3.4v3.4h-3.4zM903.0 1552.6h3.4v3.4h-3.4zM909.8 1552.6h3.4v3.4h-3.4zM913.2 1552.6h3.4v3.4h-3.4zM920.0 1552.6h3.4v3.4h-3.4zM926.8 1552.6h3.4v3.4h-3.4zM933.6 1552.6h3.4v3.4h-3.4zM940.4 1552.6h3.4v3.4h-3.4zM947.2 1552.6h3.4v3.4h-3.4zM957.4 1552.6h3.4v3.4h-3.4zM971.0 1552.6h3.4v3.4h-3.4zM974.4 1552.6h3.4v3.4h-3.4zM988.0 1552.6h3.4v3.4h-3.4zM991.4 1552.6h3.4v3.4h-3.4zM994.8 1552.6h3.4v3.4h-3.4zM998.2 1552.6h3.4v3.4h-3.4zM1001.6 1552.6h3.4v3.4h-3.4zM1018.6 1552.6h3.4v3.4h-3.4zM1052.6 1552.6h3.4v3.4h-3.4zM1073.0 1552.6h3.4v3.4h-3.4zM1079.8 1552.6h3.4v3.4h-3.4zM1090.0 1552.6h3.4v3.4h-3.4zM1100.2 1552.6h3.4v3.4h-3.4zM1103.6 1552.6h3.4v3.4h-3.4zM1107.0 1552.6h3.4v3.4h-3.4zM1120.6 1552.6h3.4v3.4h-3.4zM1127.4 1552.6h3.4v3.4h-3.4zM1137.6 1552.6h3.4v3.4h-3.4zM1144.4 1552.6h3.4v3.4h-3.4zM1164.8 1552.6h3.4v3.4h-3.4zM1195.4 1552.6h3.4v3.4h-3.4zM1205.6 1552.6h3.4v3.4h-3.4zM1212.4 1552.6h3.4v3.4h-3.4zM1232.8 1552.6h3.4v3.4h-3.4zM1236.2 1552.6h3.4v3.4h-3.4zM1256.6 1552.6h3.4v3.4h-3.4zM1260.0 1552.6h3.4v3.4h-3.4zM1283.8 1552.6h3.4v3.4h-3.4zM1297.4 1552.6h3.4v3.4h-3.4zM1300.8 1552.6h3.4v3.4h-3.4zM1304.2 1552.6h3.4v3.4h-3.4zM1307.6 1552.6h3.4v3.4h-3.4zM1324.6 1552.6h3.4v3.4h-3.4zM1351.8 1552.6h3.4v3.4h-3.4zM1365.4 1552.6h3.4v3.4h-3.4zM1372.2 1552.6h3.4v3.4h-3.4zM1379.0 1552.6h3.4v3.4h-3.4zM1382.4 1552.6h3.4v3.4h-3.4zM1389.2 1552.6h3.4v3.4h-3.4zM1392.6 1552.6h3.4v3.4h-3.4zM1399.4 1552.6h3.4v3.4h-3.4zM1402.8 1552.6h3.4v3.4h-3.4zM1406.2 1552.6h3.4v3.4h-3.4zM1413.0 1552.6h3.4v3.4h-3.4zM1423.2 1552.6h3.4v3.4h-3.4zM760.2 1549.2h3.4v3.4h-3.4zM773.8 1549.2h3.4v3.4h-3.4zM801.0 1549.2h3.4v3.4h-3.4zM821.4 1549.2h3.4v3.4h-3.4zM845.2 1549.2h3.4v3.4h-3.4zM896.2 1549.2h3.4v3.4h-3.4zM913.2 1549.2h3.4v3.4h-3.4zM916.6 1549.2h3.4v3.4h-3.4zM920.0 1549.2h3.4v3.4h-3.4zM926.8 1549.2h3.4v3.4h-3.4zM930.2 1549.2h3.4v3.4h-3.4zM940.4 1549.2h3.4v3.4h-3.4zM954.0 1549.2h3.4v3.4h-3.4zM977.8 1549.2h3.4v3.4h-3.4zM988.0 1549.2h3.4v3.4h-3.4zM994.8 1549.2h3.4v3.4h-3.4zM998.2 1549.2h3.4v3.4h-3.4zM1005.0 1549.2h3.4v3.4h-3.4zM1022.0 1549.2h3.4v3.4h-3.4zM1039.0 1549.2h3.4v3.4h-3.4zM1042.4 1549.2h3.4v3.4h-3.4zM1045.8 1549.2h3.4v3.4h-3.4zM1073.0 1549.2h3.4v3.4h-3.4zM1083.2 1549.2h3.4v3.4h-3.4zM1103.6 1549.2h3.4v3.4h-3.4zM1110.4 1549.2h3.4v3.4h-3.4zM1137.6 1549.2h3.4v3.4h-3.4zM1147.8 1549.2h3.4v3.4h-3.4zM1154.6 1549.2h3.4v3.4h-3.4zM1161.4 1549.2h3.4v3.4h-3.4zM1185.2 1549.2h3.4v3.4h-3.4zM1188.6 1549.2h3.4v3.4h-3.4zM1195.4 1549.2h3.4v3.4h-3.4zM1202.2 1549.2h3.4v3.4h-3.4zM1205.6 1549.2h3.4v3.4h-3.4zM1209.0 1549.2h3.4v3.4h-3.4zM1226.0 1549.2h3.4v3.4h-3.4zM1236.2 1549.2h3.4v3.4h-3.4zM1239.6 1549.2h3.4v3.4h-3.4zM1246.4 1549.2h3.4v3.4h-3.4zM1253.2 1549.2h3.4v3.4h-3.4zM1256.6 1549.2h3.4v3.4h-3.4zM1270.2 1549.2h3.4v3.4h-3.4zM1283.8 1549.2h3.4v3.4h-3.4zM1297.4 1549.2h3.4v3.4h-3.4zM1307.6 1549.2h3.4v3.4h-3.4zM1314.4 1549.2h3.4v3.4h-3.4zM1331.4 1549.2h3.4v3.4h-3.4zM1338.2 1549.2h3.4v3.4h-3.4zM1355.2 1549.2h3.4v3.4h-3.4zM1372.2 1549.2h3.4v3.4h-3.4zM1389.2 1549.2h3.4v3.4h-3.4zM1392.6 1549.2h3.4v3.4h-3.4zM1396.0 1549.2h3.4v3.4h-3.4zM1406.2 1549.2h3.4v3.4h-3.4zM1413.0 1549.2h3.4v3.4h-3.4zM1433.4 1549.2h3.4v3.4h-3.4zM865.1 886.7h3.4v3.4h-3.4zM863.9 1019.3h3.4v3.4h-3.4zM863.8 1029.5h3.4v3.4h-3.4zM863.1 1100.9h3.4v3.4h-3.4zM862.9 1117.9h3.4v3.4h-3.4zM862.8 1128.1h3.4v3.4h-3.4zM862.7 1134.9h3.4v3.4h-3.4zM862.5 1158.7h3.4v3.4h-3.4zM862.4 1168.9h3.4v3.4h-3.4zM861.9 1223.3h3.4v3.4h-3.4zM860.6 1362.7h3.4v3.4h-3.4zM860.4 1383.1h3.4v3.4h-3.4zM859.9 1430.7h3.4v3.4h-3.4zM859.6 1464.7h3.4v3.4h-3.4zM858.9 1539.5h3.4v3.4h-3.4zM998.6 1015.9h3.4v3.4h-3.4zM998.4 1036.3h3.4v3.4h-3.4zM998.3 1046.5h3.4v3.4h-3.4zM998.2 1060.1h3.4v3.4h-3.4zM998.1 1066.9h3.4v3.4h-3.4zM997.5 1128.1h3.4v3.4h-3.4zM997.4 1145.1h3.4v3.4h-3.4zM997.1 1168.9h3.4v3.4h-3.4zM996.3 1250.5h3.4v3.4h-3.4zM995.5 1335.5h3.4v3.4h-3.4zM995.0 1393.3h3.4v3.4h-3.4zM994.1 1481.7h3.4v3.4h-3.4zM993.9 1502.1h3.4v3.4h-3.4zM993.9 1508.9h3.4v3.4h-3.4zM1133.6 985.3h3.4v3.4h-3.4zM1132.8 1070.3h3.4v3.4h-3.4zM1131.6 1196.1h3.4v3.4h-3.4zM1131.0 1253.9h3.4v3.4h-3.4zM1130.3 1332.1h3.4v3.4h-3.4zM1130.0 1355.9h3.4v3.4h-3.4zM1129.4 1420.5h3.4v3.4h-3.4zM1129.3 1427.3h3.4v3.4h-3.4zM1129.2 1440.9h3.4v3.4h-3.4zM1129.2 1444.3h3.4v3.4h-3.4zM1128.9 1478.3h3.4v3.4h-3.4zM1128.7 1491.9h3.4v3.4h-3.4zM1128.3 1532.7h3.4v3.4h-3.4zM1268.8 934.3h3.4v3.4h-3.4zM1268.1 1002.3h3.4v3.4h-3.4zM1267.6 1060.1h3.4v3.4h-3.4zM1267.2 1100.9h3.4v3.4h-3.4zM1266.9 1124.7h3.4v3.4h-3.4zM1266.7 1151.9h3.4v3.4h-3.4zM1266.7 1155.3h3.4v3.4h-3.4zM1265.7 1250.5h3.4v3.4h-3.4zM1265.5 1277.7h3.4v3.4h-3.4zM1265.3 1291.3h3.4v3.4h-3.4zM1265.3 1294.7h3.4v3.4h-3.4zM1265.1 1315.1h3.4v3.4h-3.4zM1264.1 1423.9h3.4v3.4h-3.4zM1263.9 1437.5h3.4v3.4h-3.4zM1263.4 1498.7h3.4v3.4h-3.4zM1403.8 903.7h3.4v3.4h-3.4zM1403.4 937.7h3.4v3.4h-3.4zM1403.3 951.3h3.4v3.4h-3.4zM1403.0 981.9h3.4v3.4h-3.4zM1402.7 1012.5h3.4v3.4h-3.4zM1402.5 1036.3h3.4v3.4h-3.4zM1402.1 1073.7h3.4v3.4h-3.4zM1401.8 1104.3h3.4v3.4h-3.4zM1401.5 1134.9h3.4v3.4h-3.4zM1401.4 1148.5h3.4v3.4h-3.4zM1401.1 1179.1h3.4v3.4h-3.4zM1400.9 1206.3h3.4v3.4h-3.4zM1400.8 1209.7h3.4v3.4h-3.4zM1400.1 1281.1h3.4v3.4h-3.4zM1399.7 1332.1h3.4v3.4h-3.4zM1399.5 1345.7h3.4v3.4h-3.4zM1398.0 1502.1h3.4v3.4h-3.4zM1397.9 1512.3h3.4v3.4h-3.4zM1397.8 1522.5h3.4v3.4h-3.4zM1397.8 1525.9h3.4v3.4h-3.4z" fill="#fafafa"/>
<path d="M864.4 1204.5H996" stroke="#ffff00" stroke-width="7.3" stroke-linecap="round" stroke-dasharray="20.2 21.3" fill="none"/>
<polygon points="1510,368 1713,368 1713,343.3 1788,380.4 1713,417.5 1713,392.7 1510,392.7" fill="#002060"/>
<polygon points="1762.5,686.7 1774.3,707.6 1553.7,831.4 1565.5,852.4 1482,856.3 1529,788.2 1540.8,809.2" fill="#002060"/>
<rect x="1754.6" y="861.4" width="945.1" height="707.8" fill="none" stroke="#000" stroke-width="3"/>
<path d="M1754.6 1480.7h15M1754.6 1392.3h15M1754.6 1303.8h15M1754.6 1215.3h15M1754.6 1126.8h15M1754.6 1038.3h15M1754.6 949.9h15M1754.6 1525.0h9.5M1754.6 1436.5h9.5M1754.6 1348.0h9.5M1754.6 1259.5h9.5M1754.6 1171.1h9.5M1754.6 1082.6h9.5M1754.6 994.1h9.5M1754.6 905.6h9.5M1853.8 1569.2v-14M2041.8 1569.2v-14M2229.8 1569.2v-14M2417.8 1569.2v-14M2605.8 1569.2v-14M1947.8 1569.2v-8M2135.8 1569.2v-8M2323.8 1569.2v-8M2511.8 1569.2v-8" stroke="#000" stroke-width="3" stroke-linecap="round" fill="none"/>
<path d="M1873.8 1480.3L1881.3 1476.1M1892.2 1468.7L1900.7 1462.0M1910.9 1453.6L1919.8 1445.9M1930.8 1439.0L1937.6 1436.1M1948.1 1428.6L1958.1 1417.6M1968.0 1409.0L1976.0 1403.7M1987.3 1397.0L1994.4 1393.4M2005.8 1386.7L2013.8 1381.1M2025.4 1375.1L2031.9 1372.8M2042.8 1365.9L2052.3 1356.6M2062.8 1348.9L2070.1 1345.0M2081.0 1337.8L2089.6 1330.8M2100.4 1323.3L2108.0 1318.7M2118.5 1310.8L2127.8 1301.9M2138.8 1295.1L2145.3 1292.8M2156.4 1286.1L2165.4 1278.1M2176.1 1270.4L2183.5 1266.1M2194.1 1258.3L2203.3 1249.7M2212.8 1240.5L2222.4 1230.9M2233.6 1227.0L2239.3 1227.6M2249.7 1223.0L2261.0 1207.2M2270.1 1197.9L2278.4 1191.6M2289.7 1184.9L2296.6 1181.8M2306.6 1173.8L2317.4 1159.8M2327.7 1152.5L2334.1 1150.3M2345.5 1144.1L2354.0 1137.5M2365.4 1130.9L2372.0 1128.3M2383.7 1122.3L2391.4 1117.3M2401.7 1109.2L2411.2 1100.0M2420.8 1091.0L2429.9 1082.9M2440.2 1074.6L2448.3 1068.8M2459.4 1061.6L2466.9 1057.1M2477.8 1049.8L2486.2 1043.2M2496.4 1034.8L2505.4 1026.7M2515.1 1017.7L2524.5 1008.9M2535.3 1001.6L2542.1 998.4M2552.7 991.0L2562.4 980.9M2571.8 971.6L2581.2 962.6M2591.3 954.1L2599.5 948.2" fill="none" stroke="#000" stroke-width="3.6" stroke-linecap="round"/>
<g fill="#0000ff"><circle cx="1868.1" cy="1483.6" r="4.5"/><circle cx="1887.0" cy="1472.8" r="4.5"/><circle cx="1905.9" cy="1457.9" r="4.5"/><circle cx="1924.8" cy="1441.6" r="4.5"/><circle cx="1943.7" cy="1433.5" r="4.5"/><circle cx="1962.5" cy="1412.7" r="4.5"/><circle cx="1981.4" cy="1400.0" r="4.5"/><circle cx="2000.3" cy="1390.4" r="4.5"/><circle cx="2019.2" cy="1377.4" r="4.5"/><circle cx="2038.1" cy="1370.5" r="4.5"/><circle cx="2057.0" cy="1352.0" r="4.5"/><circle cx="2075.9" cy="1341.9" r="4.5"/><circle cx="2094.8" cy="1326.7" r="4.5"/><circle cx="2113.7" cy="1315.3" r="4.5"/><circle cx="2132.6" cy="1297.4" r="4.5"/><circle cx="2151.4" cy="1290.5" r="4.5"/><circle cx="2170.3" cy="1273.7" r="4.5"/><circle cx="2189.2" cy="1262.8" r="4.5"/><circle cx="2208.1" cy="1245.2" r="4.5"/><circle cx="2227.0" cy="1226.2" r="4.5"/><circle cx="2245.9" cy="1228.4" r="4.5"/><circle cx="2264.8" cy="1201.8" r="4.5"/><circle cx="2283.7" cy="1187.7" r="4.5"/><circle cx="2302.6" cy="1179.0" r="4.5"/><circle cx="2321.5" cy="1154.6" r="4.5"/><circle cx="2340.3" cy="1148.2" r="4.5"/><circle cx="2359.2" cy="1133.4" r="4.5"/><circle cx="2378.1" cy="1125.8" r="4.5"/><circle cx="2397.0" cy="1113.8" r="4.5"/><circle cx="2415.9" cy="1095.4" r="4.5"/><circle cx="2434.8" cy="1078.5" r="4.5"/><circle cx="2453.7" cy="1064.9" r="4.5"/><circle cx="2472.6" cy="1053.8" r="4.5"/><circle cx="2491.5" cy="1039.2" r="4.5"/><circle cx="2510.4" cy="1022.3" r="4.5"/><circle cx="2529.2" cy="1004.3" r="4.5"/><circle cx="2548.1" cy="995.7" r="4.5"/><circle cx="2567.0" cy="976.2" r="4.5"/><circle cx="2585.9" cy="958.0" r="4.5"/><circle cx="2604.8" cy="944.3" r="4.5"/></g>
<path d="M1868 1489L2606.2 954.2" stroke="#eb2525" stroke-opacity=".75" stroke-width="3.4" fill="none"/>
<g font-family="'Liberation Serif',serif" font-size="48px" fill="#000">
<text x="1733.7" y="1584.6" text-anchor="end" textLength="27.5" lengthAdjust="spacingAndGlyphs">4</text>
<text x="1662" y="1584.6" textLength="40" lengthAdjust="spacingAndGlyphs">−</text>
<text x="1733.7" y="1496.1" text-anchor="end" textLength="27.5" lengthAdjust="spacingAndGlyphs">3</text>
<text x="1662" y="1496.1" textLength="40" lengthAdjust="spacingAndGlyphs">−</text>
<text x="1733.7" y="1407.7" text-anchor="end" textLength="27.5" lengthAdjust="spacingAndGlyphs">2</text>
<text x="1662" y="1407.7" textLength="40" lengthAdjust="spacingAndGlyphs">−</text>
<text x="1733.7" y="1319.2" text-anchor="end" textLength="27.5" lengthAdjust="spacingAndGlyphs">1</text>
<text x="1662" y="1319.2" textLength="40" lengthAdjust="spacingAndGlyphs">−</text>
<text x="1733.7" y="1230.7" text-anchor="end" textLength="27.5" lengthAdjust="spacingAndGlyphs">0</text>
<text x="1733.7" y="1142.2" text-anchor="end" textLength="27.5" lengthAdjust="spacingAndGlyphs">1</text>
<text x="1733.7" y="1053.7" text-anchor="end" textLength="27.5" lengthAdjust="spacingAndGlyphs">2</text>
<text x="1733.7" y="965.3" text-anchor="end" textLength="27.5" lengthAdjust="spacingAndGlyphs">3</text>
<text x="1733.7" y="874.8" text-anchor="end" textLength="27.5" lengthAdjust="spacingAndGlyphs">4</text>
<text x="1853.8" y="1626" text-anchor="middle" textLength="27.5" lengthAdjust="spacingAndGlyphs">0</text>
<text x="2041.8" y="1626" text-anchor="middle" textLength="55.0" lengthAdjust="spacingAndGlyphs">10</text>
<text x="2229.8" y="1626" text-anchor="middle" textLength="55.0" lengthAdjust="spacingAndGlyphs">20</text>
<text x="2417.8" y="1626" text-anchor="middle" textLength="55.0" lengthAdjust="spacingAndGlyphs">30</text>
<text x="2605.8" y="1626" text-anchor="middle" textLength="55.0" lengthAdjust="spacingAndGlyphs">40</text>
</g>
<text x="1777" y="922" font-family="'Liberation Serif',serif" font-size="53.5px" letter-spacing="3.6">(d)</text>
<text x="2227" y="1699.5" text-anchor="middle" font-family="'Liberation Serif','Noto Serif CJK SC',serif" font-size="49.3px">像素坐标</text>
<text transform="translate(1606 1216) rotate(-90)" text-anchor="middle" font-family="'Liberation Serif','Noto Serif CJK SC',serif" font-size="49.3px">相位值</text>
<text x="1615.4" y="340" text-anchor="middle" font-family="'Liberation Serif','Noto Serif CJK SC',serif" font-size="49.2px">反卷积</text>
<text x="1615.4" y="460" text-anchor="middle" font-family="'Liberation Serif','Noto Serif CJK SC',serif" font-size="49.2px">图像重构</text>
<text transform="translate(1637.5 728.5) rotate(-29)" text-anchor="middle" font-family="'Liberation Serif','Noto Serif CJK SC',serif" font-size="48.8px">计算相位</text>
</svg>
<div class="lab" style="left:647px;top:18px">(a)</div>
<div class="lab" style="left:1792px;top:18px">(b)</div>
<div class="lab" style="left:650px;top:844px;letter-spacing:2.2px">(c)</div>
</body></html>
